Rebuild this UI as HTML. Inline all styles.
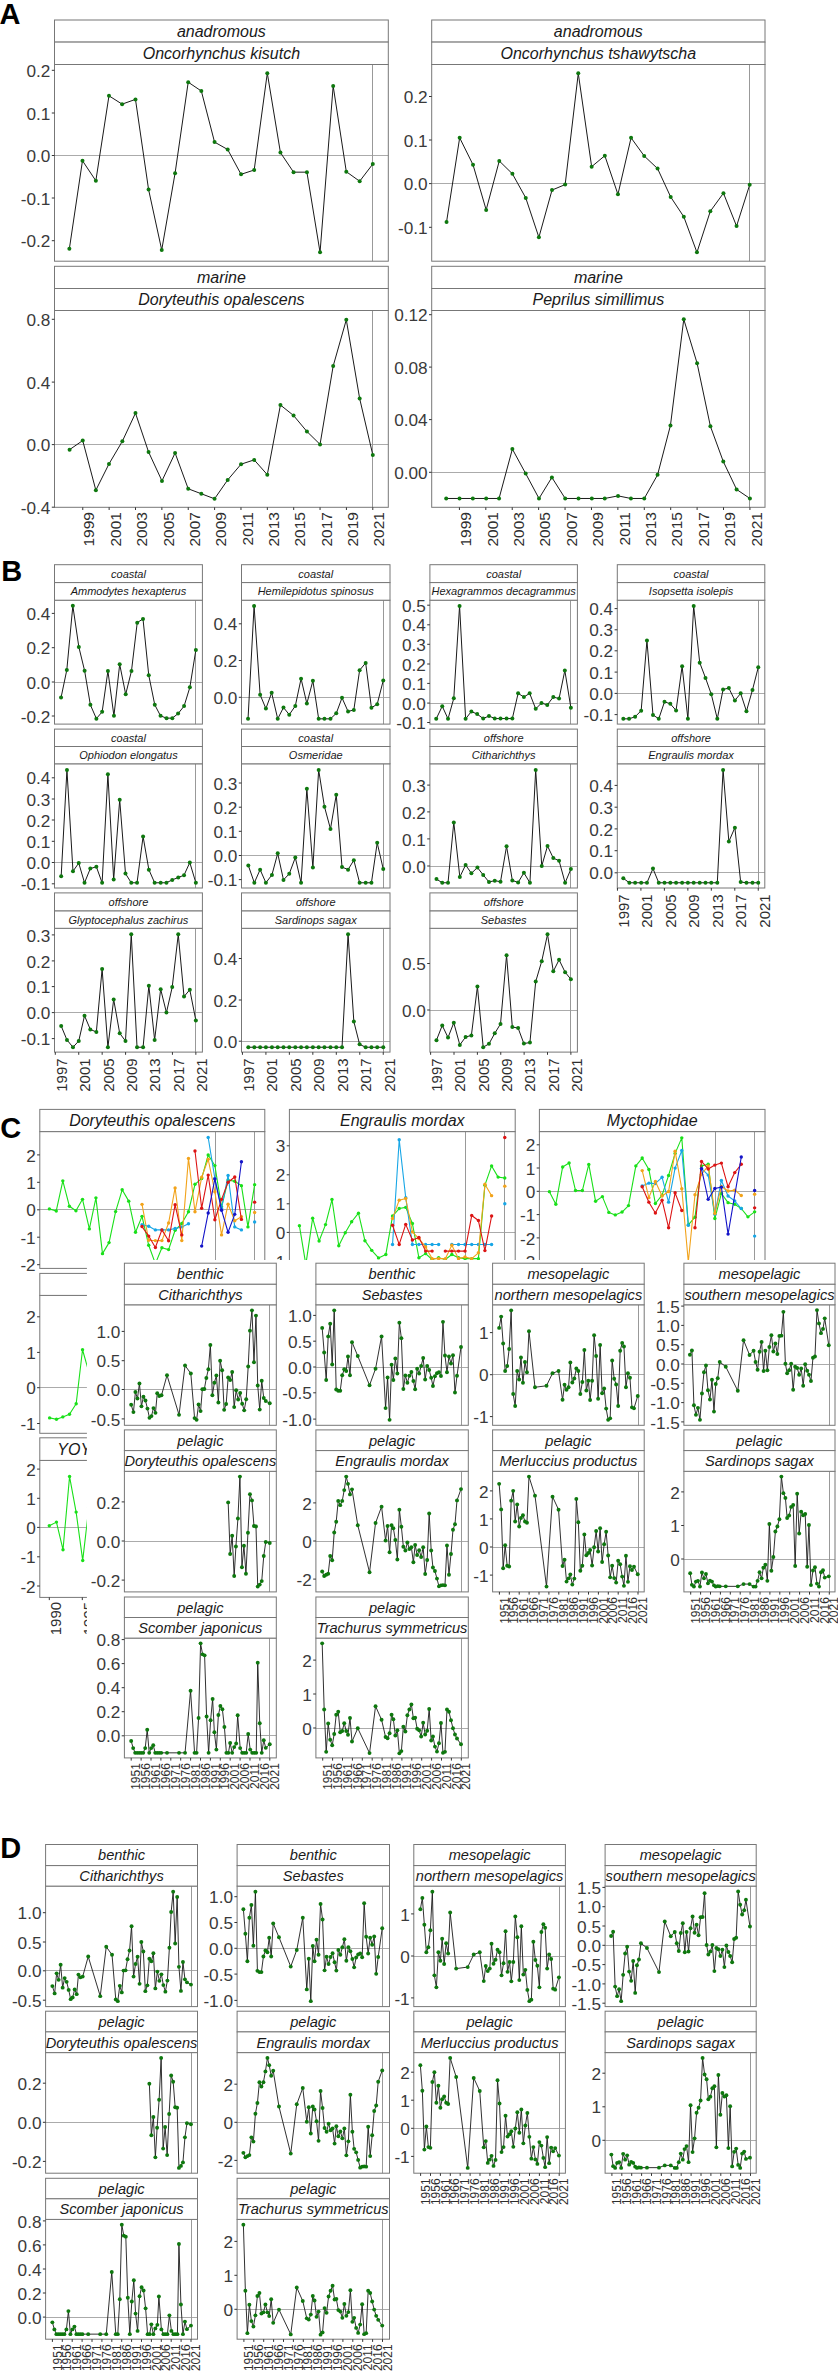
<!DOCTYPE html><html><head><meta charset="utf-8"><style>html,body{margin:0;padding:0;background:#fff;}svg{display:block;font-family:"Liberation Sans", sans-serif;}</style></head><body><svg width="838" height="2372" viewBox="0 0 838 2372"><text x="-0.5" y="24" font-size="29" text-anchor="start" fill="#000" font-weight="bold">A</text>
<rect x="54.5" y="64.5" width="333.8" height="196.7" fill="#fff"/>
<line x1="54.5" y1="155.5" x2="388.3" y2="155.5" stroke="#ababab" stroke-width="1"/>
<line x1="372.5" y1="64.5" x2="372.5" y2="261.2" stroke="#999999" stroke-width="1"/>
<polyline points="69.36,248.78 82.48,160.72 95.85,180.76 108.97,95.8 122.1,104.15 135.47,99.38 148.59,189.59 161.72,249.98 175.08,173.13 188.21,82.2 201.34,91.03 214.56,142.1 227.68,149.5 241.05,174.32 254.18,170.02 267.3,73.13 280.43,152.6 293.56,172.17 306.92,172.17 320.05,252.36 333.17,86.01 346.3,171.69 359.67,181.24 372.79,164.06" fill="none" stroke="#1a1a1a" stroke-width="1.0" stroke-linejoin="round"/>
<circle cx="69.36" cy="248.78" r="2.0" fill="#0e780e"/>
<circle cx="82.48" cy="160.72" r="2.0" fill="#0e780e"/>
<circle cx="95.85" cy="180.76" r="2.0" fill="#0e780e"/>
<circle cx="108.97" cy="95.8" r="2.0" fill="#0e780e"/>
<circle cx="122.1" cy="104.15" r="2.0" fill="#0e780e"/>
<circle cx="135.47" cy="99.38" r="2.0" fill="#0e780e"/>
<circle cx="148.59" cy="189.59" r="2.0" fill="#0e780e"/>
<circle cx="161.72" cy="249.98" r="2.0" fill="#0e780e"/>
<circle cx="175.08" cy="173.13" r="2.0" fill="#0e780e"/>
<circle cx="188.21" cy="82.2" r="2.0" fill="#0e780e"/>
<circle cx="201.34" cy="91.03" r="2.0" fill="#0e780e"/>
<circle cx="214.56" cy="142.1" r="2.0" fill="#0e780e"/>
<circle cx="227.68" cy="149.5" r="2.0" fill="#0e780e"/>
<circle cx="241.05" cy="174.32" r="2.0" fill="#0e780e"/>
<circle cx="254.18" cy="170.02" r="2.0" fill="#0e780e"/>
<circle cx="267.3" cy="73.13" r="2.0" fill="#0e780e"/>
<circle cx="280.43" cy="152.6" r="2.0" fill="#0e780e"/>
<circle cx="293.56" cy="172.17" r="2.0" fill="#0e780e"/>
<circle cx="306.92" cy="172.17" r="2.0" fill="#0e780e"/>
<circle cx="320.05" cy="252.36" r="2.0" fill="#0e780e"/>
<circle cx="333.17" cy="86.01" r="2.0" fill="#0e780e"/>
<circle cx="346.3" cy="171.69" r="2.0" fill="#0e780e"/>
<circle cx="359.67" cy="181.24" r="2.0" fill="#0e780e"/>
<circle cx="372.79" cy="164.06" r="2.0" fill="#0e780e"/>
<rect x="54.5" y="64.5" width="333.8" height="196.7" fill="none" stroke="#777777" stroke-width="1"/>
<rect x="54.5" y="20" width="333.8" height="22.1" fill="#fff" stroke="#777777" stroke-width="1"/>
<text x="221.4" y="36.81" font-size="16" text-anchor="middle" fill="#1a1a1a" font-style="italic">anadromous</text>
<rect x="54.5" y="42.1" width="333.8" height="22.4" fill="#fff" stroke="#777777" stroke-width="1"/>
<text x="221.4" y="59.06" font-size="16" text-anchor="middle" fill="#1a1a1a" font-style="italic">Oncorhynchus kisutch</text>
<line x1="51.8" y1="70.3" x2="54.5" y2="70.3" stroke="#333" stroke-width="1"/>
<text x="50.4" y="76.91" font-size="17.2" text-anchor="end" fill="#3a3a3a">0.2</text>
<line x1="51.8" y1="113" x2="54.5" y2="113" stroke="#333" stroke-width="1"/>
<text x="50.4" y="119.61" font-size="17.2" text-anchor="end" fill="#3a3a3a">0.1</text>
<line x1="51.8" y1="155.5" x2="54.5" y2="155.5" stroke="#333" stroke-width="1"/>
<text x="50.4" y="162.11" font-size="17.2" text-anchor="end" fill="#3a3a3a">0.0</text>
<line x1="51.8" y1="198" x2="54.5" y2="198" stroke="#333" stroke-width="1"/>
<text x="50.4" y="204.61" font-size="17.2" text-anchor="end" fill="#3a3a3a">-0.1</text>
<line x1="51.8" y1="240.7" x2="54.5" y2="240.7" stroke="#333" stroke-width="1"/>
<text x="50.4" y="247.31" font-size="17.2" text-anchor="end" fill="#3a3a3a">-0.2</text>
<rect x="431.7" y="64.5" width="333.3" height="196.7" fill="#fff"/>
<line x1="431.7" y1="183.5" x2="765" y2="183.5" stroke="#ababab" stroke-width="1"/>
<line x1="749.5" y1="64.5" x2="749.5" y2="261.2" stroke="#999999" stroke-width="1"/>
<polyline points="446.54,222.05 459.67,137.8 473.03,164.77 486.16,209.88 499.28,160.95 512.41,173.84 525.78,197.95 538.9,237.33 552.03,190.07 565.16,184.58 578.28,73.37 591.65,166.68 604.82,155.7 617.95,194.37 631.07,137.8 644.2,155.94 657.57,168.59 670.69,196.99 683.82,216.8 696.95,252.36 710.31,211.31 723.44,193.17 736.56,226.11 749.69,184.82" fill="none" stroke="#1a1a1a" stroke-width="1.0" stroke-linejoin="round"/>
<circle cx="446.54" cy="222.05" r="2.0" fill="#0e780e"/>
<circle cx="459.67" cy="137.8" r="2.0" fill="#0e780e"/>
<circle cx="473.03" cy="164.77" r="2.0" fill="#0e780e"/>
<circle cx="486.16" cy="209.88" r="2.0" fill="#0e780e"/>
<circle cx="499.28" cy="160.95" r="2.0" fill="#0e780e"/>
<circle cx="512.41" cy="173.84" r="2.0" fill="#0e780e"/>
<circle cx="525.78" cy="197.95" r="2.0" fill="#0e780e"/>
<circle cx="538.9" cy="237.33" r="2.0" fill="#0e780e"/>
<circle cx="552.03" cy="190.07" r="2.0" fill="#0e780e"/>
<circle cx="565.16" cy="184.58" r="2.0" fill="#0e780e"/>
<circle cx="578.28" cy="73.37" r="2.0" fill="#0e780e"/>
<circle cx="591.65" cy="166.68" r="2.0" fill="#0e780e"/>
<circle cx="604.82" cy="155.7" r="2.0" fill="#0e780e"/>
<circle cx="617.95" cy="194.37" r="2.0" fill="#0e780e"/>
<circle cx="631.07" cy="137.8" r="2.0" fill="#0e780e"/>
<circle cx="644.2" cy="155.94" r="2.0" fill="#0e780e"/>
<circle cx="657.57" cy="168.59" r="2.0" fill="#0e780e"/>
<circle cx="670.69" cy="196.99" r="2.0" fill="#0e780e"/>
<circle cx="683.82" cy="216.8" r="2.0" fill="#0e780e"/>
<circle cx="696.95" cy="252.36" r="2.0" fill="#0e780e"/>
<circle cx="710.31" cy="211.31" r="2.0" fill="#0e780e"/>
<circle cx="723.44" cy="193.17" r="2.0" fill="#0e780e"/>
<circle cx="736.56" cy="226.11" r="2.0" fill="#0e780e"/>
<circle cx="749.69" cy="184.82" r="2.0" fill="#0e780e"/>
<rect x="431.7" y="64.5" width="333.3" height="196.7" fill="none" stroke="#777777" stroke-width="1"/>
<rect x="431.7" y="20" width="333.3" height="22.1" fill="#fff" stroke="#777777" stroke-width="1"/>
<text x="598.35" y="36.81" font-size="16" text-anchor="middle" fill="#1a1a1a" font-style="italic">anadromous</text>
<rect x="431.7" y="42.1" width="333.3" height="22.4" fill="#fff" stroke="#777777" stroke-width="1"/>
<text x="598.35" y="59.06" font-size="16" text-anchor="middle" fill="#1a1a1a" font-style="italic">Oncorhynchus tshawytscha</text>
<line x1="429" y1="96.5" x2="431.7" y2="96.5" stroke="#333" stroke-width="1"/>
<text x="427.6" y="103.11" font-size="17.2" text-anchor="end" fill="#3a3a3a">0.2</text>
<line x1="429" y1="140" x2="431.7" y2="140" stroke="#333" stroke-width="1"/>
<text x="427.6" y="146.61" font-size="17.2" text-anchor="end" fill="#3a3a3a">0.1</text>
<line x1="429" y1="183.6" x2="431.7" y2="183.6" stroke="#333" stroke-width="1"/>
<text x="427.6" y="190.21" font-size="17.2" text-anchor="end" fill="#3a3a3a">0.0</text>
<line x1="429" y1="227.3" x2="431.7" y2="227.3" stroke="#333" stroke-width="1"/>
<text x="427.6" y="233.91" font-size="17.2" text-anchor="end" fill="#3a3a3a">-0.1</text>
<rect x="54.5" y="310.5" width="333.8" height="196.8" fill="#fff"/>
<line x1="54.5" y1="444.5" x2="388.3" y2="444.5" stroke="#ababab" stroke-width="1"/>
<line x1="372.5" y1="310.5" x2="372.5" y2="507.3" stroke="#999999" stroke-width="1"/>
<polyline points="69.59,449.63 82.72,440.56 95.85,490.2 108.97,463.95 122.34,441.28 135.47,413.11 148.59,452.02 161.96,480.89 175.08,452.97 188.21,488.77 201.34,493.78 214.56,498.79 227.68,479.94 241.05,464.19 254.18,459.89 267.3,474.69 280.43,405 293.56,415.5 306.92,431.49 320.05,444.38 333.17,366.1 346.3,319.8 359.67,398.56 372.79,454.88" fill="none" stroke="#1a1a1a" stroke-width="1.0" stroke-linejoin="round"/>
<circle cx="69.59" cy="449.63" r="2.0" fill="#0e780e"/>
<circle cx="82.72" cy="440.56" r="2.0" fill="#0e780e"/>
<circle cx="95.85" cy="490.2" r="2.0" fill="#0e780e"/>
<circle cx="108.97" cy="463.95" r="2.0" fill="#0e780e"/>
<circle cx="122.34" cy="441.28" r="2.0" fill="#0e780e"/>
<circle cx="135.47" cy="413.11" r="2.0" fill="#0e780e"/>
<circle cx="148.59" cy="452.02" r="2.0" fill="#0e780e"/>
<circle cx="161.96" cy="480.89" r="2.0" fill="#0e780e"/>
<circle cx="175.08" cy="452.97" r="2.0" fill="#0e780e"/>
<circle cx="188.21" cy="488.77" r="2.0" fill="#0e780e"/>
<circle cx="201.34" cy="493.78" r="2.0" fill="#0e780e"/>
<circle cx="214.56" cy="498.79" r="2.0" fill="#0e780e"/>
<circle cx="227.68" cy="479.94" r="2.0" fill="#0e780e"/>
<circle cx="241.05" cy="464.19" r="2.0" fill="#0e780e"/>
<circle cx="254.18" cy="459.89" r="2.0" fill="#0e780e"/>
<circle cx="267.3" cy="474.69" r="2.0" fill="#0e780e"/>
<circle cx="280.43" cy="405" r="2.0" fill="#0e780e"/>
<circle cx="293.56" cy="415.5" r="2.0" fill="#0e780e"/>
<circle cx="306.92" cy="431.49" r="2.0" fill="#0e780e"/>
<circle cx="320.05" cy="444.38" r="2.0" fill="#0e780e"/>
<circle cx="333.17" cy="366.1" r="2.0" fill="#0e780e"/>
<circle cx="346.3" cy="319.8" r="2.0" fill="#0e780e"/>
<circle cx="359.67" cy="398.56" r="2.0" fill="#0e780e"/>
<circle cx="372.79" cy="454.88" r="2.0" fill="#0e780e"/>
<rect x="54.5" y="310.5" width="333.8" height="196.8" fill="none" stroke="#777777" stroke-width="1"/>
<rect x="54.5" y="266.3" width="333.8" height="22.2" fill="#fff" stroke="#777777" stroke-width="1"/>
<text x="221.4" y="283.16" font-size="16" text-anchor="middle" fill="#1a1a1a" font-style="italic">marine</text>
<rect x="54.5" y="288.5" width="333.8" height="22" fill="#fff" stroke="#777777" stroke-width="1"/>
<text x="221.4" y="305.26" font-size="16" text-anchor="middle" fill="#1a1a1a" font-style="italic">Doryteuthis opalescens</text>
<line x1="51.8" y1="319.3" x2="54.5" y2="319.3" stroke="#333" stroke-width="1"/>
<text x="50.4" y="325.91" font-size="17.2" text-anchor="end" fill="#3a3a3a">0.8</text>
<line x1="51.8" y1="382.1" x2="54.5" y2="382.1" stroke="#333" stroke-width="1"/>
<text x="50.4" y="388.71" font-size="17.2" text-anchor="end" fill="#3a3a3a">0.4</text>
<line x1="51.8" y1="444.6" x2="54.5" y2="444.6" stroke="#333" stroke-width="1"/>
<text x="50.4" y="451.21" font-size="17.2" text-anchor="end" fill="#3a3a3a">0.0</text>
<line x1="51.8" y1="507.2" x2="54.5" y2="507.2" stroke="#333" stroke-width="1"/>
<text x="50.4" y="513.81" font-size="17.2" text-anchor="end" fill="#3a3a3a">-0.4</text>
<line x1="82.78" y1="507.3" x2="82.78" y2="510" stroke="#333" stroke-width="1"/>
<text transform="translate(94.47,512.1) rotate(-90)" font-size="15.5" text-anchor="end" fill="#2e2e2e">1999</text>
<line x1="109.14" y1="507.3" x2="109.14" y2="510" stroke="#333" stroke-width="1"/>
<text transform="translate(120.84,512.1) rotate(-90)" font-size="15.5" text-anchor="end" fill="#2e2e2e">2001</text>
<line x1="135.51" y1="507.3" x2="135.51" y2="510" stroke="#333" stroke-width="1"/>
<text transform="translate(147.2,512.1) rotate(-90)" font-size="15.5" text-anchor="end" fill="#2e2e2e">2003</text>
<line x1="161.87" y1="507.3" x2="161.87" y2="510" stroke="#333" stroke-width="1"/>
<text transform="translate(173.57,512.1) rotate(-90)" font-size="15.5" text-anchor="end" fill="#2e2e2e">2005</text>
<line x1="188.24" y1="507.3" x2="188.24" y2="510" stroke="#333" stroke-width="1"/>
<text transform="translate(199.94,512.1) rotate(-90)" font-size="15.5" text-anchor="end" fill="#2e2e2e">2007</text>
<line x1="214.6" y1="507.3" x2="214.6" y2="510" stroke="#333" stroke-width="1"/>
<text transform="translate(226.3,512.1) rotate(-90)" font-size="15.5" text-anchor="end" fill="#2e2e2e">2009</text>
<line x1="240.97" y1="507.3" x2="240.97" y2="510" stroke="#333" stroke-width="1"/>
<text transform="translate(252.67,512.1) rotate(-90)" font-size="15.5" text-anchor="end" fill="#2e2e2e">2011</text>
<line x1="267.33" y1="507.3" x2="267.33" y2="510" stroke="#333" stroke-width="1"/>
<text transform="translate(279.03,512.1) rotate(-90)" font-size="15.5" text-anchor="end" fill="#2e2e2e">2013</text>
<line x1="293.7" y1="507.3" x2="293.7" y2="510" stroke="#333" stroke-width="1"/>
<text transform="translate(305.4,512.1) rotate(-90)" font-size="15.5" text-anchor="end" fill="#2e2e2e">2015</text>
<line x1="320.06" y1="507.3" x2="320.06" y2="510" stroke="#333" stroke-width="1"/>
<text transform="translate(331.76,512.1) rotate(-90)" font-size="15.5" text-anchor="end" fill="#2e2e2e">2017</text>
<line x1="346.43" y1="507.3" x2="346.43" y2="510" stroke="#333" stroke-width="1"/>
<text transform="translate(358.13,512.1) rotate(-90)" font-size="15.5" text-anchor="end" fill="#2e2e2e">2019</text>
<line x1="372.79" y1="507.3" x2="372.79" y2="510" stroke="#333" stroke-width="1"/>
<text transform="translate(384.49,512.1) rotate(-90)" font-size="15.5" text-anchor="end" fill="#2e2e2e">2021</text>
<rect x="431.7" y="310.5" width="333.3" height="196.8" fill="#fff"/>
<line x1="431.7" y1="472.5" x2="765" y2="472.5" stroke="#ababab" stroke-width="1"/>
<line x1="749.5" y1="310.5" x2="749.5" y2="507.3" stroke="#999999" stroke-width="1"/>
<polyline points="446.21,498.47 459.52,498.47 472.84,498.47 486.16,498.47 499.05,498.47 512.36,449.07 525.68,473.56 539,498.47 551.89,477.42 565.2,498.47 578.52,498.47 591.84,498.47 604.73,498.47 618.04,495.89 630.93,498.47 644.25,498.47 657.57,474.84 670.45,425.44 683.77,319.33 697.09,363.15 710.41,426.3 723.29,461.53 736.61,489.45 749.93,498.47" fill="none" stroke="#1a1a1a" stroke-width="1.0" stroke-linejoin="round"/>
<circle cx="446.21" cy="498.47" r="2.0" fill="#0e780e"/>
<circle cx="459.52" cy="498.47" r="2.0" fill="#0e780e"/>
<circle cx="472.84" cy="498.47" r="2.0" fill="#0e780e"/>
<circle cx="486.16" cy="498.47" r="2.0" fill="#0e780e"/>
<circle cx="499.05" cy="498.47" r="2.0" fill="#0e780e"/>
<circle cx="512.36" cy="449.07" r="2.0" fill="#0e780e"/>
<circle cx="525.68" cy="473.56" r="2.0" fill="#0e780e"/>
<circle cx="539" cy="498.47" r="2.0" fill="#0e780e"/>
<circle cx="551.89" cy="477.42" r="2.0" fill="#0e780e"/>
<circle cx="565.2" cy="498.47" r="2.0" fill="#0e780e"/>
<circle cx="578.52" cy="498.47" r="2.0" fill="#0e780e"/>
<circle cx="591.84" cy="498.47" r="2.0" fill="#0e780e"/>
<circle cx="604.73" cy="498.47" r="2.0" fill="#0e780e"/>
<circle cx="618.04" cy="495.89" r="2.0" fill="#0e780e"/>
<circle cx="630.93" cy="498.47" r="2.0" fill="#0e780e"/>
<circle cx="644.25" cy="498.47" r="2.0" fill="#0e780e"/>
<circle cx="657.57" cy="474.84" r="2.0" fill="#0e780e"/>
<circle cx="670.45" cy="425.44" r="2.0" fill="#0e780e"/>
<circle cx="683.77" cy="319.33" r="2.0" fill="#0e780e"/>
<circle cx="697.09" cy="363.15" r="2.0" fill="#0e780e"/>
<circle cx="710.41" cy="426.3" r="2.0" fill="#0e780e"/>
<circle cx="723.29" cy="461.53" r="2.0" fill="#0e780e"/>
<circle cx="736.61" cy="489.45" r="2.0" fill="#0e780e"/>
<circle cx="749.93" cy="498.47" r="2.0" fill="#0e780e"/>
<rect x="431.7" y="310.5" width="333.3" height="196.8" fill="none" stroke="#777777" stroke-width="1"/>
<rect x="431.7" y="266.3" width="333.3" height="22.2" fill="#fff" stroke="#777777" stroke-width="1"/>
<text x="598.35" y="283.16" font-size="16" text-anchor="middle" fill="#1a1a1a" font-style="italic">marine</text>
<rect x="431.7" y="288.5" width="333.3" height="22" fill="#fff" stroke="#777777" stroke-width="1"/>
<text x="598.35" y="305.26" font-size="16" text-anchor="middle" fill="#1a1a1a" font-style="italic">Peprilus simillimus</text>
<line x1="429" y1="314.7" x2="431.7" y2="314.7" stroke="#333" stroke-width="1"/>
<text x="427.6" y="321.31" font-size="17.2" text-anchor="end" fill="#3a3a3a">0.12</text>
<line x1="429" y1="367.1" x2="431.7" y2="367.1" stroke="#333" stroke-width="1"/>
<text x="427.6" y="373.71" font-size="17.2" text-anchor="end" fill="#3a3a3a">0.08</text>
<line x1="429" y1="419.6" x2="431.7" y2="419.6" stroke="#333" stroke-width="1"/>
<text x="427.6" y="426.21" font-size="17.2" text-anchor="end" fill="#3a3a3a">0.04</text>
<line x1="429" y1="472.3" x2="431.7" y2="472.3" stroke="#333" stroke-width="1"/>
<text x="427.6" y="478.91" font-size="17.2" text-anchor="end" fill="#3a3a3a">0.00</text>
<line x1="459.41" y1="507.3" x2="459.41" y2="510" stroke="#333" stroke-width="1"/>
<text transform="translate(471.11,512.1) rotate(-90)" font-size="15.5" text-anchor="end" fill="#2e2e2e">1999</text>
<line x1="485.82" y1="507.3" x2="485.82" y2="510" stroke="#333" stroke-width="1"/>
<text transform="translate(497.52,512.1) rotate(-90)" font-size="15.5" text-anchor="end" fill="#2e2e2e">2001</text>
<line x1="512.23" y1="507.3" x2="512.23" y2="510" stroke="#333" stroke-width="1"/>
<text transform="translate(523.93,512.1) rotate(-90)" font-size="15.5" text-anchor="end" fill="#2e2e2e">2003</text>
<line x1="538.64" y1="507.3" x2="538.64" y2="510" stroke="#333" stroke-width="1"/>
<text transform="translate(550.34,512.1) rotate(-90)" font-size="15.5" text-anchor="end" fill="#2e2e2e">2005</text>
<line x1="565.05" y1="507.3" x2="565.05" y2="510" stroke="#333" stroke-width="1"/>
<text transform="translate(576.75,512.1) rotate(-90)" font-size="15.5" text-anchor="end" fill="#2e2e2e">2007</text>
<line x1="591.46" y1="507.3" x2="591.46" y2="510" stroke="#333" stroke-width="1"/>
<text transform="translate(603.16,512.1) rotate(-90)" font-size="15.5" text-anchor="end" fill="#2e2e2e">2009</text>
<line x1="617.87" y1="507.3" x2="617.87" y2="510" stroke="#333" stroke-width="1"/>
<text transform="translate(629.57,512.1) rotate(-90)" font-size="15.5" text-anchor="end" fill="#2e2e2e">2011</text>
<line x1="644.29" y1="507.3" x2="644.29" y2="510" stroke="#333" stroke-width="1"/>
<text transform="translate(655.98,512.1) rotate(-90)" font-size="15.5" text-anchor="end" fill="#2e2e2e">2013</text>
<line x1="670.7" y1="507.3" x2="670.7" y2="510" stroke="#333" stroke-width="1"/>
<text transform="translate(682.39,512.1) rotate(-90)" font-size="15.5" text-anchor="end" fill="#2e2e2e">2015</text>
<line x1="697.11" y1="507.3" x2="697.11" y2="510" stroke="#333" stroke-width="1"/>
<text transform="translate(708.8,512.1) rotate(-90)" font-size="15.5" text-anchor="end" fill="#2e2e2e">2017</text>
<line x1="723.52" y1="507.3" x2="723.52" y2="510" stroke="#333" stroke-width="1"/>
<text transform="translate(735.22,512.1) rotate(-90)" font-size="15.5" text-anchor="end" fill="#2e2e2e">2019</text>
<line x1="749.93" y1="507.3" x2="749.93" y2="510" stroke="#333" stroke-width="1"/>
<text transform="translate(761.63,512.1) rotate(-90)" font-size="15.5" text-anchor="end" fill="#2e2e2e">2021</text>
<text x="1.2" y="580.8" font-size="29" text-anchor="start" fill="#000" font-weight="bold">B</text>
<rect x="54.5" y="600.2" width="147.9" height="123.9" fill="#fff"/>
<line x1="54.5" y1="682.5" x2="202.4" y2="682.5" stroke="#ababab" stroke-width="1"/>
<line x1="195.5" y1="600.2" x2="195.5" y2="724.1" stroke="#999999" stroke-width="1"/>
<polyline points="61.05,697.58 66.81,670.01 72.83,605.86 78.84,646.96 84.61,670.76 90.37,704.84 96.38,718.63 102.15,711.86 107.91,671.01 113.93,715.87 119.69,664.25 125.7,694.32 131.47,671.01 137.23,622.65 143,618.89 148.76,675.27 154.77,704.84 160.54,715.87 166.55,718.13 172.32,718.13 178.08,713.62 184.09,706.1 189.86,687.3 195.87,649.96" fill="none" stroke="#1a1a1a" stroke-width="1.0" stroke-linejoin="round"/>
<circle cx="61.05" cy="697.58" r="2.0" fill="#0e780e"/>
<circle cx="66.81" cy="670.01" r="2.0" fill="#0e780e"/>
<circle cx="72.83" cy="605.86" r="2.0" fill="#0e780e"/>
<circle cx="78.84" cy="646.96" r="2.0" fill="#0e780e"/>
<circle cx="84.61" cy="670.76" r="2.0" fill="#0e780e"/>
<circle cx="90.37" cy="704.84" r="2.0" fill="#0e780e"/>
<circle cx="96.38" cy="718.63" r="2.0" fill="#0e780e"/>
<circle cx="102.15" cy="711.86" r="2.0" fill="#0e780e"/>
<circle cx="107.91" cy="671.01" r="2.0" fill="#0e780e"/>
<circle cx="113.93" cy="715.87" r="2.0" fill="#0e780e"/>
<circle cx="119.69" cy="664.25" r="2.0" fill="#0e780e"/>
<circle cx="125.7" cy="694.32" r="2.0" fill="#0e780e"/>
<circle cx="131.47" cy="671.01" r="2.0" fill="#0e780e"/>
<circle cx="137.23" cy="622.65" r="2.0" fill="#0e780e"/>
<circle cx="143" cy="618.89" r="2.0" fill="#0e780e"/>
<circle cx="148.76" cy="675.27" r="2.0" fill="#0e780e"/>
<circle cx="154.77" cy="704.84" r="2.0" fill="#0e780e"/>
<circle cx="160.54" cy="715.87" r="2.0" fill="#0e780e"/>
<circle cx="166.55" cy="718.13" r="2.0" fill="#0e780e"/>
<circle cx="172.32" cy="718.13" r="2.0" fill="#0e780e"/>
<circle cx="178.08" cy="713.62" r="2.0" fill="#0e780e"/>
<circle cx="184.09" cy="706.1" r="2.0" fill="#0e780e"/>
<circle cx="189.86" cy="687.3" r="2.0" fill="#0e780e"/>
<circle cx="195.87" cy="649.96" r="2.0" fill="#0e780e"/>
<rect x="54.5" y="600.2" width="147.9" height="123.9" fill="none" stroke="#777777" stroke-width="1"/>
<rect x="54.5" y="564.7" width="147.9" height="17.9" fill="#fff" stroke="#777777" stroke-width="1"/>
<text x="128.45" y="577.61" font-size="11" text-anchor="middle" fill="#1a1a1a" font-style="italic">coastal</text>
<rect x="54.5" y="582.6" width="147.9" height="17.6" fill="#fff" stroke="#777777" stroke-width="1"/>
<text x="128.45" y="595.36" font-size="11" text-anchor="middle" fill="#1a1a1a" font-style="italic">Ammodytes hexapterus</text>
<line x1="51.8" y1="613.4" x2="54.5" y2="613.4" stroke="#333" stroke-width="1"/>
<text x="50.4" y="620.01" font-size="17.2" text-anchor="end" fill="#3a3a3a">0.4</text>
<line x1="51.8" y1="647.7" x2="54.5" y2="647.7" stroke="#333" stroke-width="1"/>
<text x="50.4" y="654.31" font-size="17.2" text-anchor="end" fill="#3a3a3a">0.2</text>
<line x1="51.8" y1="682" x2="54.5" y2="682" stroke="#333" stroke-width="1"/>
<text x="50.4" y="688.61" font-size="17.2" text-anchor="end" fill="#3a3a3a">0.0</text>
<line x1="51.8" y1="716" x2="54.5" y2="716" stroke="#333" stroke-width="1"/>
<text x="50.4" y="722.61" font-size="17.2" text-anchor="end" fill="#3a3a3a">-0.2</text>
<rect x="241.5" y="600.2" width="148.5" height="123.9" fill="#fff"/>
<line x1="241.5" y1="697.5" x2="390" y2="697.5" stroke="#ababab" stroke-width="1"/>
<line x1="383.5" y1="600.2" x2="383.5" y2="724.1" stroke="#999999" stroke-width="1"/>
<polyline points="248.04,718.83 254.08,605.94 260.12,694.68 265.89,708.59 271.67,692.84 277.71,718.83 283.48,707.54 289.26,714.63 295.3,705.97 301.07,678.66 306.85,703.6 312.89,680.76 318.66,718.83 324.44,718.83 330.48,718.83 336.25,713.32 342.03,697.83 348.07,711.48 353.84,709.9 359.62,670.26 365.66,662.91 371.43,707.8 377.21,704.13 383.25,680.5" fill="none" stroke="#1a1a1a" stroke-width="1.0" stroke-linejoin="round"/>
<circle cx="248.04" cy="718.83" r="2.0" fill="#0e780e"/>
<circle cx="254.08" cy="605.94" r="2.0" fill="#0e780e"/>
<circle cx="260.12" cy="694.68" r="2.0" fill="#0e780e"/>
<circle cx="265.89" cy="708.59" r="2.0" fill="#0e780e"/>
<circle cx="271.67" cy="692.84" r="2.0" fill="#0e780e"/>
<circle cx="277.71" cy="718.83" r="2.0" fill="#0e780e"/>
<circle cx="283.48" cy="707.54" r="2.0" fill="#0e780e"/>
<circle cx="289.26" cy="714.63" r="2.0" fill="#0e780e"/>
<circle cx="295.3" cy="705.97" r="2.0" fill="#0e780e"/>
<circle cx="301.07" cy="678.66" r="2.0" fill="#0e780e"/>
<circle cx="306.85" cy="703.6" r="2.0" fill="#0e780e"/>
<circle cx="312.89" cy="680.76" r="2.0" fill="#0e780e"/>
<circle cx="318.66" cy="718.83" r="2.0" fill="#0e780e"/>
<circle cx="324.44" cy="718.83" r="2.0" fill="#0e780e"/>
<circle cx="330.48" cy="718.83" r="2.0" fill="#0e780e"/>
<circle cx="336.25" cy="713.32" r="2.0" fill="#0e780e"/>
<circle cx="342.03" cy="697.83" r="2.0" fill="#0e780e"/>
<circle cx="348.07" cy="711.48" r="2.0" fill="#0e780e"/>
<circle cx="353.84" cy="709.9" r="2.0" fill="#0e780e"/>
<circle cx="359.62" cy="670.26" r="2.0" fill="#0e780e"/>
<circle cx="365.66" cy="662.91" r="2.0" fill="#0e780e"/>
<circle cx="371.43" cy="707.8" r="2.0" fill="#0e780e"/>
<circle cx="377.21" cy="704.13" r="2.0" fill="#0e780e"/>
<circle cx="383.25" cy="680.5" r="2.0" fill="#0e780e"/>
<rect x="241.5" y="600.2" width="148.5" height="123.9" fill="none" stroke="#777777" stroke-width="1"/>
<rect x="241.5" y="564.7" width="148.5" height="17.9" fill="#fff" stroke="#777777" stroke-width="1"/>
<text x="315.75" y="577.61" font-size="11" text-anchor="middle" fill="#1a1a1a" font-style="italic">coastal</text>
<rect x="241.5" y="582.6" width="148.5" height="17.6" fill="#fff" stroke="#777777" stroke-width="1"/>
<text x="315.75" y="595.36" font-size="11" text-anchor="middle" fill="#1a1a1a" font-style="italic">Hemilepidotus spinosus</text>
<line x1="238.8" y1="623.8" x2="241.5" y2="623.8" stroke="#333" stroke-width="1"/>
<text x="237.4" y="630.41" font-size="17.2" text-anchor="end" fill="#3a3a3a">0.4</text>
<line x1="238.8" y1="660.5" x2="241.5" y2="660.5" stroke="#333" stroke-width="1"/>
<text x="237.4" y="667.11" font-size="17.2" text-anchor="end" fill="#3a3a3a">0.2</text>
<line x1="238.8" y1="697.3" x2="241.5" y2="697.3" stroke="#333" stroke-width="1"/>
<text x="237.4" y="703.91" font-size="17.2" text-anchor="end" fill="#3a3a3a">0.0</text>
<rect x="429.9" y="600.2" width="147.5" height="123.9" fill="#fff"/>
<line x1="429.9" y1="703.5" x2="577.4" y2="703.5" stroke="#ababab" stroke-width="1"/>
<line x1="570.5" y1="600.2" x2="570.5" y2="724.1" stroke="#999999" stroke-width="1"/>
<polyline points="436.21,718.83 442.24,706.23 448.02,718.83 453.79,698.35 459.57,605.94 465.61,718.83 471.38,711.48 477.16,714.11 483.2,718.57 488.97,715.94 494.75,718.57 500.53,718.57 506.56,718.57 512.34,718.57 518.11,693.37 523.89,697.04 529.67,693.37 535.7,708.85 541.48,703.08 547.26,704.92 553.29,697.04 559.07,698.62 564.84,670.53 570.88,707.8" fill="none" stroke="#1a1a1a" stroke-width="1.0" stroke-linejoin="round"/>
<circle cx="436.21" cy="718.83" r="2.0" fill="#0e780e"/>
<circle cx="442.24" cy="706.23" r="2.0" fill="#0e780e"/>
<circle cx="448.02" cy="718.83" r="2.0" fill="#0e780e"/>
<circle cx="453.79" cy="698.35" r="2.0" fill="#0e780e"/>
<circle cx="459.57" cy="605.94" r="2.0" fill="#0e780e"/>
<circle cx="465.61" cy="718.83" r="2.0" fill="#0e780e"/>
<circle cx="471.38" cy="711.48" r="2.0" fill="#0e780e"/>
<circle cx="477.16" cy="714.11" r="2.0" fill="#0e780e"/>
<circle cx="483.2" cy="718.57" r="2.0" fill="#0e780e"/>
<circle cx="488.97" cy="715.94" r="2.0" fill="#0e780e"/>
<circle cx="494.75" cy="718.57" r="2.0" fill="#0e780e"/>
<circle cx="500.53" cy="718.57" r="2.0" fill="#0e780e"/>
<circle cx="506.56" cy="718.57" r="2.0" fill="#0e780e"/>
<circle cx="512.34" cy="718.57" r="2.0" fill="#0e780e"/>
<circle cx="518.11" cy="693.37" r="2.0" fill="#0e780e"/>
<circle cx="523.89" cy="697.04" r="2.0" fill="#0e780e"/>
<circle cx="529.67" cy="693.37" r="2.0" fill="#0e780e"/>
<circle cx="535.7" cy="708.85" r="2.0" fill="#0e780e"/>
<circle cx="541.48" cy="703.08" r="2.0" fill="#0e780e"/>
<circle cx="547.26" cy="704.92" r="2.0" fill="#0e780e"/>
<circle cx="553.29" cy="697.04" r="2.0" fill="#0e780e"/>
<circle cx="559.07" cy="698.62" r="2.0" fill="#0e780e"/>
<circle cx="564.84" cy="670.53" r="2.0" fill="#0e780e"/>
<circle cx="570.88" cy="707.8" r="2.0" fill="#0e780e"/>
<rect x="429.9" y="600.2" width="147.5" height="123.9" fill="none" stroke="#777777" stroke-width="1"/>
<rect x="429.9" y="564.7" width="147.5" height="17.9" fill="#fff" stroke="#777777" stroke-width="1"/>
<text x="503.65" y="577.61" font-size="11" text-anchor="middle" fill="#1a1a1a" font-style="italic">coastal</text>
<rect x="429.9" y="582.6" width="147.5" height="17.6" fill="#fff" stroke="#777777" stroke-width="1"/>
<text x="503.65" y="595.36" font-size="11" text-anchor="middle" fill="#1a1a1a" font-style="italic">Hexagrammos decagrammus</text>
<line x1="427.2" y1="605.2" x2="429.9" y2="605.2" stroke="#333" stroke-width="1"/>
<text x="425.8" y="611.81" font-size="17.2" text-anchor="end" fill="#3a3a3a">0.5</text>
<line x1="427.2" y1="624.8" x2="429.9" y2="624.8" stroke="#333" stroke-width="1"/>
<text x="425.8" y="631.41" font-size="17.2" text-anchor="end" fill="#3a3a3a">0.4</text>
<line x1="427.2" y1="644.3" x2="429.9" y2="644.3" stroke="#333" stroke-width="1"/>
<text x="425.8" y="650.91" font-size="17.2" text-anchor="end" fill="#3a3a3a">0.3</text>
<line x1="427.2" y1="664" x2="429.9" y2="664" stroke="#333" stroke-width="1"/>
<text x="425.8" y="670.61" font-size="17.2" text-anchor="end" fill="#3a3a3a">0.2</text>
<line x1="427.2" y1="683.4" x2="429.9" y2="683.4" stroke="#333" stroke-width="1"/>
<text x="425.8" y="690.01" font-size="17.2" text-anchor="end" fill="#3a3a3a">0.1</text>
<line x1="427.2" y1="703.1" x2="429.9" y2="703.1" stroke="#333" stroke-width="1"/>
<text x="425.8" y="709.71" font-size="17.2" text-anchor="end" fill="#3a3a3a">0.0</text>
<line x1="427.2" y1="722.5" x2="429.9" y2="722.5" stroke="#333" stroke-width="1"/>
<text x="425.8" y="729.11" font-size="17.2" text-anchor="end" fill="#3a3a3a">-0.1</text>
<rect x="617.3" y="600.2" width="147.5" height="123.9" fill="#fff"/>
<line x1="617.3" y1="693.5" x2="764.8" y2="693.5" stroke="#ababab" stroke-width="1"/>
<line x1="758.5" y1="600.2" x2="758.5" y2="724.1" stroke="#999999" stroke-width="1"/>
<polyline points="623.32,718.83 629.09,718.83 635.13,716.73 641.17,710.69 646.95,640.6 652.98,714.89 658.76,718.83 664.53,701.77 670.31,703.87 676.09,710.43 682.12,666.32 687.9,718.83 693.68,605.94 699.71,662.65 705.49,677.88 711.26,694.15 717.3,718.83 723.08,689.43 728.85,688.11 734.89,700.45 740.67,693.37 746.44,711.22 752.48,689.95 758.26,667.37" fill="none" stroke="#1a1a1a" stroke-width="1.0" stroke-linejoin="round"/>
<circle cx="623.32" cy="718.83" r="2.0" fill="#0e780e"/>
<circle cx="629.09" cy="718.83" r="2.0" fill="#0e780e"/>
<circle cx="635.13" cy="716.73" r="2.0" fill="#0e780e"/>
<circle cx="641.17" cy="710.69" r="2.0" fill="#0e780e"/>
<circle cx="646.95" cy="640.6" r="2.0" fill="#0e780e"/>
<circle cx="652.98" cy="714.89" r="2.0" fill="#0e780e"/>
<circle cx="658.76" cy="718.83" r="2.0" fill="#0e780e"/>
<circle cx="664.53" cy="701.77" r="2.0" fill="#0e780e"/>
<circle cx="670.31" cy="703.87" r="2.0" fill="#0e780e"/>
<circle cx="676.09" cy="710.43" r="2.0" fill="#0e780e"/>
<circle cx="682.12" cy="666.32" r="2.0" fill="#0e780e"/>
<circle cx="687.9" cy="718.83" r="2.0" fill="#0e780e"/>
<circle cx="693.68" cy="605.94" r="2.0" fill="#0e780e"/>
<circle cx="699.71" cy="662.65" r="2.0" fill="#0e780e"/>
<circle cx="705.49" cy="677.88" r="2.0" fill="#0e780e"/>
<circle cx="711.26" cy="694.15" r="2.0" fill="#0e780e"/>
<circle cx="717.3" cy="718.83" r="2.0" fill="#0e780e"/>
<circle cx="723.08" cy="689.43" r="2.0" fill="#0e780e"/>
<circle cx="728.85" cy="688.11" r="2.0" fill="#0e780e"/>
<circle cx="734.89" cy="700.45" r="2.0" fill="#0e780e"/>
<circle cx="740.67" cy="693.37" r="2.0" fill="#0e780e"/>
<circle cx="746.44" cy="711.22" r="2.0" fill="#0e780e"/>
<circle cx="752.48" cy="689.95" r="2.0" fill="#0e780e"/>
<circle cx="758.26" cy="667.37" r="2.0" fill="#0e780e"/>
<rect x="617.3" y="600.2" width="147.5" height="123.9" fill="none" stroke="#777777" stroke-width="1"/>
<rect x="617.3" y="564.7" width="147.5" height="17.9" fill="#fff" stroke="#777777" stroke-width="1"/>
<text x="691.05" y="577.61" font-size="11" text-anchor="middle" fill="#1a1a1a" font-style="italic">coastal</text>
<rect x="617.3" y="582.6" width="147.5" height="17.6" fill="#fff" stroke="#777777" stroke-width="1"/>
<text x="691.05" y="595.36" font-size="11" text-anchor="middle" fill="#1a1a1a" font-style="italic">Isopsetta isolepis</text>
<line x1="614.6" y1="608.6" x2="617.3" y2="608.6" stroke="#333" stroke-width="1"/>
<text x="613.2" y="615.21" font-size="17.2" text-anchor="end" fill="#3a3a3a">0.4</text>
<line x1="614.6" y1="629.8" x2="617.3" y2="629.8" stroke="#333" stroke-width="1"/>
<text x="613.2" y="636.41" font-size="17.2" text-anchor="end" fill="#3a3a3a">0.3</text>
<line x1="614.6" y1="650.8" x2="617.3" y2="650.8" stroke="#333" stroke-width="1"/>
<text x="613.2" y="657.41" font-size="17.2" text-anchor="end" fill="#3a3a3a">0.2</text>
<line x1="614.6" y1="672.1" x2="617.3" y2="672.1" stroke="#333" stroke-width="1"/>
<text x="613.2" y="678.71" font-size="17.2" text-anchor="end" fill="#3a3a3a">0.1</text>
<line x1="614.6" y1="693.4" x2="617.3" y2="693.4" stroke="#333" stroke-width="1"/>
<text x="613.2" y="700.01" font-size="17.2" text-anchor="end" fill="#3a3a3a">0.0</text>
<line x1="614.6" y1="714.6" x2="617.3" y2="714.6" stroke="#333" stroke-width="1"/>
<text x="613.2" y="721.21" font-size="17.2" text-anchor="end" fill="#3a3a3a">-0.1</text>
<rect x="54.5" y="763.8" width="147.9" height="124.2" fill="#fff"/>
<line x1="54.5" y1="862.5" x2="202.4" y2="862.5" stroke="#ababab" stroke-width="1"/>
<line x1="195.5" y1="763.8" x2="195.5" y2="888" stroke="#999999" stroke-width="1"/>
<polyline points="61.17,876.21 66.95,769.88 72.98,871.22 78.76,863.08 84.53,882.77 90.31,868.59 96.35,866.75 102.12,882.77 107.9,774.34 113.68,879.62 119.71,799.81 125.49,873.58 131.26,882.77 137.04,882.77 143.08,836.56 148.85,869.64 154.63,882.77 160.67,882.77 166.44,882.77 172.22,879.88 178.26,877.52 184.03,875.16 189.81,862.55 195.85,882.77" fill="none" stroke="#1a1a1a" stroke-width="1.0" stroke-linejoin="round"/>
<circle cx="61.17" cy="876.21" r="2.0" fill="#0e780e"/>
<circle cx="66.95" cy="769.88" r="2.0" fill="#0e780e"/>
<circle cx="72.98" cy="871.22" r="2.0" fill="#0e780e"/>
<circle cx="78.76" cy="863.08" r="2.0" fill="#0e780e"/>
<circle cx="84.53" cy="882.77" r="2.0" fill="#0e780e"/>
<circle cx="90.31" cy="868.59" r="2.0" fill="#0e780e"/>
<circle cx="96.35" cy="866.75" r="2.0" fill="#0e780e"/>
<circle cx="102.12" cy="882.77" r="2.0" fill="#0e780e"/>
<circle cx="107.9" cy="774.34" r="2.0" fill="#0e780e"/>
<circle cx="113.68" cy="879.62" r="2.0" fill="#0e780e"/>
<circle cx="119.71" cy="799.81" r="2.0" fill="#0e780e"/>
<circle cx="125.49" cy="873.58" r="2.0" fill="#0e780e"/>
<circle cx="131.26" cy="882.77" r="2.0" fill="#0e780e"/>
<circle cx="137.04" cy="882.77" r="2.0" fill="#0e780e"/>
<circle cx="143.08" cy="836.56" r="2.0" fill="#0e780e"/>
<circle cx="148.85" cy="869.64" r="2.0" fill="#0e780e"/>
<circle cx="154.63" cy="882.77" r="2.0" fill="#0e780e"/>
<circle cx="160.67" cy="882.77" r="2.0" fill="#0e780e"/>
<circle cx="166.44" cy="882.77" r="2.0" fill="#0e780e"/>
<circle cx="172.22" cy="879.88" r="2.0" fill="#0e780e"/>
<circle cx="178.26" cy="877.52" r="2.0" fill="#0e780e"/>
<circle cx="184.03" cy="875.16" r="2.0" fill="#0e780e"/>
<circle cx="189.81" cy="862.55" r="2.0" fill="#0e780e"/>
<circle cx="195.85" cy="882.77" r="2.0" fill="#0e780e"/>
<rect x="54.5" y="763.8" width="147.9" height="124.2" fill="none" stroke="#777777" stroke-width="1"/>
<rect x="54.5" y="729.1" width="147.9" height="17.4" fill="#fff" stroke="#777777" stroke-width="1"/>
<text x="128.45" y="741.76" font-size="11" text-anchor="middle" fill="#1a1a1a" font-style="italic">coastal</text>
<rect x="54.5" y="746.5" width="147.9" height="17.3" fill="#fff" stroke="#777777" stroke-width="1"/>
<text x="128.45" y="759.11" font-size="11" text-anchor="middle" fill="#1a1a1a" font-style="italic">Ophiodon elongatus</text>
<line x1="51.8" y1="777.8" x2="54.5" y2="777.8" stroke="#333" stroke-width="1"/>
<text x="50.4" y="784.41" font-size="17.2" text-anchor="end" fill="#3a3a3a">0.4</text>
<line x1="51.8" y1="799" x2="54.5" y2="799" stroke="#333" stroke-width="1"/>
<text x="50.4" y="805.61" font-size="17.2" text-anchor="end" fill="#3a3a3a">0.3</text>
<line x1="51.8" y1="820" x2="54.5" y2="820" stroke="#333" stroke-width="1"/>
<text x="50.4" y="826.61" font-size="17.2" text-anchor="end" fill="#3a3a3a">0.2</text>
<line x1="51.8" y1="841.3" x2="54.5" y2="841.3" stroke="#333" stroke-width="1"/>
<text x="50.4" y="847.91" font-size="17.2" text-anchor="end" fill="#3a3a3a">0.1</text>
<line x1="51.8" y1="862.5" x2="54.5" y2="862.5" stroke="#333" stroke-width="1"/>
<text x="50.4" y="869.11" font-size="17.2" text-anchor="end" fill="#3a3a3a">0.0</text>
<line x1="51.8" y1="883.8" x2="54.5" y2="883.8" stroke="#333" stroke-width="1"/>
<text x="50.4" y="890.41" font-size="17.2" text-anchor="end" fill="#3a3a3a">-0.1</text>
<rect x="241.5" y="763.8" width="148.5" height="124.2" fill="#fff"/>
<line x1="241.5" y1="855.5" x2="390" y2="855.5" stroke="#ababab" stroke-width="1"/>
<line x1="383.5" y1="763.8" x2="383.5" y2="888" stroke="#999999" stroke-width="1"/>
<polyline points="248.31,865.44 254.34,882.77 260.12,869.64 265.89,882.77 271.93,874.89 277.71,853.37 283.48,879.88 289.26,873.84 295.3,857.57 301.07,882.77 306.85,788.78 312.89,867.54 318.66,769.88 324.44,806.63 330.48,828.95 336.25,794.82 342.03,867.02 348.07,869.64 353.84,860.19 359.62,882.77 365.66,882.77 371.43,882.77 377.21,842.86 383.25,869.12" fill="none" stroke="#1a1a1a" stroke-width="1.0" stroke-linejoin="round"/>
<circle cx="248.31" cy="865.44" r="2.0" fill="#0e780e"/>
<circle cx="254.34" cy="882.77" r="2.0" fill="#0e780e"/>
<circle cx="260.12" cy="869.64" r="2.0" fill="#0e780e"/>
<circle cx="265.89" cy="882.77" r="2.0" fill="#0e780e"/>
<circle cx="271.93" cy="874.89" r="2.0" fill="#0e780e"/>
<circle cx="277.71" cy="853.37" r="2.0" fill="#0e780e"/>
<circle cx="283.48" cy="879.88" r="2.0" fill="#0e780e"/>
<circle cx="289.26" cy="873.84" r="2.0" fill="#0e780e"/>
<circle cx="295.3" cy="857.57" r="2.0" fill="#0e780e"/>
<circle cx="301.07" cy="882.77" r="2.0" fill="#0e780e"/>
<circle cx="306.85" cy="788.78" r="2.0" fill="#0e780e"/>
<circle cx="312.89" cy="867.54" r="2.0" fill="#0e780e"/>
<circle cx="318.66" cy="769.88" r="2.0" fill="#0e780e"/>
<circle cx="324.44" cy="806.63" r="2.0" fill="#0e780e"/>
<circle cx="330.48" cy="828.95" r="2.0" fill="#0e780e"/>
<circle cx="336.25" cy="794.82" r="2.0" fill="#0e780e"/>
<circle cx="342.03" cy="867.02" r="2.0" fill="#0e780e"/>
<circle cx="348.07" cy="869.64" r="2.0" fill="#0e780e"/>
<circle cx="353.84" cy="860.19" r="2.0" fill="#0e780e"/>
<circle cx="359.62" cy="882.77" r="2.0" fill="#0e780e"/>
<circle cx="365.66" cy="882.77" r="2.0" fill="#0e780e"/>
<circle cx="371.43" cy="882.77" r="2.0" fill="#0e780e"/>
<circle cx="377.21" cy="842.86" r="2.0" fill="#0e780e"/>
<circle cx="383.25" cy="869.12" r="2.0" fill="#0e780e"/>
<rect x="241.5" y="763.8" width="148.5" height="124.2" fill="none" stroke="#777777" stroke-width="1"/>
<rect x="241.5" y="729.1" width="148.5" height="17.4" fill="#fff" stroke="#777777" stroke-width="1"/>
<text x="315.75" y="741.76" font-size="11" text-anchor="middle" fill="#1a1a1a" font-style="italic">coastal</text>
<rect x="241.5" y="746.5" width="148.5" height="17.3" fill="#fff" stroke="#777777" stroke-width="1"/>
<text x="315.75" y="759.11" font-size="11" text-anchor="middle" fill="#1a1a1a" font-style="italic">Osmeridae</text>
<line x1="238.8" y1="783" x2="241.5" y2="783" stroke="#333" stroke-width="1"/>
<text x="237.4" y="789.61" font-size="17.2" text-anchor="end" fill="#3a3a3a">0.3</text>
<line x1="238.8" y1="807.2" x2="241.5" y2="807.2" stroke="#333" stroke-width="1"/>
<text x="237.4" y="813.81" font-size="17.2" text-anchor="end" fill="#3a3a3a">0.2</text>
<line x1="238.8" y1="831.3" x2="241.5" y2="831.3" stroke="#333" stroke-width="1"/>
<text x="237.4" y="837.91" font-size="17.2" text-anchor="end" fill="#3a3a3a">0.1</text>
<line x1="238.8" y1="855.5" x2="241.5" y2="855.5" stroke="#333" stroke-width="1"/>
<text x="237.4" y="862.11" font-size="17.2" text-anchor="end" fill="#3a3a3a">0.0</text>
<line x1="238.8" y1="879.6" x2="241.5" y2="879.6" stroke="#333" stroke-width="1"/>
<text x="237.4" y="886.21" font-size="17.2" text-anchor="end" fill="#3a3a3a">-0.1</text>
<rect x="429.9" y="763.8" width="147.5" height="124.2" fill="#fff"/>
<line x1="429.9" y1="866.5" x2="577.4" y2="866.5" stroke="#ababab" stroke-width="1"/>
<line x1="570.5" y1="763.8" x2="570.5" y2="888" stroke="#999999" stroke-width="1"/>
<polyline points="436.47,879.09 442.24,882.77 448.02,882.77 453.79,822.39 459.83,876.99 465.61,864.92 471.38,873.32 477.42,867.54 483.2,874.89 488.97,881.98 494.75,880.67 500.53,881.72 506.56,846.28 512.34,880.41 518.11,882.51 523.89,872.79 529.93,882.77 535.7,769.88 541.74,865.97 547.52,846.01 553.29,858.09 559.07,860.72 565.11,882.77 570.88,869.12" fill="none" stroke="#1a1a1a" stroke-width="1.0" stroke-linejoin="round"/>
<circle cx="436.47" cy="879.09" r="2.0" fill="#0e780e"/>
<circle cx="442.24" cy="882.77" r="2.0" fill="#0e780e"/>
<circle cx="448.02" cy="882.77" r="2.0" fill="#0e780e"/>
<circle cx="453.79" cy="822.39" r="2.0" fill="#0e780e"/>
<circle cx="459.83" cy="876.99" r="2.0" fill="#0e780e"/>
<circle cx="465.61" cy="864.92" r="2.0" fill="#0e780e"/>
<circle cx="471.38" cy="873.32" r="2.0" fill="#0e780e"/>
<circle cx="477.42" cy="867.54" r="2.0" fill="#0e780e"/>
<circle cx="483.2" cy="874.89" r="2.0" fill="#0e780e"/>
<circle cx="488.97" cy="881.98" r="2.0" fill="#0e780e"/>
<circle cx="494.75" cy="880.67" r="2.0" fill="#0e780e"/>
<circle cx="500.53" cy="881.72" r="2.0" fill="#0e780e"/>
<circle cx="506.56" cy="846.28" r="2.0" fill="#0e780e"/>
<circle cx="512.34" cy="880.41" r="2.0" fill="#0e780e"/>
<circle cx="518.11" cy="882.51" r="2.0" fill="#0e780e"/>
<circle cx="523.89" cy="872.79" r="2.0" fill="#0e780e"/>
<circle cx="529.93" cy="882.77" r="2.0" fill="#0e780e"/>
<circle cx="535.7" cy="769.88" r="2.0" fill="#0e780e"/>
<circle cx="541.74" cy="865.97" r="2.0" fill="#0e780e"/>
<circle cx="547.52" cy="846.01" r="2.0" fill="#0e780e"/>
<circle cx="553.29" cy="858.09" r="2.0" fill="#0e780e"/>
<circle cx="559.07" cy="860.72" r="2.0" fill="#0e780e"/>
<circle cx="565.11" cy="882.77" r="2.0" fill="#0e780e"/>
<circle cx="570.88" cy="869.12" r="2.0" fill="#0e780e"/>
<rect x="429.9" y="763.8" width="147.5" height="124.2" fill="none" stroke="#777777" stroke-width="1"/>
<rect x="429.9" y="729.1" width="147.5" height="17.4" fill="#fff" stroke="#777777" stroke-width="1"/>
<text x="503.65" y="741.76" font-size="11" text-anchor="middle" fill="#1a1a1a" font-style="italic">offshore</text>
<rect x="429.9" y="746.5" width="147.5" height="17.3" fill="#fff" stroke="#777777" stroke-width="1"/>
<text x="503.65" y="759.11" font-size="11" text-anchor="middle" fill="#1a1a1a" font-style="italic">Citharichthys</text>
<line x1="427.2" y1="785.1" x2="429.9" y2="785.1" stroke="#333" stroke-width="1"/>
<text x="425.8" y="791.71" font-size="17.2" text-anchor="end" fill="#3a3a3a">0.3</text>
<line x1="427.2" y1="811.9" x2="429.9" y2="811.9" stroke="#333" stroke-width="1"/>
<text x="425.8" y="818.51" font-size="17.2" text-anchor="end" fill="#3a3a3a">0.2</text>
<line x1="427.2" y1="838.9" x2="429.9" y2="838.9" stroke="#333" stroke-width="1"/>
<text x="425.8" y="845.51" font-size="17.2" text-anchor="end" fill="#3a3a3a">0.1</text>
<line x1="427.2" y1="866" x2="429.9" y2="866" stroke="#333" stroke-width="1"/>
<text x="425.8" y="872.61" font-size="17.2" text-anchor="end" fill="#3a3a3a">0.0</text>
<rect x="617.3" y="763.8" width="147.5" height="124.2" fill="#fff"/>
<line x1="617.3" y1="872.5" x2="764.8" y2="872.5" stroke="#ababab" stroke-width="1"/>
<line x1="758.5" y1="763.8" x2="758.5" y2="888" stroke="#999999" stroke-width="1"/>
<polyline points="623.32,878.31 629.36,882.77 635.13,882.77 641.17,882.77 646.95,882.77 652.98,868.59 658.76,882.77 664.53,882.77 670.31,882.77 676.09,882.77 682.12,882.77 687.9,882.77 693.68,882.77 699.71,882.77 705.49,882.77 711.26,882.77 717.3,882.77 723.08,769.88 728.85,841.55 734.89,827.64 740.67,881.98 746.44,882.77 752.48,882.77 758.26,882.77" fill="none" stroke="#1a1a1a" stroke-width="1.0" stroke-linejoin="round"/>
<circle cx="623.32" cy="878.31" r="2.0" fill="#0e780e"/>
<circle cx="629.36" cy="882.77" r="2.0" fill="#0e780e"/>
<circle cx="635.13" cy="882.77" r="2.0" fill="#0e780e"/>
<circle cx="641.17" cy="882.77" r="2.0" fill="#0e780e"/>
<circle cx="646.95" cy="882.77" r="2.0" fill="#0e780e"/>
<circle cx="652.98" cy="868.59" r="2.0" fill="#0e780e"/>
<circle cx="658.76" cy="882.77" r="2.0" fill="#0e780e"/>
<circle cx="664.53" cy="882.77" r="2.0" fill="#0e780e"/>
<circle cx="670.31" cy="882.77" r="2.0" fill="#0e780e"/>
<circle cx="676.09" cy="882.77" r="2.0" fill="#0e780e"/>
<circle cx="682.12" cy="882.77" r="2.0" fill="#0e780e"/>
<circle cx="687.9" cy="882.77" r="2.0" fill="#0e780e"/>
<circle cx="693.68" cy="882.77" r="2.0" fill="#0e780e"/>
<circle cx="699.71" cy="882.77" r="2.0" fill="#0e780e"/>
<circle cx="705.49" cy="882.77" r="2.0" fill="#0e780e"/>
<circle cx="711.26" cy="882.77" r="2.0" fill="#0e780e"/>
<circle cx="717.3" cy="882.77" r="2.0" fill="#0e780e"/>
<circle cx="723.08" cy="769.88" r="2.0" fill="#0e780e"/>
<circle cx="728.85" cy="841.55" r="2.0" fill="#0e780e"/>
<circle cx="734.89" cy="827.64" r="2.0" fill="#0e780e"/>
<circle cx="740.67" cy="881.98" r="2.0" fill="#0e780e"/>
<circle cx="746.44" cy="882.77" r="2.0" fill="#0e780e"/>
<circle cx="752.48" cy="882.77" r="2.0" fill="#0e780e"/>
<circle cx="758.26" cy="882.77" r="2.0" fill="#0e780e"/>
<rect x="617.3" y="763.8" width="147.5" height="124.2" fill="none" stroke="#777777" stroke-width="1"/>
<rect x="617.3" y="729.1" width="147.5" height="17.4" fill="#fff" stroke="#777777" stroke-width="1"/>
<text x="691.05" y="741.76" font-size="11" text-anchor="middle" fill="#1a1a1a" font-style="italic">offshore</text>
<rect x="617.3" y="746.5" width="147.5" height="17.3" fill="#fff" stroke="#777777" stroke-width="1"/>
<text x="691.05" y="759.11" font-size="11" text-anchor="middle" fill="#1a1a1a" font-style="italic">Engraulis mordax</text>
<line x1="614.6" y1="785.4" x2="617.3" y2="785.4" stroke="#333" stroke-width="1"/>
<text x="613.2" y="792.01" font-size="17.2" text-anchor="end" fill="#3a3a3a">0.4</text>
<line x1="614.6" y1="807.2" x2="617.3" y2="807.2" stroke="#333" stroke-width="1"/>
<text x="613.2" y="813.81" font-size="17.2" text-anchor="end" fill="#3a3a3a">0.3</text>
<line x1="614.6" y1="828.9" x2="617.3" y2="828.9" stroke="#333" stroke-width="1"/>
<text x="613.2" y="835.51" font-size="17.2" text-anchor="end" fill="#3a3a3a">0.2</text>
<line x1="614.6" y1="850.7" x2="617.3" y2="850.7" stroke="#333" stroke-width="1"/>
<text x="613.2" y="857.31" font-size="17.2" text-anchor="end" fill="#3a3a3a">0.1</text>
<line x1="614.6" y1="872.8" x2="617.3" y2="872.8" stroke="#333" stroke-width="1"/>
<text x="613.2" y="879.41" font-size="17.2" text-anchor="end" fill="#3a3a3a">0.0</text>
<line x1="617.45" y1="888" x2="617.45" y2="890.7" stroke="#333" stroke-width="1"/>
<text transform="translate(628.79,894.3) rotate(-90)" font-size="15" text-anchor="end" fill="#2e2e2e">1997</text>
<line x1="640.92" y1="888" x2="640.92" y2="890.7" stroke="#333" stroke-width="1"/>
<text transform="translate(652.26,894.3) rotate(-90)" font-size="15" text-anchor="end" fill="#2e2e2e">2001</text>
<line x1="664.39" y1="888" x2="664.39" y2="890.7" stroke="#333" stroke-width="1"/>
<text transform="translate(675.73,894.3) rotate(-90)" font-size="15" text-anchor="end" fill="#2e2e2e">2005</text>
<line x1="687.85" y1="888" x2="687.85" y2="890.7" stroke="#333" stroke-width="1"/>
<text transform="translate(699.19,894.3) rotate(-90)" font-size="15" text-anchor="end" fill="#2e2e2e">2009</text>
<line x1="711.32" y1="888" x2="711.32" y2="890.7" stroke="#333" stroke-width="1"/>
<text transform="translate(722.66,894.3) rotate(-90)" font-size="15" text-anchor="end" fill="#2e2e2e">2013</text>
<line x1="734.79" y1="888" x2="734.79" y2="890.7" stroke="#333" stroke-width="1"/>
<text transform="translate(746.13,894.3) rotate(-90)" font-size="15" text-anchor="end" fill="#2e2e2e">2017</text>
<line x1="758.26" y1="888" x2="758.26" y2="890.7" stroke="#333" stroke-width="1"/>
<text transform="translate(769.6,894.3) rotate(-90)" font-size="15" text-anchor="end" fill="#2e2e2e">2021</text>
<rect x="54.5" y="928.3" width="147.9" height="123.8" fill="#fff"/>
<line x1="54.5" y1="1012.5" x2="202.4" y2="1012.5" stroke="#ababab" stroke-width="1"/>
<line x1="195.5" y1="928.3" x2="195.5" y2="1052.1" stroke="#999999" stroke-width="1"/>
<polyline points="61.17,1025.98 66.95,1039.89 72.98,1047.24 78.76,1040.94 84.53,1015.74 90.31,1029.39 96.35,1032.02 102.12,969.01 107.9,1047.24 113.68,999.46 119.71,1033.33 125.49,1040.94 131.26,934.36 137.04,1047.24 143.08,1047.24 148.85,985.81 154.63,1039.89 160.67,989.22 166.44,1012.59 172.22,987.12 178.26,934.36 184.03,996.58 189.81,989.75 195.85,1020.47" fill="none" stroke="#1a1a1a" stroke-width="1.0" stroke-linejoin="round"/>
<circle cx="61.17" cy="1025.98" r="2.0" fill="#0e780e"/>
<circle cx="66.95" cy="1039.89" r="2.0" fill="#0e780e"/>
<circle cx="72.98" cy="1047.24" r="2.0" fill="#0e780e"/>
<circle cx="78.76" cy="1040.94" r="2.0" fill="#0e780e"/>
<circle cx="84.53" cy="1015.74" r="2.0" fill="#0e780e"/>
<circle cx="90.31" cy="1029.39" r="2.0" fill="#0e780e"/>
<circle cx="96.35" cy="1032.02" r="2.0" fill="#0e780e"/>
<circle cx="102.12" cy="969.01" r="2.0" fill="#0e780e"/>
<circle cx="107.9" cy="1047.24" r="2.0" fill="#0e780e"/>
<circle cx="113.68" cy="999.46" r="2.0" fill="#0e780e"/>
<circle cx="119.71" cy="1033.33" r="2.0" fill="#0e780e"/>
<circle cx="125.49" cy="1040.94" r="2.0" fill="#0e780e"/>
<circle cx="131.26" cy="934.36" r="2.0" fill="#0e780e"/>
<circle cx="137.04" cy="1047.24" r="2.0" fill="#0e780e"/>
<circle cx="143.08" cy="1047.24" r="2.0" fill="#0e780e"/>
<circle cx="148.85" cy="985.81" r="2.0" fill="#0e780e"/>
<circle cx="154.63" cy="1039.89" r="2.0" fill="#0e780e"/>
<circle cx="160.67" cy="989.22" r="2.0" fill="#0e780e"/>
<circle cx="166.44" cy="1012.59" r="2.0" fill="#0e780e"/>
<circle cx="172.22" cy="987.12" r="2.0" fill="#0e780e"/>
<circle cx="178.26" cy="934.36" r="2.0" fill="#0e780e"/>
<circle cx="184.03" cy="996.58" r="2.0" fill="#0e780e"/>
<circle cx="189.81" cy="989.75" r="2.0" fill="#0e780e"/>
<circle cx="195.85" cy="1020.47" r="2.0" fill="#0e780e"/>
<rect x="54.5" y="928.3" width="147.9" height="123.8" fill="none" stroke="#777777" stroke-width="1"/>
<rect x="54.5" y="892.9" width="147.9" height="18.1" fill="#fff" stroke="#777777" stroke-width="1"/>
<text x="128.45" y="905.91" font-size="11" text-anchor="middle" fill="#1a1a1a" font-style="italic">offshore</text>
<rect x="54.5" y="911" width="147.9" height="17.3" fill="#fff" stroke="#777777" stroke-width="1"/>
<text x="128.45" y="923.61" font-size="11" text-anchor="middle" fill="#1a1a1a" font-style="italic">Glyptocephalus zachirus</text>
<line x1="51.8" y1="934.9" x2="54.5" y2="934.9" stroke="#333" stroke-width="1"/>
<text x="50.4" y="941.51" font-size="17.2" text-anchor="end" fill="#3a3a3a">0.3</text>
<line x1="51.8" y1="960.9" x2="54.5" y2="960.9" stroke="#333" stroke-width="1"/>
<text x="50.4" y="967.51" font-size="17.2" text-anchor="end" fill="#3a3a3a">0.2</text>
<line x1="51.8" y1="986.6" x2="54.5" y2="986.6" stroke="#333" stroke-width="1"/>
<text x="50.4" y="993.21" font-size="17.2" text-anchor="end" fill="#3a3a3a">0.1</text>
<line x1="51.8" y1="1012.6" x2="54.5" y2="1012.6" stroke="#333" stroke-width="1"/>
<text x="50.4" y="1019.21" font-size="17.2" text-anchor="end" fill="#3a3a3a">0.0</text>
<line x1="51.8" y1="1038.6" x2="54.5" y2="1038.6" stroke="#333" stroke-width="1"/>
<text x="50.4" y="1045.21" font-size="17.2" text-anchor="end" fill="#3a3a3a">-0.1</text>
<line x1="55.31" y1="1052.1" x2="55.31" y2="1054.8" stroke="#333" stroke-width="1"/>
<text transform="translate(66.65,1058.4) rotate(-90)" font-size="15" text-anchor="end" fill="#2e2e2e">1997</text>
<line x1="78.74" y1="1052.1" x2="78.74" y2="1054.8" stroke="#333" stroke-width="1"/>
<text transform="translate(90.08,1058.4) rotate(-90)" font-size="15" text-anchor="end" fill="#2e2e2e">2001</text>
<line x1="102.16" y1="1052.1" x2="102.16" y2="1054.8" stroke="#333" stroke-width="1"/>
<text transform="translate(113.5,1058.4) rotate(-90)" font-size="15" text-anchor="end" fill="#2e2e2e">2005</text>
<line x1="125.58" y1="1052.1" x2="125.58" y2="1054.8" stroke="#333" stroke-width="1"/>
<text transform="translate(136.92,1058.4) rotate(-90)" font-size="15" text-anchor="end" fill="#2e2e2e">2009</text>
<line x1="149" y1="1052.1" x2="149" y2="1054.8" stroke="#333" stroke-width="1"/>
<text transform="translate(160.34,1058.4) rotate(-90)" font-size="15" text-anchor="end" fill="#2e2e2e">2013</text>
<line x1="172.43" y1="1052.1" x2="172.43" y2="1054.8" stroke="#333" stroke-width="1"/>
<text transform="translate(183.77,1058.4) rotate(-90)" font-size="15" text-anchor="end" fill="#2e2e2e">2017</text>
<line x1="195.85" y1="1052.1" x2="195.85" y2="1054.8" stroke="#333" stroke-width="1"/>
<text transform="translate(207.19,1058.4) rotate(-90)" font-size="15" text-anchor="end" fill="#2e2e2e">2021</text>
<rect x="241.5" y="928.3" width="148.5" height="123.8" fill="#fff"/>
<line x1="241.5" y1="1041.5" x2="390" y2="1041.5" stroke="#ababab" stroke-width="1"/>
<line x1="383.5" y1="928.3" x2="383.5" y2="1052.1" stroke="#999999" stroke-width="1"/>
<polyline points="248.31,1047.24 254.34,1047.24 260.12,1047.24 265.89,1047.24 271.93,1047.24 277.71,1047.24 283.48,1047.24 289.26,1047.24 295.3,1047.24 301.07,1047.24 306.85,1047.24 312.89,1047.24 318.66,1047.24 324.44,1047.24 330.48,1047.24 336.25,1047.24 342.03,1047.24 348.07,934.36 353.84,1021.52 359.62,1044.36 365.66,1047.24 371.43,1047.24 377.21,1047.24 383.25,1047.24" fill="none" stroke="#1a1a1a" stroke-width="1.0" stroke-linejoin="round"/>
<circle cx="248.31" cy="1047.24" r="2.0" fill="#0e780e"/>
<circle cx="254.34" cy="1047.24" r="2.0" fill="#0e780e"/>
<circle cx="260.12" cy="1047.24" r="2.0" fill="#0e780e"/>
<circle cx="265.89" cy="1047.24" r="2.0" fill="#0e780e"/>
<circle cx="271.93" cy="1047.24" r="2.0" fill="#0e780e"/>
<circle cx="277.71" cy="1047.24" r="2.0" fill="#0e780e"/>
<circle cx="283.48" cy="1047.24" r="2.0" fill="#0e780e"/>
<circle cx="289.26" cy="1047.24" r="2.0" fill="#0e780e"/>
<circle cx="295.3" cy="1047.24" r="2.0" fill="#0e780e"/>
<circle cx="301.07" cy="1047.24" r="2.0" fill="#0e780e"/>
<circle cx="306.85" cy="1047.24" r="2.0" fill="#0e780e"/>
<circle cx="312.89" cy="1047.24" r="2.0" fill="#0e780e"/>
<circle cx="318.66" cy="1047.24" r="2.0" fill="#0e780e"/>
<circle cx="324.44" cy="1047.24" r="2.0" fill="#0e780e"/>
<circle cx="330.48" cy="1047.24" r="2.0" fill="#0e780e"/>
<circle cx="336.25" cy="1047.24" r="2.0" fill="#0e780e"/>
<circle cx="342.03" cy="1047.24" r="2.0" fill="#0e780e"/>
<circle cx="348.07" cy="934.36" r="2.0" fill="#0e780e"/>
<circle cx="353.84" cy="1021.52" r="2.0" fill="#0e780e"/>
<circle cx="359.62" cy="1044.36" r="2.0" fill="#0e780e"/>
<circle cx="365.66" cy="1047.24" r="2.0" fill="#0e780e"/>
<circle cx="371.43" cy="1047.24" r="2.0" fill="#0e780e"/>
<circle cx="377.21" cy="1047.24" r="2.0" fill="#0e780e"/>
<circle cx="383.25" cy="1047.24" r="2.0" fill="#0e780e"/>
<rect x="241.5" y="928.3" width="148.5" height="123.8" fill="none" stroke="#777777" stroke-width="1"/>
<rect x="241.5" y="892.9" width="148.5" height="18.1" fill="#fff" stroke="#777777" stroke-width="1"/>
<text x="315.75" y="905.91" font-size="11" text-anchor="middle" fill="#1a1a1a" font-style="italic">offshore</text>
<rect x="241.5" y="911" width="148.5" height="17.3" fill="#fff" stroke="#777777" stroke-width="1"/>
<text x="315.75" y="923.61" font-size="11" text-anchor="middle" fill="#1a1a1a" font-style="italic">Sardinops sagax</text>
<line x1="238.8" y1="958.5" x2="241.5" y2="958.5" stroke="#333" stroke-width="1"/>
<text x="237.4" y="965.11" font-size="17.2" text-anchor="end" fill="#3a3a3a">0.4</text>
<line x1="238.8" y1="1000" x2="241.5" y2="1000" stroke="#333" stroke-width="1"/>
<text x="237.4" y="1006.61" font-size="17.2" text-anchor="end" fill="#3a3a3a">0.2</text>
<line x1="238.8" y1="1041.2" x2="241.5" y2="1041.2" stroke="#333" stroke-width="1"/>
<text x="237.4" y="1047.81" font-size="17.2" text-anchor="end" fill="#3a3a3a">0.0</text>
<line x1="242.44" y1="1052.1" x2="242.44" y2="1054.8" stroke="#333" stroke-width="1"/>
<text transform="translate(253.78,1058.4) rotate(-90)" font-size="15" text-anchor="end" fill="#2e2e2e">1997</text>
<line x1="265.91" y1="1052.1" x2="265.91" y2="1054.8" stroke="#333" stroke-width="1"/>
<text transform="translate(277.25,1058.4) rotate(-90)" font-size="15" text-anchor="end" fill="#2e2e2e">2001</text>
<line x1="289.37" y1="1052.1" x2="289.37" y2="1054.8" stroke="#333" stroke-width="1"/>
<text transform="translate(300.71,1058.4) rotate(-90)" font-size="15" text-anchor="end" fill="#2e2e2e">2005</text>
<line x1="312.84" y1="1052.1" x2="312.84" y2="1054.8" stroke="#333" stroke-width="1"/>
<text transform="translate(324.18,1058.4) rotate(-90)" font-size="15" text-anchor="end" fill="#2e2e2e">2009</text>
<line x1="336.31" y1="1052.1" x2="336.31" y2="1054.8" stroke="#333" stroke-width="1"/>
<text transform="translate(347.65,1058.4) rotate(-90)" font-size="15" text-anchor="end" fill="#2e2e2e">2013</text>
<line x1="359.78" y1="1052.1" x2="359.78" y2="1054.8" stroke="#333" stroke-width="1"/>
<text transform="translate(371.12,1058.4) rotate(-90)" font-size="15" text-anchor="end" fill="#2e2e2e">2017</text>
<line x1="383.25" y1="1052.1" x2="383.25" y2="1054.8" stroke="#333" stroke-width="1"/>
<text transform="translate(394.59,1058.4) rotate(-90)" font-size="15" text-anchor="end" fill="#2e2e2e">2021</text>
<rect x="429.9" y="928.3" width="147.5" height="123.8" fill="#fff"/>
<line x1="429.9" y1="1010.5" x2="577.4" y2="1010.5" stroke="#ababab" stroke-width="1"/>
<line x1="570.5" y1="928.3" x2="570.5" y2="1052.1" stroke="#999999" stroke-width="1"/>
<polyline points="436.47,1040.16 442.24,1025.45 448.02,1037.53 453.79,1022.83 459.83,1044.88 465.61,1037 471.38,1035.43 477.42,986.6 483.2,1047.24 488.97,1043.83 494.75,1033.33 500.53,1023.88 506.56,955.36 512.34,1027.03 518.11,1028.08 523.89,1043.57 529.93,1042.52 535.7,981.61 541.74,961.13 547.52,934.36 553.29,971.37 559.07,959.82 565.11,972.16 570.88,979.25" fill="none" stroke="#1a1a1a" stroke-width="1.0" stroke-linejoin="round"/>
<circle cx="436.47" cy="1040.16" r="2.0" fill="#0e780e"/>
<circle cx="442.24" cy="1025.45" r="2.0" fill="#0e780e"/>
<circle cx="448.02" cy="1037.53" r="2.0" fill="#0e780e"/>
<circle cx="453.79" cy="1022.83" r="2.0" fill="#0e780e"/>
<circle cx="459.83" cy="1044.88" r="2.0" fill="#0e780e"/>
<circle cx="465.61" cy="1037" r="2.0" fill="#0e780e"/>
<circle cx="471.38" cy="1035.43" r="2.0" fill="#0e780e"/>
<circle cx="477.42" cy="986.6" r="2.0" fill="#0e780e"/>
<circle cx="483.2" cy="1047.24" r="2.0" fill="#0e780e"/>
<circle cx="488.97" cy="1043.83" r="2.0" fill="#0e780e"/>
<circle cx="494.75" cy="1033.33" r="2.0" fill="#0e780e"/>
<circle cx="500.53" cy="1023.88" r="2.0" fill="#0e780e"/>
<circle cx="506.56" cy="955.36" r="2.0" fill="#0e780e"/>
<circle cx="512.34" cy="1027.03" r="2.0" fill="#0e780e"/>
<circle cx="518.11" cy="1028.08" r="2.0" fill="#0e780e"/>
<circle cx="523.89" cy="1043.57" r="2.0" fill="#0e780e"/>
<circle cx="529.93" cy="1042.52" r="2.0" fill="#0e780e"/>
<circle cx="535.7" cy="981.61" r="2.0" fill="#0e780e"/>
<circle cx="541.74" cy="961.13" r="2.0" fill="#0e780e"/>
<circle cx="547.52" cy="934.36" r="2.0" fill="#0e780e"/>
<circle cx="553.29" cy="971.37" r="2.0" fill="#0e780e"/>
<circle cx="559.07" cy="959.82" r="2.0" fill="#0e780e"/>
<circle cx="565.11" cy="972.16" r="2.0" fill="#0e780e"/>
<circle cx="570.88" cy="979.25" r="2.0" fill="#0e780e"/>
<rect x="429.9" y="928.3" width="147.5" height="123.8" fill="none" stroke="#777777" stroke-width="1"/>
<rect x="429.9" y="892.9" width="147.5" height="18.1" fill="#fff" stroke="#777777" stroke-width="1"/>
<text x="503.65" y="905.91" font-size="11" text-anchor="middle" fill="#1a1a1a" font-style="italic">offshore</text>
<rect x="429.9" y="911" width="147.5" height="17.3" fill="#fff" stroke="#777777" stroke-width="1"/>
<text x="503.65" y="923.61" font-size="11" text-anchor="middle" fill="#1a1a1a" font-style="italic">Sebastes</text>
<line x1="427.2" y1="963.5" x2="429.9" y2="963.5" stroke="#333" stroke-width="1"/>
<text x="425.8" y="970.11" font-size="17.2" text-anchor="end" fill="#3a3a3a">0.5</text>
<line x1="427.2" y1="1010" x2="429.9" y2="1010" stroke="#333" stroke-width="1"/>
<text x="425.8" y="1016.61" font-size="17.2" text-anchor="end" fill="#3a3a3a">0.0</text>
<line x1="430.62" y1="1052.1" x2="430.62" y2="1054.8" stroke="#333" stroke-width="1"/>
<text transform="translate(441.96,1058.4) rotate(-90)" font-size="15" text-anchor="end" fill="#2e2e2e">1997</text>
<line x1="454" y1="1052.1" x2="454" y2="1054.8" stroke="#333" stroke-width="1"/>
<text transform="translate(465.34,1058.4) rotate(-90)" font-size="15" text-anchor="end" fill="#2e2e2e">2001</text>
<line x1="477.38" y1="1052.1" x2="477.38" y2="1054.8" stroke="#333" stroke-width="1"/>
<text transform="translate(488.72,1058.4) rotate(-90)" font-size="15" text-anchor="end" fill="#2e2e2e">2005</text>
<line x1="500.75" y1="1052.1" x2="500.75" y2="1054.8" stroke="#333" stroke-width="1"/>
<text transform="translate(512.09,1058.4) rotate(-90)" font-size="15" text-anchor="end" fill="#2e2e2e">2009</text>
<line x1="524.13" y1="1052.1" x2="524.13" y2="1054.8" stroke="#333" stroke-width="1"/>
<text transform="translate(535.47,1058.4) rotate(-90)" font-size="15" text-anchor="end" fill="#2e2e2e">2013</text>
<line x1="547.51" y1="1052.1" x2="547.51" y2="1054.8" stroke="#333" stroke-width="1"/>
<text transform="translate(558.85,1058.4) rotate(-90)" font-size="15" text-anchor="end" fill="#2e2e2e">2017</text>
<line x1="570.88" y1="1052.1" x2="570.88" y2="1054.8" stroke="#333" stroke-width="1"/>
<text transform="translate(582.22,1058.4) rotate(-90)" font-size="15" text-anchor="end" fill="#2e2e2e">2021</text>
<text x="0.3" y="1138.2" font-size="29" text-anchor="start" fill="#000" font-weight="bold">C</text>
<defs><clipPath id="cp1"><rect x="39.8" y="1131.6" width="225" height="136.8"/></clipPath><clipPath id="cp2"><rect x="289.4" y="1131.6" width="226" height="140"/></clipPath><clipPath id="cp3"><rect x="539.4" y="1131.6" width="226" height="140"/></clipPath><clipPath id="cp4"><rect x="39.8" y="1295.4" width="225" height="138"/></clipPath><clipPath id="cp5"><rect x="39.8" y="1460.4" width="225" height="137"/></clipPath><clipPath id="ov"><rect x="86.7" y="1260" width="760" height="530.7"/></clipPath></defs>
<rect x="39.8" y="1131.6" width="225" height="136.8" fill="#fff"/>
<g clip-path="url(#cp1)">
<line x1="39.8" y1="1209.5" x2="264.8" y2="1209.5" stroke="#ababab" stroke-width="1"/>
<line x1="215.5" y1="1131.6" x2="215.5" y2="1268.4" stroke="#999999" stroke-width="1"/>
<line x1="254.5" y1="1131.6" x2="254.5" y2="1268.4" stroke="#999999" stroke-width="1"/>
<polyline points="49.39,1208.89 56.25,1210.98 62.82,1180.85 69.38,1206.21 75.94,1210.68 82.51,1199.34 89.37,1228.88 95.93,1197.85 102.49,1253.64 109.06,1242.6 115.62,1211.58 122.18,1189.8 128.75,1201.13 135.51,1232.24 142.03,1216.37 148.71,1245.27 155.39,1263.65 161.91,1247.78 168.59,1249.62 175.11,1230.24 181.79,1223.56 188.47,1211.69 194.99,1184.3 201.67,1178.45 208.19,1155.06 214.87,1165.58 221.55,1206.85 228.07,1180.12 234.75,1181.29 241.43,1185.63 247.95,1226.9 254.63,1184.63" fill="none" stroke="#19e019" stroke-width="1.1" stroke-linejoin="round"/>
<circle cx="49.39" cy="1208.89" r="1.7" fill="#19e019"/>
<circle cx="56.25" cy="1210.98" r="1.7" fill="#19e019"/>
<circle cx="62.82" cy="1180.85" r="1.7" fill="#19e019"/>
<circle cx="69.38" cy="1206.21" r="1.7" fill="#19e019"/>
<circle cx="75.94" cy="1210.68" r="1.7" fill="#19e019"/>
<circle cx="82.51" cy="1199.34" r="1.7" fill="#19e019"/>
<circle cx="89.37" cy="1228.88" r="1.7" fill="#19e019"/>
<circle cx="95.93" cy="1197.85" r="1.7" fill="#19e019"/>
<circle cx="102.49" cy="1253.64" r="1.7" fill="#19e019"/>
<circle cx="109.06" cy="1242.6" r="1.7" fill="#19e019"/>
<circle cx="115.62" cy="1211.58" r="1.7" fill="#19e019"/>
<circle cx="122.18" cy="1189.8" r="1.7" fill="#19e019"/>
<circle cx="128.75" cy="1201.13" r="1.7" fill="#19e019"/>
<circle cx="135.51" cy="1232.24" r="1.7" fill="#19e019"/>
<circle cx="142.03" cy="1216.37" r="1.7" fill="#19e019"/>
<circle cx="148.71" cy="1245.27" r="1.7" fill="#19e019"/>
<circle cx="155.39" cy="1263.65" r="1.7" fill="#19e019"/>
<circle cx="161.91" cy="1247.78" r="1.7" fill="#19e019"/>
<circle cx="168.59" cy="1249.62" r="1.7" fill="#19e019"/>
<circle cx="175.11" cy="1230.24" r="1.7" fill="#19e019"/>
<circle cx="181.79" cy="1223.56" r="1.7" fill="#19e019"/>
<circle cx="188.47" cy="1211.69" r="1.7" fill="#19e019"/>
<circle cx="194.99" cy="1184.3" r="1.7" fill="#19e019"/>
<circle cx="201.67" cy="1178.45" r="1.7" fill="#19e019"/>
<circle cx="208.19" cy="1155.06" r="1.7" fill="#19e019"/>
<circle cx="214.87" cy="1165.58" r="1.7" fill="#19e019"/>
<circle cx="221.55" cy="1206.85" r="1.7" fill="#19e019"/>
<circle cx="228.07" cy="1180.12" r="1.7" fill="#19e019"/>
<circle cx="234.75" cy="1181.29" r="1.7" fill="#19e019"/>
<circle cx="241.43" cy="1185.63" r="1.7" fill="#19e019"/>
<circle cx="247.95" cy="1226.9" r="1.7" fill="#19e019"/>
<circle cx="254.63" cy="1184.63" r="1.7" fill="#19e019"/>
<polyline points="142.03,1224.73 148.71,1226.23 155.39,1229.9 161.91,1229.9 168.59,1229.9 175.11,1228.57 181.79,1226.9 188.47,1223.72" fill="none" stroke="#17a6e6" stroke-width="1.1" stroke-linejoin="round"/>
<circle cx="142.03" cy="1224.73" r="1.7" fill="#17a6e6"/>
<circle cx="148.71" cy="1226.23" r="1.7" fill="#17a6e6"/>
<circle cx="155.39" cy="1229.9" r="1.7" fill="#17a6e6"/>
<circle cx="161.91" cy="1229.9" r="1.7" fill="#17a6e6"/>
<circle cx="168.59" cy="1229.9" r="1.7" fill="#17a6e6"/>
<circle cx="175.11" cy="1228.57" r="1.7" fill="#17a6e6"/>
<circle cx="181.79" cy="1226.9" r="1.7" fill="#17a6e6"/>
<circle cx="188.47" cy="1223.72" r="1.7" fill="#17a6e6"/>
<polyline points="208.19,1137.52 214.87,1178.45 221.55,1208.52 228.07,1175.44 234.75,1226.9 241.43,1229.9" fill="none" stroke="#17a6e6" stroke-width="1.1" stroke-linejoin="round"/>
<circle cx="208.19" cy="1137.52" r="1.7" fill="#17a6e6"/>
<circle cx="214.87" cy="1178.45" r="1.7" fill="#17a6e6"/>
<circle cx="221.55" cy="1208.52" r="1.7" fill="#17a6e6"/>
<circle cx="228.07" cy="1175.44" r="1.7" fill="#17a6e6"/>
<circle cx="234.75" cy="1226.9" r="1.7" fill="#17a6e6"/>
<circle cx="241.43" cy="1229.9" r="1.7" fill="#17a6e6"/>
<circle cx="254.63" cy="1222.05" r="1.7" fill="#17a6e6"/>
<polyline points="142.03,1204.34 148.71,1240.26 155.39,1240.6 161.91,1240.6 168.59,1223.05 175.11,1187.97 181.79,1240.6 188.47,1158.4 194.99,1211.69 201.67,1177.28 208.19,1159.24 214.87,1191.81 221.55,1234.92 228.07,1204.18 234.75,1220.72 241.43,1216.71" fill="none" stroke="#f2a31b" stroke-width="1.1" stroke-linejoin="round"/>
<circle cx="142.03" cy="1204.34" r="1.7" fill="#f2a31b"/>
<circle cx="148.71" cy="1240.26" r="1.7" fill="#f2a31b"/>
<circle cx="155.39" cy="1240.6" r="1.7" fill="#f2a31b"/>
<circle cx="161.91" cy="1240.6" r="1.7" fill="#f2a31b"/>
<circle cx="168.59" cy="1223.05" r="1.7" fill="#f2a31b"/>
<circle cx="175.11" cy="1187.97" r="1.7" fill="#f2a31b"/>
<circle cx="181.79" cy="1240.6" r="1.7" fill="#f2a31b"/>
<circle cx="188.47" cy="1158.4" r="1.7" fill="#f2a31b"/>
<circle cx="194.99" cy="1211.69" r="1.7" fill="#f2a31b"/>
<circle cx="201.67" cy="1177.28" r="1.7" fill="#f2a31b"/>
<circle cx="208.19" cy="1159.24" r="1.7" fill="#f2a31b"/>
<circle cx="214.87" cy="1191.81" r="1.7" fill="#f2a31b"/>
<circle cx="221.55" cy="1234.92" r="1.7" fill="#f2a31b"/>
<circle cx="228.07" cy="1204.18" r="1.7" fill="#f2a31b"/>
<circle cx="234.75" cy="1220.72" r="1.7" fill="#f2a31b"/>
<circle cx="241.43" cy="1216.71" r="1.7" fill="#f2a31b"/>
<circle cx="254.63" cy="1212.53" r="1.7" fill="#f2a31b"/>
<polyline points="142.03,1226.56 148.71,1236.09 155.39,1247.45 161.91,1229.9 168.59,1240.76 175.11,1204.68 181.79,1234.92" fill="none" stroke="#dc1414" stroke-width="1.1" stroke-linejoin="round"/>
<circle cx="142.03" cy="1226.56" r="1.7" fill="#dc1414"/>
<circle cx="148.71" cy="1236.09" r="1.7" fill="#dc1414"/>
<circle cx="155.39" cy="1247.45" r="1.7" fill="#dc1414"/>
<circle cx="161.91" cy="1229.9" r="1.7" fill="#dc1414"/>
<circle cx="168.59" cy="1240.76" r="1.7" fill="#dc1414"/>
<circle cx="175.11" cy="1204.68" r="1.7" fill="#dc1414"/>
<circle cx="181.79" cy="1234.92" r="1.7" fill="#dc1414"/>
<polyline points="194.99,1151.05 201.67,1208.19 208.19,1175.11 214.87,1219.71 221.55,1199.33 228.07,1182.29 234.75,1176.95 241.43,1219.38" fill="none" stroke="#dc1414" stroke-width="1.1" stroke-linejoin="round"/>
<circle cx="194.99" cy="1151.05" r="1.7" fill="#dc1414"/>
<circle cx="201.67" cy="1208.19" r="1.7" fill="#dc1414"/>
<circle cx="208.19" cy="1175.11" r="1.7" fill="#dc1414"/>
<circle cx="214.87" cy="1219.71" r="1.7" fill="#dc1414"/>
<circle cx="221.55" cy="1199.33" r="1.7" fill="#dc1414"/>
<circle cx="228.07" cy="1182.29" r="1.7" fill="#dc1414"/>
<circle cx="234.75" cy="1176.95" r="1.7" fill="#dc1414"/>
<circle cx="241.43" cy="1219.38" r="1.7" fill="#dc1414"/>
<circle cx="254.63" cy="1202.17" r="1.7" fill="#dc1414"/>
<polyline points="201.67,1246.11 208.19,1213.03 214.87,1178.95 221.55,1210.19 228.07,1232.24 234.75,1214.37 241.43,1161.74" fill="none" stroke="#1414c8" stroke-width="1.1" stroke-linejoin="round"/>
<circle cx="201.67" cy="1246.11" r="1.7" fill="#1414c8"/>
<circle cx="208.19" cy="1213.03" r="1.7" fill="#1414c8"/>
<circle cx="214.87" cy="1178.95" r="1.7" fill="#1414c8"/>
<circle cx="221.55" cy="1210.19" r="1.7" fill="#1414c8"/>
<circle cx="228.07" cy="1232.24" r="1.7" fill="#1414c8"/>
<circle cx="234.75" cy="1214.37" r="1.7" fill="#1414c8"/>
<circle cx="241.43" cy="1161.74" r="1.7" fill="#1414c8"/>
</g>
<rect x="39.8" y="1131.6" width="225" height="136.8" fill="none" stroke="#777777" stroke-width="1"/>
<rect x="39.8" y="1109.4" width="225" height="22.2" fill="#fff" stroke="#777777" stroke-width="1"/>
<text x="152.3" y="1126.26" font-size="16" text-anchor="middle" fill="#1a1a1a" font-style="italic">Doryteuthis opalescens</text>
<line x1="37.1" y1="1154.9" x2="39.8" y2="1154.9" stroke="#333" stroke-width="1"/>
<text x="35.7" y="1161.51" font-size="17.2" text-anchor="end" fill="#3a3a3a">2</text>
<line x1="37.1" y1="1182.3" x2="39.8" y2="1182.3" stroke="#333" stroke-width="1"/>
<text x="35.7" y="1188.91" font-size="17.2" text-anchor="end" fill="#3a3a3a">1</text>
<line x1="37.1" y1="1209.8" x2="39.8" y2="1209.8" stroke="#333" stroke-width="1"/>
<text x="35.7" y="1216.41" font-size="17.2" text-anchor="end" fill="#3a3a3a">0</text>
<line x1="37.1" y1="1237.2" x2="39.8" y2="1237.2" stroke="#333" stroke-width="1"/>
<text x="35.7" y="1243.81" font-size="17.2" text-anchor="end" fill="#3a3a3a">-1</text>
<line x1="37.1" y1="1264.7" x2="39.8" y2="1264.7" stroke="#333" stroke-width="1"/>
<text x="35.7" y="1271.31" font-size="17.2" text-anchor="end" fill="#3a3a3a">-2</text>
<rect x="289.4" y="1131.6" width="225.8" height="139.4" fill="#fff"/>
<g clip-path="url(#cp2)">
<line x1="289.4" y1="1232.5" x2="515.2" y2="1232.5" stroke="#ababab" stroke-width="1"/>
<line x1="465.5" y1="1131.6" x2="465.5" y2="1271" stroke="#999999" stroke-width="1"/>
<line x1="504.5" y1="1131.6" x2="504.5" y2="1271" stroke="#999999" stroke-width="1"/>
<polyline points="299.4,1225.66 305.85,1264.68 312.65,1218.14 319.09,1241.05 325.54,1224.58 331.98,1199.52 338.78,1245.7 345.23,1232.82 351.67,1221.72 358.47,1213.13 364.92,1240.69 371.72,1250.36 378.52,1257.88 385.85,1254.46 392.53,1216.04 399.21,1208.52 405.73,1207.35 412.41,1223.56 418.93,1257.8 425.61,1253.63 432.12,1259.47 438.64,1257.8 445.32,1259.47 451.84,1254.46 458.52,1257.8 465.04,1258.64 471.72,1258.64 478.4,1258.64 484.92,1185.13 491.6,1165.92 498.11,1177.11 504.8,1177.95" fill="none" stroke="#19e019" stroke-width="1.1" stroke-linejoin="round"/>
<circle cx="299.4" cy="1225.66" r="1.7" fill="#19e019"/>
<circle cx="305.85" cy="1264.68" r="1.7" fill="#19e019"/>
<circle cx="312.65" cy="1218.14" r="1.7" fill="#19e019"/>
<circle cx="319.09" cy="1241.05" r="1.7" fill="#19e019"/>
<circle cx="325.54" cy="1224.58" r="1.7" fill="#19e019"/>
<circle cx="331.98" cy="1199.52" r="1.7" fill="#19e019"/>
<circle cx="338.78" cy="1245.7" r="1.7" fill="#19e019"/>
<circle cx="345.23" cy="1232.82" r="1.7" fill="#19e019"/>
<circle cx="351.67" cy="1221.72" r="1.7" fill="#19e019"/>
<circle cx="358.47" cy="1213.13" r="1.7" fill="#19e019"/>
<circle cx="364.92" cy="1240.69" r="1.7" fill="#19e019"/>
<circle cx="371.72" cy="1250.36" r="1.7" fill="#19e019"/>
<circle cx="378.52" cy="1257.88" r="1.7" fill="#19e019"/>
<circle cx="385.85" cy="1254.46" r="1.7" fill="#19e019"/>
<circle cx="392.53" cy="1216.04" r="1.7" fill="#19e019"/>
<circle cx="399.21" cy="1208.52" r="1.7" fill="#19e019"/>
<circle cx="405.73" cy="1207.35" r="1.7" fill="#19e019"/>
<circle cx="412.41" cy="1223.56" r="1.7" fill="#19e019"/>
<circle cx="418.93" cy="1257.8" r="1.7" fill="#19e019"/>
<circle cx="425.61" cy="1253.63" r="1.7" fill="#19e019"/>
<circle cx="432.12" cy="1259.47" r="1.7" fill="#19e019"/>
<circle cx="438.64" cy="1257.8" r="1.7" fill="#19e019"/>
<circle cx="445.32" cy="1259.47" r="1.7" fill="#19e019"/>
<circle cx="451.84" cy="1254.46" r="1.7" fill="#19e019"/>
<circle cx="458.52" cy="1257.8" r="1.7" fill="#19e019"/>
<circle cx="465.04" cy="1258.64" r="1.7" fill="#19e019"/>
<circle cx="471.72" cy="1258.64" r="1.7" fill="#19e019"/>
<circle cx="478.4" cy="1258.64" r="1.7" fill="#19e019"/>
<circle cx="484.92" cy="1185.13" r="1.7" fill="#19e019"/>
<circle cx="491.6" cy="1165.92" r="1.7" fill="#19e019"/>
<circle cx="498.11" cy="1177.11" r="1.7" fill="#19e019"/>
<circle cx="504.8" cy="1177.95" r="1.7" fill="#19e019"/>
<polyline points="392.53,1244.44 399.21,1139.69 405.73,1197.66 412.41,1244.44 418.93,1244.44 425.61,1244.44 432.12,1244.44 438.64,1244.44" fill="none" stroke="#17a6e6" stroke-width="1.1" stroke-linejoin="round"/>
<circle cx="392.53" cy="1244.44" r="1.7" fill="#17a6e6"/>
<circle cx="399.21" cy="1139.69" r="1.7" fill="#17a6e6"/>
<circle cx="405.73" cy="1197.66" r="1.7" fill="#17a6e6"/>
<circle cx="412.41" cy="1244.44" r="1.7" fill="#17a6e6"/>
<circle cx="418.93" cy="1244.44" r="1.7" fill="#17a6e6"/>
<circle cx="425.61" cy="1244.44" r="1.7" fill="#17a6e6"/>
<circle cx="432.12" cy="1244.44" r="1.7" fill="#17a6e6"/>
<circle cx="438.64" cy="1244.44" r="1.7" fill="#17a6e6"/>
<polyline points="451.84,1244.44 458.52,1244.44 465.04,1244.44 471.72,1244.44 478.4,1244.44 484.92,1244.44 491.6,1244.44" fill="none" stroke="#17a6e6" stroke-width="1.1" stroke-linejoin="round"/>
<circle cx="451.84" cy="1244.44" r="1.7" fill="#17a6e6"/>
<circle cx="458.52" cy="1244.44" r="1.7" fill="#17a6e6"/>
<circle cx="465.04" cy="1244.44" r="1.7" fill="#17a6e6"/>
<circle cx="471.72" cy="1244.44" r="1.7" fill="#17a6e6"/>
<circle cx="478.4" cy="1244.44" r="1.7" fill="#17a6e6"/>
<circle cx="484.92" cy="1244.44" r="1.7" fill="#17a6e6"/>
<circle cx="491.6" cy="1244.44" r="1.7" fill="#17a6e6"/>
<circle cx="504.8" cy="1203.68" r="1.7" fill="#17a6e6"/>
<polyline points="392.53,1218.54 399.21,1200.17 405.73,1198.5 412.41,1231.91 418.93,1238.59 425.61,1246.95 432.12,1258.64 438.64,1258.64 445.32,1258.64 451.84,1245.27 458.52,1258.64 465.04,1256.97 471.72,1258.64 478.4,1252.79 484.92,1184.3 491.6,1195.66" fill="none" stroke="#f2a31b" stroke-width="1.1" stroke-linejoin="round"/>
<circle cx="392.53" cy="1218.54" r="1.7" fill="#f2a31b"/>
<circle cx="399.21" cy="1200.17" r="1.7" fill="#f2a31b"/>
<circle cx="405.73" cy="1198.5" r="1.7" fill="#f2a31b"/>
<circle cx="412.41" cy="1231.91" r="1.7" fill="#f2a31b"/>
<circle cx="418.93" cy="1238.59" r="1.7" fill="#f2a31b"/>
<circle cx="425.61" cy="1246.95" r="1.7" fill="#f2a31b"/>
<circle cx="432.12" cy="1258.64" r="1.7" fill="#f2a31b"/>
<circle cx="438.64" cy="1258.64" r="1.7" fill="#f2a31b"/>
<circle cx="445.32" cy="1258.64" r="1.7" fill="#f2a31b"/>
<circle cx="451.84" cy="1245.27" r="1.7" fill="#f2a31b"/>
<circle cx="458.52" cy="1258.64" r="1.7" fill="#f2a31b"/>
<circle cx="465.04" cy="1256.97" r="1.7" fill="#f2a31b"/>
<circle cx="471.72" cy="1258.64" r="1.7" fill="#f2a31b"/>
<circle cx="478.4" cy="1252.79" r="1.7" fill="#f2a31b"/>
<circle cx="484.92" cy="1184.3" r="1.7" fill="#f2a31b"/>
<circle cx="491.6" cy="1195.66" r="1.7" fill="#f2a31b"/>
<circle cx="504.8" cy="1186.13" r="1.7" fill="#f2a31b"/>
<polyline points="392.53,1225.23 399.21,1244.44 405.73,1224.39 412.41,1239.93 418.93,1237.42 425.61,1251.12 432.12,1251.12" fill="none" stroke="#dc1414" stroke-width="1.1" stroke-linejoin="round"/>
<circle cx="392.53" cy="1225.23" r="1.7" fill="#dc1414"/>
<circle cx="399.21" cy="1244.44" r="1.7" fill="#dc1414"/>
<circle cx="405.73" cy="1224.39" r="1.7" fill="#dc1414"/>
<circle cx="412.41" cy="1239.93" r="1.7" fill="#dc1414"/>
<circle cx="418.93" cy="1237.42" r="1.7" fill="#dc1414"/>
<circle cx="425.61" cy="1251.12" r="1.7" fill="#dc1414"/>
<circle cx="432.12" cy="1251.12" r="1.7" fill="#dc1414"/>
<polyline points="445.32,1251.12 451.84,1251.12 458.52,1251.12 465.04,1251.12 471.72,1215.54 478.4,1220.55 484.92,1250.62 491.6,1216.04" fill="none" stroke="#dc1414" stroke-width="1.1" stroke-linejoin="round"/>
<circle cx="445.32" cy="1251.12" r="1.7" fill="#dc1414"/>
<circle cx="451.84" cy="1251.12" r="1.7" fill="#dc1414"/>
<circle cx="458.52" cy="1251.12" r="1.7" fill="#dc1414"/>
<circle cx="465.04" cy="1251.12" r="1.7" fill="#dc1414"/>
<circle cx="471.72" cy="1215.54" r="1.7" fill="#dc1414"/>
<circle cx="478.4" cy="1220.55" r="1.7" fill="#dc1414"/>
<circle cx="484.92" cy="1250.62" r="1.7" fill="#dc1414"/>
<circle cx="491.6" cy="1216.04" r="1.7" fill="#dc1414"/>
<circle cx="504.8" cy="1137.52" r="1.7" fill="#dc1414"/>
</g>
<rect x="289.4" y="1131.6" width="225.8" height="139.4" fill="none" stroke="#777777" stroke-width="1"/>
<rect x="289.4" y="1109.4" width="225.8" height="22.2" fill="#fff" stroke="#777777" stroke-width="1"/>
<text x="402.3" y="1126.26" font-size="16" text-anchor="middle" fill="#1a1a1a" font-style="italic">Engraulis mordax</text>
<line x1="286.7" y1="1145.8" x2="289.4" y2="1145.8" stroke="#333" stroke-width="1"/>
<text x="285.3" y="1152.41" font-size="17.2" text-anchor="end" fill="#3a3a3a">3</text>
<line x1="286.7" y1="1174.8" x2="289.4" y2="1174.8" stroke="#333" stroke-width="1"/>
<text x="285.3" y="1181.41" font-size="17.2" text-anchor="end" fill="#3a3a3a">2</text>
<line x1="286.7" y1="1203.8" x2="289.4" y2="1203.8" stroke="#333" stroke-width="1"/>
<text x="285.3" y="1210.41" font-size="17.2" text-anchor="end" fill="#3a3a3a">1</text>
<line x1="286.7" y1="1232.4" x2="289.4" y2="1232.4" stroke="#333" stroke-width="1"/>
<text x="285.3" y="1239.01" font-size="17.2" text-anchor="end" fill="#3a3a3a">0</text>
<line x1="286.7" y1="1261.7" x2="289.4" y2="1261.7" stroke="#333" stroke-width="1"/>
<text x="285.3" y="1268.31" font-size="17.2" text-anchor="end" fill="#3a3a3a">-1</text>
<rect x="539.4" y="1131.6" width="225.6" height="139.4" fill="#fff"/>
<g clip-path="url(#cp3)">
<line x1="539.4" y1="1191.5" x2="765" y2="1191.5" stroke="#ababab" stroke-width="1"/>
<line x1="715.5" y1="1131.6" x2="715.5" y2="1271" stroke="#999999" stroke-width="1"/>
<line x1="754.5" y1="1131.6" x2="754.5" y2="1271" stroke="#999999" stroke-width="1"/>
<polyline points="549.4,1191.65 555.85,1204.18 562.65,1166.95 569.09,1163.01 575.54,1190.57 582.34,1190.57 588.78,1164.44 595.58,1201.31 602.39,1196.66 608.83,1212.41 615.27,1214.92 622.08,1212.05 628.52,1205.61 635.85,1165.92 642.2,1158.07 648.88,1169.43 655.39,1203.51 662.08,1195.16 668.59,1175.44 675.11,1153.39 681.79,1137.85 688.31,1224.89 694.99,1217.21 701.5,1165.92 708.19,1164.25 714.87,1218.54 721.38,1193.48 728.07,1202.67 734.75,1204.34 741.26,1208.52 747.95,1216.87 754.63,1211.86" fill="none" stroke="#19e019" stroke-width="1.1" stroke-linejoin="round"/>
<circle cx="549.4" cy="1191.65" r="1.7" fill="#19e019"/>
<circle cx="555.85" cy="1204.18" r="1.7" fill="#19e019"/>
<circle cx="562.65" cy="1166.95" r="1.7" fill="#19e019"/>
<circle cx="569.09" cy="1163.01" r="1.7" fill="#19e019"/>
<circle cx="575.54" cy="1190.57" r="1.7" fill="#19e019"/>
<circle cx="582.34" cy="1190.57" r="1.7" fill="#19e019"/>
<circle cx="588.78" cy="1164.44" r="1.7" fill="#19e019"/>
<circle cx="595.58" cy="1201.31" r="1.7" fill="#19e019"/>
<circle cx="602.39" cy="1196.66" r="1.7" fill="#19e019"/>
<circle cx="608.83" cy="1212.41" r="1.7" fill="#19e019"/>
<circle cx="615.27" cy="1214.92" r="1.7" fill="#19e019"/>
<circle cx="622.08" cy="1212.05" r="1.7" fill="#19e019"/>
<circle cx="628.52" cy="1205.61" r="1.7" fill="#19e019"/>
<circle cx="635.85" cy="1165.92" r="1.7" fill="#19e019"/>
<circle cx="642.2" cy="1158.07" r="1.7" fill="#19e019"/>
<circle cx="648.88" cy="1169.43" r="1.7" fill="#19e019"/>
<circle cx="655.39" cy="1203.51" r="1.7" fill="#19e019"/>
<circle cx="662.08" cy="1195.16" r="1.7" fill="#19e019"/>
<circle cx="668.59" cy="1175.44" r="1.7" fill="#19e019"/>
<circle cx="675.11" cy="1153.39" r="1.7" fill="#19e019"/>
<circle cx="681.79" cy="1137.85" r="1.7" fill="#19e019"/>
<circle cx="688.31" cy="1224.89" r="1.7" fill="#19e019"/>
<circle cx="694.99" cy="1217.21" r="1.7" fill="#19e019"/>
<circle cx="701.5" cy="1165.92" r="1.7" fill="#19e019"/>
<circle cx="708.19" cy="1164.25" r="1.7" fill="#19e019"/>
<circle cx="714.87" cy="1218.54" r="1.7" fill="#19e019"/>
<circle cx="721.38" cy="1193.48" r="1.7" fill="#19e019"/>
<circle cx="728.07" cy="1202.67" r="1.7" fill="#19e019"/>
<circle cx="734.75" cy="1204.34" r="1.7" fill="#19e019"/>
<circle cx="741.26" cy="1208.52" r="1.7" fill="#19e019"/>
<circle cx="747.95" cy="1216.87" r="1.7" fill="#19e019"/>
<circle cx="754.63" cy="1211.86" r="1.7" fill="#19e019"/>
<polyline points="642.2,1185.97 648.88,1183.13 655.39,1183.46 662.08,1177.28 668.59,1202.17 675.11,1168.09 681.79,1150.55 688.31,1225.23" fill="none" stroke="#17a6e6" stroke-width="1.1" stroke-linejoin="round"/>
<circle cx="642.2" cy="1185.97" r="1.7" fill="#17a6e6"/>
<circle cx="648.88" cy="1183.13" r="1.7" fill="#17a6e6"/>
<circle cx="655.39" cy="1183.46" r="1.7" fill="#17a6e6"/>
<circle cx="662.08" cy="1177.28" r="1.7" fill="#17a6e6"/>
<circle cx="668.59" cy="1202.17" r="1.7" fill="#17a6e6"/>
<circle cx="675.11" cy="1168.09" r="1.7" fill="#17a6e6"/>
<circle cx="681.79" cy="1150.55" r="1.7" fill="#17a6e6"/>
<circle cx="688.31" cy="1225.23" r="1.7" fill="#17a6e6"/>
<polyline points="701.5,1168.42 708.19,1175.11 714.87,1214.37 721.38,1180.45 728.07,1195.99 734.75,1201 741.26,1208.52" fill="none" stroke="#17a6e6" stroke-width="1.1" stroke-linejoin="round"/>
<circle cx="701.5" cy="1168.42" r="1.7" fill="#17a6e6"/>
<circle cx="708.19" cy="1175.11" r="1.7" fill="#17a6e6"/>
<circle cx="714.87" cy="1214.37" r="1.7" fill="#17a6e6"/>
<circle cx="721.38" cy="1180.45" r="1.7" fill="#17a6e6"/>
<circle cx="728.07" cy="1195.99" r="1.7" fill="#17a6e6"/>
<circle cx="734.75" cy="1201" r="1.7" fill="#17a6e6"/>
<circle cx="741.26" cy="1208.52" r="1.7" fill="#17a6e6"/>
<circle cx="754.63" cy="1236.09" r="1.7" fill="#17a6e6"/>
<polyline points="642.2,1170.6 648.88,1197.66 655.39,1181.46 662.08,1195.99 668.59,1191.48 675.11,1151.22 681.79,1188.81 688.31,1261.98 694.99,1194.82 701.5,1174.27 708.19,1165.92 714.87,1213.53 721.38,1186.47 728.07,1190.98 734.75,1190.14 741.26,1195.49" fill="none" stroke="#f2a31b" stroke-width="1.1" stroke-linejoin="round"/>
<circle cx="642.2" cy="1170.6" r="1.7" fill="#f2a31b"/>
<circle cx="648.88" cy="1197.66" r="1.7" fill="#f2a31b"/>
<circle cx="655.39" cy="1181.46" r="1.7" fill="#f2a31b"/>
<circle cx="662.08" cy="1195.99" r="1.7" fill="#f2a31b"/>
<circle cx="668.59" cy="1191.48" r="1.7" fill="#f2a31b"/>
<circle cx="675.11" cy="1151.22" r="1.7" fill="#f2a31b"/>
<circle cx="681.79" cy="1188.81" r="1.7" fill="#f2a31b"/>
<circle cx="688.31" cy="1261.98" r="1.7" fill="#f2a31b"/>
<circle cx="694.99" cy="1194.82" r="1.7" fill="#f2a31b"/>
<circle cx="701.5" cy="1174.27" r="1.7" fill="#f2a31b"/>
<circle cx="708.19" cy="1165.92" r="1.7" fill="#f2a31b"/>
<circle cx="714.87" cy="1213.53" r="1.7" fill="#f2a31b"/>
<circle cx="721.38" cy="1186.47" r="1.7" fill="#f2a31b"/>
<circle cx="728.07" cy="1190.98" r="1.7" fill="#f2a31b"/>
<circle cx="734.75" cy="1190.14" r="1.7" fill="#f2a31b"/>
<circle cx="741.26" cy="1195.49" r="1.7" fill="#f2a31b"/>
<circle cx="754.63" cy="1194.32" r="1.7" fill="#f2a31b"/>
<polyline points="642.2,1186.8 648.88,1202.17 655.39,1213.03 662.08,1200.17 668.59,1227.73 675.11,1192.82 681.79,1210.53" fill="none" stroke="#dc1414" stroke-width="1.1" stroke-linejoin="round"/>
<circle cx="642.2" cy="1186.8" r="1.7" fill="#dc1414"/>
<circle cx="648.88" cy="1202.17" r="1.7" fill="#dc1414"/>
<circle cx="655.39" cy="1213.03" r="1.7" fill="#dc1414"/>
<circle cx="662.08" cy="1200.17" r="1.7" fill="#dc1414"/>
<circle cx="668.59" cy="1227.73" r="1.7" fill="#dc1414"/>
<circle cx="675.11" cy="1192.82" r="1.7" fill="#dc1414"/>
<circle cx="681.79" cy="1210.53" r="1.7" fill="#dc1414"/>
<polyline points="694.99,1227.73 701.5,1161.41 708.19,1168.93 714.87,1165.08 721.38,1163.08 728.07,1186.8 734.75,1172.6 741.26,1164.25" fill="none" stroke="#dc1414" stroke-width="1.1" stroke-linejoin="round"/>
<circle cx="694.99" cy="1227.73" r="1.7" fill="#dc1414"/>
<circle cx="701.5" cy="1161.41" r="1.7" fill="#dc1414"/>
<circle cx="708.19" cy="1168.93" r="1.7" fill="#dc1414"/>
<circle cx="714.87" cy="1165.08" r="1.7" fill="#dc1414"/>
<circle cx="721.38" cy="1163.08" r="1.7" fill="#dc1414"/>
<circle cx="728.07" cy="1186.8" r="1.7" fill="#dc1414"/>
<circle cx="734.75" cy="1172.6" r="1.7" fill="#dc1414"/>
<circle cx="741.26" cy="1164.25" r="1.7" fill="#dc1414"/>
<circle cx="754.63" cy="1207.85" r="1.7" fill="#dc1414"/>
<polyline points="701.5,1168.76 708.19,1199.33 714.87,1188.47 721.38,1187.14 728.07,1234.08 741.26,1157.06" fill="none" stroke="#1414c8" stroke-width="1.1" stroke-linejoin="round"/>
<circle cx="701.5" cy="1168.76" r="1.7" fill="#1414c8"/>
<circle cx="708.19" cy="1199.33" r="1.7" fill="#1414c8"/>
<circle cx="714.87" cy="1188.47" r="1.7" fill="#1414c8"/>
<circle cx="721.38" cy="1187.14" r="1.7" fill="#1414c8"/>
<circle cx="728.07" cy="1234.08" r="1.7" fill="#1414c8"/>
<circle cx="741.26" cy="1157.06" r="1.7" fill="#1414c8"/>
<circle cx="754.63" cy="1190.48" r="1.7" fill="#1414c8"/>
</g>
<rect x="539.4" y="1131.6" width="225.6" height="139.4" fill="none" stroke="#777777" stroke-width="1"/>
<rect x="539.4" y="1109.4" width="225.6" height="22.2" fill="#fff" stroke="#777777" stroke-width="1"/>
<text x="652.2" y="1126.26" font-size="16" text-anchor="middle" fill="#1a1a1a" font-style="italic">Myctophidae</text>
<line x1="536.7" y1="1144.8" x2="539.4" y2="1144.8" stroke="#333" stroke-width="1"/>
<text x="535.3" y="1151.41" font-size="17.2" text-anchor="end" fill="#3a3a3a">2</text>
<line x1="536.7" y1="1168" x2="539.4" y2="1168" stroke="#333" stroke-width="1"/>
<text x="535.3" y="1174.61" font-size="17.2" text-anchor="end" fill="#3a3a3a">1</text>
<line x1="536.7" y1="1191.3" x2="539.4" y2="1191.3" stroke="#333" stroke-width="1"/>
<text x="535.3" y="1197.91" font-size="17.2" text-anchor="end" fill="#3a3a3a">0</text>
<line x1="536.7" y1="1214.6" x2="539.4" y2="1214.6" stroke="#333" stroke-width="1"/>
<text x="535.3" y="1221.21" font-size="17.2" text-anchor="end" fill="#3a3a3a">-1</text>
<line x1="536.7" y1="1237.9" x2="539.4" y2="1237.9" stroke="#333" stroke-width="1"/>
<text x="535.3" y="1244.51" font-size="17.2" text-anchor="end" fill="#3a3a3a">-2</text>
<line x1="536.7" y1="1261.2" x2="539.4" y2="1261.2" stroke="#333" stroke-width="1"/>
<text x="535.3" y="1267.81" font-size="17.2" text-anchor="end" fill="#3a3a3a">-3</text>
<rect x="39.8" y="1295.4" width="225" height="137.9" fill="#fff"/>
<g clip-path="url(#cp4)">
<line x1="39.8" y1="1387.5" x2="264.8" y2="1387.5" stroke="#ababab" stroke-width="1"/>
<polyline points="49.62,1417.9 56.47,1419.24 62.82,1416.9 69.5,1414.22 76.18,1403.7 82.53,1349.74 90.21,1376.97" fill="none" stroke="#19e019" stroke-width="1.1" stroke-linejoin="round"/>
<circle cx="49.62" cy="1417.9" r="1.7" fill="#19e019"/>
<circle cx="56.47" cy="1419.24" r="1.7" fill="#19e019"/>
<circle cx="62.82" cy="1416.9" r="1.7" fill="#19e019"/>
<circle cx="69.5" cy="1414.22" r="1.7" fill="#19e019"/>
<circle cx="76.18" cy="1403.7" r="1.7" fill="#19e019"/>
<circle cx="82.53" cy="1349.74" r="1.7" fill="#19e019"/>
<circle cx="90.21" cy="1376.97" r="1.7" fill="#19e019"/>
</g>
<rect x="39.8" y="1295.4" width="225" height="137.9" fill="none" stroke="#777777" stroke-width="1"/>
<rect x="39.8" y="1273.4" width="225" height="22" fill="#fff" stroke="#777777" stroke-width="1"/>
<line x1="37.1" y1="1316.8" x2="39.8" y2="1316.8" stroke="#333" stroke-width="1"/>
<text x="35.7" y="1323.41" font-size="17.2" text-anchor="end" fill="#3a3a3a">2</text>
<line x1="37.1" y1="1352.4" x2="39.8" y2="1352.4" stroke="#333" stroke-width="1"/>
<text x="35.7" y="1359.01" font-size="17.2" text-anchor="end" fill="#3a3a3a">1</text>
<line x1="37.1" y1="1387.7" x2="39.8" y2="1387.7" stroke="#333" stroke-width="1"/>
<text x="35.7" y="1394.31" font-size="17.2" text-anchor="end" fill="#3a3a3a">0</text>
<line x1="37.1" y1="1423.5" x2="39.8" y2="1423.5" stroke="#333" stroke-width="1"/>
<text x="35.7" y="1430.11" font-size="17.2" text-anchor="end" fill="#3a3a3a">-1</text>
<rect x="39.8" y="1460.4" width="225" height="137" fill="#fff"/>
<g clip-path="url(#cp5)">
<line x1="39.8" y1="1527.5" x2="264.8" y2="1527.5" stroke="#ababab" stroke-width="1"/>
<polyline points="49.28,1525.82 56.44,1522.12 63.01,1549.69 69.57,1476.54 76.13,1512.1 82.7,1560.43 88.9,1507.33" fill="none" stroke="#19e019" stroke-width="1.1" stroke-linejoin="round"/>
<circle cx="49.28" cy="1525.82" r="1.7" fill="#19e019"/>
<circle cx="56.44" cy="1522.12" r="1.7" fill="#19e019"/>
<circle cx="63.01" cy="1549.69" r="1.7" fill="#19e019"/>
<circle cx="69.57" cy="1476.54" r="1.7" fill="#19e019"/>
<circle cx="76.13" cy="1512.1" r="1.7" fill="#19e019"/>
<circle cx="82.7" cy="1560.43" r="1.7" fill="#19e019"/>
<circle cx="88.9" cy="1507.33" r="1.7" fill="#19e019"/>
</g>
<rect x="39.8" y="1460.4" width="225" height="137" fill="none" stroke="#777777" stroke-width="1"/>
<rect x="39.8" y="1437.8" width="225" height="22.6" fill="#fff" stroke="#777777" stroke-width="1"/>
<line x1="37.1" y1="1469.1" x2="39.8" y2="1469.1" stroke="#333" stroke-width="1"/>
<text x="35.7" y="1475.71" font-size="17.2" text-anchor="end" fill="#3a3a3a">2</text>
<line x1="37.1" y1="1498.3" x2="39.8" y2="1498.3" stroke="#333" stroke-width="1"/>
<text x="35.7" y="1504.91" font-size="17.2" text-anchor="end" fill="#3a3a3a">1</text>
<line x1="37.1" y1="1527.4" x2="39.8" y2="1527.4" stroke="#333" stroke-width="1"/>
<text x="35.7" y="1534.01" font-size="17.2" text-anchor="end" fill="#3a3a3a">0</text>
<line x1="37.1" y1="1556.8" x2="39.8" y2="1556.8" stroke="#333" stroke-width="1"/>
<text x="35.7" y="1563.41" font-size="17.2" text-anchor="end" fill="#3a3a3a">-1</text>
<line x1="37.1" y1="1586" x2="39.8" y2="1586" stroke="#333" stroke-width="1"/>
<text x="35.7" y="1592.61" font-size="17.2" text-anchor="end" fill="#3a3a3a">-2</text>
<line x1="49.3" y1="1597.4" x2="49.3" y2="1600.1" stroke="#333" stroke-width="1"/>
<text transform="translate(60.64,1601.9) rotate(-90)" font-size="15" text-anchor="end" fill="#2e2e2e">1990</text>
<line x1="82.3" y1="1597.4" x2="82.3" y2="1600.1" stroke="#333" stroke-width="1"/>
<text transform="translate(93.64,1601.9) rotate(-90)" font-size="15" text-anchor="end" fill="#2e2e2e">1995</text>
<line x1="115.3" y1="1597.4" x2="115.3" y2="1600.1" stroke="#333" stroke-width="1"/>
<text transform="translate(126.64,1601.9) rotate(-90)" font-size="15" text-anchor="end" fill="#2e2e2e">2000</text>
<text x="57.3" y="1454.5" font-size="16" text-anchor="start" fill="#1a1a1a" font-style="italic">YOY rockfish</text>
<g clip-path="url(#ov)"><rect x="86.7" y="1260" width="760" height="531" fill="#fff"/>
<rect x="124.4" y="1304.8" width="151.9" height="120.5" fill="#fff"/>
<line x1="124.4" y1="1389.5" x2="276.3" y2="1389.5" stroke="#ababab" stroke-width="1"/>
<line x1="269.5" y1="1304.8" x2="269.5" y2="1425.3" stroke="#999999" stroke-width="1"/>
<polyline points="131.17,1404.82 133.43,1412.09 135.43,1392.04 137.44,1398.56 139.44,1383.52 141.45,1406.33 143.45,1396.8 145.46,1400.56 147.46,1408.58 149.47,1417.85 151.47,1416.1 153.48,1408.08 155.48,1412.84 157.24,1393.29 159.24,1396.05 161.5,1395.3 167.01,1375.25 179.04,1414.85 185.05,1365.48 190.82,1373.5 194.58,1418.1 196.58,1419.86 198.59,1404.57 200.59,1411.09 202.34,1389.28 204.35,1389.03 206.35,1378.01 208.36,1369.24 210.36,1344.93 212.37,1395.3 214.37,1382.77 216.38,1375.5 218.38,1402.57 220.14,1360.72 222.14,1370.24 224.15,1409.83 226.15,1404.07 228.16,1377.51 230.16,1380.01 232.17,1371.99 234.17,1407.08 236.17,1390.29 238.18,1399.56 240.18,1393.04 242.19,1403.82 244.19,1410.33 246.2,1399.31 248.2,1366.48 249.96,1330.65 251.96,1310.35 253.97,1362.22 255.97,1315.61 257.73,1385.53 259.73,1409.58 261.74,1380.76 263.74,1398.06 265.75,1401.06 269.75,1403.32" fill="none" stroke="#1a1a1a" stroke-width="0.9" stroke-linejoin="round"/>
<circle cx="131.17" cy="1404.82" r="1.95" fill="#0e780e"/>
<circle cx="133.43" cy="1412.09" r="1.95" fill="#0e780e"/>
<circle cx="135.43" cy="1392.04" r="1.95" fill="#0e780e"/>
<circle cx="137.44" cy="1398.56" r="1.95" fill="#0e780e"/>
<circle cx="139.44" cy="1383.52" r="1.95" fill="#0e780e"/>
<circle cx="141.45" cy="1406.33" r="1.95" fill="#0e780e"/>
<circle cx="143.45" cy="1396.8" r="1.95" fill="#0e780e"/>
<circle cx="145.46" cy="1400.56" r="1.95" fill="#0e780e"/>
<circle cx="147.46" cy="1408.58" r="1.95" fill="#0e780e"/>
<circle cx="149.47" cy="1417.85" r="1.95" fill="#0e780e"/>
<circle cx="151.47" cy="1416.1" r="1.95" fill="#0e780e"/>
<circle cx="153.48" cy="1408.08" r="1.95" fill="#0e780e"/>
<circle cx="155.48" cy="1412.84" r="1.95" fill="#0e780e"/>
<circle cx="157.24" cy="1393.29" r="1.95" fill="#0e780e"/>
<circle cx="159.24" cy="1396.05" r="1.95" fill="#0e780e"/>
<circle cx="161.5" cy="1395.3" r="1.95" fill="#0e780e"/>
<circle cx="167.01" cy="1375.25" r="1.95" fill="#0e780e"/>
<circle cx="179.04" cy="1414.85" r="1.95" fill="#0e780e"/>
<circle cx="185.05" cy="1365.48" r="1.95" fill="#0e780e"/>
<circle cx="190.82" cy="1373.5" r="1.95" fill="#0e780e"/>
<circle cx="194.58" cy="1418.1" r="1.95" fill="#0e780e"/>
<circle cx="196.58" cy="1419.86" r="1.95" fill="#0e780e"/>
<circle cx="198.59" cy="1404.57" r="1.95" fill="#0e780e"/>
<circle cx="200.59" cy="1411.09" r="1.95" fill="#0e780e"/>
<circle cx="202.34" cy="1389.28" r="1.95" fill="#0e780e"/>
<circle cx="204.35" cy="1389.03" r="1.95" fill="#0e780e"/>
<circle cx="206.35" cy="1378.01" r="1.95" fill="#0e780e"/>
<circle cx="208.36" cy="1369.24" r="1.95" fill="#0e780e"/>
<circle cx="210.36" cy="1344.93" r="1.95" fill="#0e780e"/>
<circle cx="212.37" cy="1395.3" r="1.95" fill="#0e780e"/>
<circle cx="214.37" cy="1382.77" r="1.95" fill="#0e780e"/>
<circle cx="216.38" cy="1375.5" r="1.95" fill="#0e780e"/>
<circle cx="218.38" cy="1402.57" r="1.95" fill="#0e780e"/>
<circle cx="220.14" cy="1360.72" r="1.95" fill="#0e780e"/>
<circle cx="222.14" cy="1370.24" r="1.95" fill="#0e780e"/>
<circle cx="224.15" cy="1409.83" r="1.95" fill="#0e780e"/>
<circle cx="226.15" cy="1404.07" r="1.95" fill="#0e780e"/>
<circle cx="228.16" cy="1377.51" r="1.95" fill="#0e780e"/>
<circle cx="230.16" cy="1380.01" r="1.95" fill="#0e780e"/>
<circle cx="232.17" cy="1371.99" r="1.95" fill="#0e780e"/>
<circle cx="234.17" cy="1407.08" r="1.95" fill="#0e780e"/>
<circle cx="236.17" cy="1390.29" r="1.95" fill="#0e780e"/>
<circle cx="238.18" cy="1399.56" r="1.95" fill="#0e780e"/>
<circle cx="240.18" cy="1393.04" r="1.95" fill="#0e780e"/>
<circle cx="242.19" cy="1403.82" r="1.95" fill="#0e780e"/>
<circle cx="244.19" cy="1410.33" r="1.95" fill="#0e780e"/>
<circle cx="246.2" cy="1399.31" r="1.95" fill="#0e780e"/>
<circle cx="248.2" cy="1366.48" r="1.95" fill="#0e780e"/>
<circle cx="249.96" cy="1330.65" r="1.95" fill="#0e780e"/>
<circle cx="251.96" cy="1310.35" r="1.95" fill="#0e780e"/>
<circle cx="253.97" cy="1362.22" r="1.95" fill="#0e780e"/>
<circle cx="255.97" cy="1315.61" r="1.95" fill="#0e780e"/>
<circle cx="257.73" cy="1385.53" r="1.95" fill="#0e780e"/>
<circle cx="259.73" cy="1409.58" r="1.95" fill="#0e780e"/>
<circle cx="261.74" cy="1380.76" r="1.95" fill="#0e780e"/>
<circle cx="263.74" cy="1398.06" r="1.95" fill="#0e780e"/>
<circle cx="265.75" cy="1401.06" r="1.95" fill="#0e780e"/>
<circle cx="269.75" cy="1403.32" r="1.95" fill="#0e780e"/>
<rect x="124.4" y="1304.8" width="151.9" height="120.5" fill="none" stroke="#777777" stroke-width="1"/>
<rect x="124.4" y="1263.2" width="151.9" height="21.1" fill="#fff" stroke="#777777" stroke-width="1"/>
<text x="200.35" y="1279.01" font-size="14.6" text-anchor="middle" fill="#1a1a1a" font-style="italic">benthic</text>
<rect x="124.4" y="1284.3" width="151.9" height="20.5" fill="#fff" stroke="#777777" stroke-width="1"/>
<text x="200.35" y="1299.81" font-size="14.6" text-anchor="middle" fill="#1a1a1a" font-style="italic">Citharichthys</text>
<line x1="121.7" y1="1331.4" x2="124.4" y2="1331.4" stroke="#333" stroke-width="1"/>
<text x="120.3" y="1338.01" font-size="17.2" text-anchor="end" fill="#3a3a3a">1.0</text>
<line x1="121.7" y1="1360.7" x2="124.4" y2="1360.7" stroke="#333" stroke-width="1"/>
<text x="120.3" y="1367.31" font-size="17.2" text-anchor="end" fill="#3a3a3a">0.5</text>
<line x1="121.7" y1="1389.5" x2="124.4" y2="1389.5" stroke="#333" stroke-width="1"/>
<text x="120.3" y="1396.11" font-size="17.2" text-anchor="end" fill="#3a3a3a">0.0</text>
<line x1="121.7" y1="1418.9" x2="124.4" y2="1418.9" stroke="#333" stroke-width="1"/>
<text x="120.3" y="1425.51" font-size="17.2" text-anchor="end" fill="#3a3a3a">-0.5</text>
<rect x="315.9" y="1304.8" width="152.4" height="120.5" fill="#fff"/>
<line x1="315.9" y1="1367.5" x2="468.3" y2="1367.5" stroke="#ababab" stroke-width="1"/>
<line x1="461.5" y1="1304.8" x2="461.5" y2="1425.3" stroke="#999999" stroke-width="1"/>
<polyline points="322.18,1327.89 324.18,1352.45 326.19,1380.01 328.19,1336.41 330.2,1323.63 332.2,1364.48 334.21,1310.35 336.21,1389.54 338.22,1390.79 340.22,1390.79 342.22,1375.25 344.23,1369.24 346.23,1370.99 347.99,1356.46 349.99,1375.25 352,1342.17 357.76,1355.96 369.54,1385.28 375.55,1368.74 381.57,1336.41 385.58,1408.08 387.58,1377.51 389.59,1419.86 391.59,1364.73 393.35,1380.01 395.35,1358.46 397.36,1373.5 399.36,1322.63 401.37,1338.16 403.37,1389.03 405.38,1375.5 407.38,1382.77 409.38,1375.75 411.39,1371.99 413.39,1381.02 415.15,1389.28 417.15,1368.74 419.16,1373.5 421.16,1365.98 423.17,1357.96 425.17,1379.51 427.18,1365.98 429.18,1369.99 431.19,1377.76 432.94,1386.03 434.95,1376.25 436.95,1373.25 438.96,1372.24 440.96,1376 442.96,1321.87 444.97,1355.45 446.97,1372.24 448.98,1356.46 450.98,1363.47 452.99,1355.2 454.99,1392.54 457,1375.75 461.01,1346.93" fill="none" stroke="#1a1a1a" stroke-width="0.9" stroke-linejoin="round"/>
<circle cx="322.18" cy="1327.89" r="1.95" fill="#0e780e"/>
<circle cx="324.18" cy="1352.45" r="1.95" fill="#0e780e"/>
<circle cx="326.19" cy="1380.01" r="1.95" fill="#0e780e"/>
<circle cx="328.19" cy="1336.41" r="1.95" fill="#0e780e"/>
<circle cx="330.2" cy="1323.63" r="1.95" fill="#0e780e"/>
<circle cx="332.2" cy="1364.48" r="1.95" fill="#0e780e"/>
<circle cx="334.21" cy="1310.35" r="1.95" fill="#0e780e"/>
<circle cx="336.21" cy="1389.54" r="1.95" fill="#0e780e"/>
<circle cx="338.22" cy="1390.79" r="1.95" fill="#0e780e"/>
<circle cx="340.22" cy="1390.79" r="1.95" fill="#0e780e"/>
<circle cx="342.22" cy="1375.25" r="1.95" fill="#0e780e"/>
<circle cx="344.23" cy="1369.24" r="1.95" fill="#0e780e"/>
<circle cx="346.23" cy="1370.99" r="1.95" fill="#0e780e"/>
<circle cx="347.99" cy="1356.46" r="1.95" fill="#0e780e"/>
<circle cx="349.99" cy="1375.25" r="1.95" fill="#0e780e"/>
<circle cx="352" cy="1342.17" r="1.95" fill="#0e780e"/>
<circle cx="357.76" cy="1355.96" r="1.95" fill="#0e780e"/>
<circle cx="369.54" cy="1385.28" r="1.95" fill="#0e780e"/>
<circle cx="375.55" cy="1368.74" r="1.95" fill="#0e780e"/>
<circle cx="381.57" cy="1336.41" r="1.95" fill="#0e780e"/>
<circle cx="385.58" cy="1408.08" r="1.95" fill="#0e780e"/>
<circle cx="387.58" cy="1377.51" r="1.95" fill="#0e780e"/>
<circle cx="389.59" cy="1419.86" r="1.95" fill="#0e780e"/>
<circle cx="391.59" cy="1364.73" r="1.95" fill="#0e780e"/>
<circle cx="393.35" cy="1380.01" r="1.95" fill="#0e780e"/>
<circle cx="395.35" cy="1358.46" r="1.95" fill="#0e780e"/>
<circle cx="397.36" cy="1373.5" r="1.95" fill="#0e780e"/>
<circle cx="399.36" cy="1322.63" r="1.95" fill="#0e780e"/>
<circle cx="401.37" cy="1338.16" r="1.95" fill="#0e780e"/>
<circle cx="403.37" cy="1389.03" r="1.95" fill="#0e780e"/>
<circle cx="405.38" cy="1375.5" r="1.95" fill="#0e780e"/>
<circle cx="407.38" cy="1382.77" r="1.95" fill="#0e780e"/>
<circle cx="409.38" cy="1375.75" r="1.95" fill="#0e780e"/>
<circle cx="411.39" cy="1371.99" r="1.95" fill="#0e780e"/>
<circle cx="413.39" cy="1381.02" r="1.95" fill="#0e780e"/>
<circle cx="415.15" cy="1389.28" r="1.95" fill="#0e780e"/>
<circle cx="417.15" cy="1368.74" r="1.95" fill="#0e780e"/>
<circle cx="419.16" cy="1373.5" r="1.95" fill="#0e780e"/>
<circle cx="421.16" cy="1365.98" r="1.95" fill="#0e780e"/>
<circle cx="423.17" cy="1357.96" r="1.95" fill="#0e780e"/>
<circle cx="425.17" cy="1379.51" r="1.95" fill="#0e780e"/>
<circle cx="427.18" cy="1365.98" r="1.95" fill="#0e780e"/>
<circle cx="429.18" cy="1369.99" r="1.95" fill="#0e780e"/>
<circle cx="431.19" cy="1377.76" r="1.95" fill="#0e780e"/>
<circle cx="432.94" cy="1386.03" r="1.95" fill="#0e780e"/>
<circle cx="434.95" cy="1376.25" r="1.95" fill="#0e780e"/>
<circle cx="436.95" cy="1373.25" r="1.95" fill="#0e780e"/>
<circle cx="438.96" cy="1372.24" r="1.95" fill="#0e780e"/>
<circle cx="440.96" cy="1376" r="1.95" fill="#0e780e"/>
<circle cx="442.96" cy="1321.87" r="1.95" fill="#0e780e"/>
<circle cx="444.97" cy="1355.45" r="1.95" fill="#0e780e"/>
<circle cx="446.97" cy="1372.24" r="1.95" fill="#0e780e"/>
<circle cx="448.98" cy="1356.46" r="1.95" fill="#0e780e"/>
<circle cx="450.98" cy="1363.47" r="1.95" fill="#0e780e"/>
<circle cx="452.99" cy="1355.2" r="1.95" fill="#0e780e"/>
<circle cx="454.99" cy="1392.54" r="1.95" fill="#0e780e"/>
<circle cx="457" cy="1375.75" r="1.95" fill="#0e780e"/>
<circle cx="461.01" cy="1346.93" r="1.95" fill="#0e780e"/>
<rect x="315.9" y="1304.8" width="152.4" height="120.5" fill="none" stroke="#777777" stroke-width="1"/>
<rect x="315.9" y="1263.2" width="152.4" height="21.1" fill="#fff" stroke="#777777" stroke-width="1"/>
<text x="392.1" y="1279.01" font-size="14.6" text-anchor="middle" fill="#1a1a1a" font-style="italic">benthic</text>
<rect x="315.9" y="1284.3" width="152.4" height="20.5" fill="#fff" stroke="#777777" stroke-width="1"/>
<text x="392.1" y="1299.81" font-size="14.6" text-anchor="middle" fill="#1a1a1a" font-style="italic">Sebastes</text>
<line x1="313.2" y1="1315.4" x2="315.9" y2="1315.4" stroke="#333" stroke-width="1"/>
<text x="311.8" y="1322.01" font-size="17.2" text-anchor="end" fill="#3a3a3a">1.0</text>
<line x1="313.2" y1="1341.2" x2="315.9" y2="1341.2" stroke="#333" stroke-width="1"/>
<text x="311.8" y="1347.81" font-size="17.2" text-anchor="end" fill="#3a3a3a">0.5</text>
<line x1="313.2" y1="1367" x2="315.9" y2="1367" stroke="#333" stroke-width="1"/>
<text x="311.8" y="1373.61" font-size="17.2" text-anchor="end" fill="#3a3a3a">0.0</text>
<line x1="313.2" y1="1392.8" x2="315.9" y2="1392.8" stroke="#333" stroke-width="1"/>
<text x="311.8" y="1399.41" font-size="17.2" text-anchor="end" fill="#3a3a3a">-0.5</text>
<line x1="313.2" y1="1419.1" x2="315.9" y2="1419.1" stroke="#333" stroke-width="1"/>
<text x="311.8" y="1425.71" font-size="17.2" text-anchor="end" fill="#3a3a3a">-1.0</text>
<rect x="492.6" y="1304.8" width="151.6" height="120.5" fill="#fff"/>
<line x1="492.6" y1="1374.5" x2="644.2" y2="1374.5" stroke="#ababab" stroke-width="1"/>
<line x1="638.5" y1="1304.8" x2="638.5" y2="1425.3" stroke="#999999" stroke-width="1"/>
<polyline points="499.15,1327.89 501.15,1316.61 503.16,1343.43 505.16,1370.99 507.17,1365.98 509.17,1348.94 511.17,1310.35 513.18,1394.05 515.18,1406.07 517.19,1370.99 519.19,1379.51 520.95,1357.46 522.95,1382.77 524.96,1361.97 526.96,1372.24 528.97,1331.15 534.98,1387.28 546.51,1385.78 552.52,1373.25 558.54,1370.99 562.55,1399.81 564.55,1384.77 566.56,1389.79 568.56,1387.28 570.32,1362.47 572.32,1382.52 574.33,1378.51 576.33,1368.49 578.33,1370.99 580.34,1394.05 582.34,1382.02 584.35,1349.94 586.35,1390.54 588.36,1380.76 590.11,1400.06 592.12,1380.76 594.12,1335.16 596.13,1355.96 598.13,1398.81 600.14,1344.93 602.14,1393.29 604.15,1388.53 606.15,1408.58 608.16,1419.86 610.16,1418.35 612.17,1360.47 614.17,1378.76 616.17,1384.52 618.18,1406.07 620.18,1350.69 622.19,1342.92 623.94,1346.43 625.95,1387.28 627.95,1373.25 629.96,1377.76 631.96,1407.33 633.97,1408.33 637.73,1396.05" fill="none" stroke="#1a1a1a" stroke-width="0.9" stroke-linejoin="round"/>
<circle cx="499.15" cy="1327.89" r="1.95" fill="#0e780e"/>
<circle cx="501.15" cy="1316.61" r="1.95" fill="#0e780e"/>
<circle cx="503.16" cy="1343.43" r="1.95" fill="#0e780e"/>
<circle cx="505.16" cy="1370.99" r="1.95" fill="#0e780e"/>
<circle cx="507.17" cy="1365.98" r="1.95" fill="#0e780e"/>
<circle cx="509.17" cy="1348.94" r="1.95" fill="#0e780e"/>
<circle cx="511.17" cy="1310.35" r="1.95" fill="#0e780e"/>
<circle cx="513.18" cy="1394.05" r="1.95" fill="#0e780e"/>
<circle cx="515.18" cy="1406.07" r="1.95" fill="#0e780e"/>
<circle cx="517.19" cy="1370.99" r="1.95" fill="#0e780e"/>
<circle cx="519.19" cy="1379.51" r="1.95" fill="#0e780e"/>
<circle cx="520.95" cy="1357.46" r="1.95" fill="#0e780e"/>
<circle cx="522.95" cy="1382.77" r="1.95" fill="#0e780e"/>
<circle cx="524.96" cy="1361.97" r="1.95" fill="#0e780e"/>
<circle cx="526.96" cy="1372.24" r="1.95" fill="#0e780e"/>
<circle cx="528.97" cy="1331.15" r="1.95" fill="#0e780e"/>
<circle cx="534.98" cy="1387.28" r="1.95" fill="#0e780e"/>
<circle cx="546.51" cy="1385.78" r="1.95" fill="#0e780e"/>
<circle cx="552.52" cy="1373.25" r="1.95" fill="#0e780e"/>
<circle cx="558.54" cy="1370.99" r="1.95" fill="#0e780e"/>
<circle cx="562.55" cy="1399.81" r="1.95" fill="#0e780e"/>
<circle cx="564.55" cy="1384.77" r="1.95" fill="#0e780e"/>
<circle cx="566.56" cy="1389.79" r="1.95" fill="#0e780e"/>
<circle cx="568.56" cy="1387.28" r="1.95" fill="#0e780e"/>
<circle cx="570.32" cy="1362.47" r="1.95" fill="#0e780e"/>
<circle cx="572.32" cy="1382.52" r="1.95" fill="#0e780e"/>
<circle cx="574.33" cy="1378.51" r="1.95" fill="#0e780e"/>
<circle cx="576.33" cy="1368.49" r="1.95" fill="#0e780e"/>
<circle cx="578.33" cy="1370.99" r="1.95" fill="#0e780e"/>
<circle cx="580.34" cy="1394.05" r="1.95" fill="#0e780e"/>
<circle cx="582.34" cy="1382.02" r="1.95" fill="#0e780e"/>
<circle cx="584.35" cy="1349.94" r="1.95" fill="#0e780e"/>
<circle cx="586.35" cy="1390.54" r="1.95" fill="#0e780e"/>
<circle cx="588.36" cy="1380.76" r="1.95" fill="#0e780e"/>
<circle cx="590.11" cy="1400.06" r="1.95" fill="#0e780e"/>
<circle cx="592.12" cy="1380.76" r="1.95" fill="#0e780e"/>
<circle cx="594.12" cy="1335.16" r="1.95" fill="#0e780e"/>
<circle cx="596.13" cy="1355.96" r="1.95" fill="#0e780e"/>
<circle cx="598.13" cy="1398.81" r="1.95" fill="#0e780e"/>
<circle cx="600.14" cy="1344.93" r="1.95" fill="#0e780e"/>
<circle cx="602.14" cy="1393.29" r="1.95" fill="#0e780e"/>
<circle cx="604.15" cy="1388.53" r="1.95" fill="#0e780e"/>
<circle cx="606.15" cy="1408.58" r="1.95" fill="#0e780e"/>
<circle cx="608.16" cy="1419.86" r="1.95" fill="#0e780e"/>
<circle cx="610.16" cy="1418.35" r="1.95" fill="#0e780e"/>
<circle cx="612.17" cy="1360.47" r="1.95" fill="#0e780e"/>
<circle cx="614.17" cy="1378.76" r="1.95" fill="#0e780e"/>
<circle cx="616.17" cy="1384.52" r="1.95" fill="#0e780e"/>
<circle cx="618.18" cy="1406.07" r="1.95" fill="#0e780e"/>
<circle cx="620.18" cy="1350.69" r="1.95" fill="#0e780e"/>
<circle cx="622.19" cy="1342.92" r="1.95" fill="#0e780e"/>
<circle cx="623.94" cy="1346.43" r="1.95" fill="#0e780e"/>
<circle cx="625.95" cy="1387.28" r="1.95" fill="#0e780e"/>
<circle cx="627.95" cy="1373.25" r="1.95" fill="#0e780e"/>
<circle cx="629.96" cy="1377.76" r="1.95" fill="#0e780e"/>
<circle cx="631.96" cy="1407.33" r="1.95" fill="#0e780e"/>
<circle cx="633.97" cy="1408.33" r="1.95" fill="#0e780e"/>
<circle cx="637.73" cy="1396.05" r="1.95" fill="#0e780e"/>
<rect x="492.6" y="1304.8" width="151.6" height="120.5" fill="none" stroke="#777777" stroke-width="1"/>
<rect x="492.6" y="1263.2" width="151.6" height="21.1" fill="#fff" stroke="#777777" stroke-width="1"/>
<text x="568.4" y="1279.01" font-size="14.6" text-anchor="middle" fill="#1a1a1a" font-style="italic">mesopelagic</text>
<rect x="492.6" y="1284.3" width="151.6" height="20.5" fill="#fff" stroke="#777777" stroke-width="1"/>
<text x="568.4" y="1299.81" font-size="14.6" text-anchor="middle" fill="#1a1a1a" font-style="italic">northern mesopelagics</text>
<line x1="489.9" y1="1332.6" x2="492.6" y2="1332.6" stroke="#333" stroke-width="1"/>
<text x="488.5" y="1339.21" font-size="17.2" text-anchor="end" fill="#3a3a3a">1</text>
<line x1="489.9" y1="1374.7" x2="492.6" y2="1374.7" stroke="#333" stroke-width="1"/>
<text x="488.5" y="1381.31" font-size="17.2" text-anchor="end" fill="#3a3a3a">0</text>
<line x1="489.9" y1="1416.6" x2="492.6" y2="1416.6" stroke="#333" stroke-width="1"/>
<text x="488.5" y="1423.21" font-size="17.2" text-anchor="end" fill="#3a3a3a">-1</text>
<rect x="683.9" y="1304.8" width="151.1" height="120.5" fill="#fff"/>
<line x1="683.9" y1="1364.5" x2="835" y2="1364.5" stroke="#ababab" stroke-width="1"/>
<line x1="829.5" y1="1304.8" x2="829.5" y2="1425.3" stroke="#999999" stroke-width="1"/>
<polyline points="689.92,1354.7 691.93,1350.44 693.93,1405.32 695.94,1414.85 697.94,1407.83 699.95,1419.86 701.95,1393.54 703.96,1372.24 705.96,1365.48 707.96,1390.29 709.97,1399.56 711.97,1379.76 713.98,1411.59 715.73,1384.02 717.74,1378.26 719.74,1361.97 725.76,1366.73 737.79,1390.79 743.55,1340.17 749.56,1354.95 753.57,1350.69 755.58,1361.97 757.58,1369.74 759.59,1351.7 761.59,1341.92 763.6,1370.99 765.35,1350.69 767.36,1370.24 769.36,1346.93 771.37,1335.16 773.37,1351.44 775.38,1343.43 777.38,1353.95 779.38,1335.91 781.39,1335.66 783.39,1311.85 785.4,1363.72 787.15,1373.25 789.16,1370.24 791.16,1363.72 793.17,1389.79 795.17,1366.73 797.18,1367.98 799.18,1374.75 801.19,1368.49 803.19,1385.78 805.2,1364.23 807.2,1370.74 808.96,1374.75 810.96,1381.02 812.96,1357.71 814.97,1356.46 816.97,1310.1 818.98,1323.38 820.98,1333.15 822.99,1328.89 824.74,1318.37 828.75,1345.18" fill="none" stroke="#1a1a1a" stroke-width="0.9" stroke-linejoin="round"/>
<circle cx="689.92" cy="1354.7" r="1.95" fill="#0e780e"/>
<circle cx="691.93" cy="1350.44" r="1.95" fill="#0e780e"/>
<circle cx="693.93" cy="1405.32" r="1.95" fill="#0e780e"/>
<circle cx="695.94" cy="1414.85" r="1.95" fill="#0e780e"/>
<circle cx="697.94" cy="1407.83" r="1.95" fill="#0e780e"/>
<circle cx="699.95" cy="1419.86" r="1.95" fill="#0e780e"/>
<circle cx="701.95" cy="1393.54" r="1.95" fill="#0e780e"/>
<circle cx="703.96" cy="1372.24" r="1.95" fill="#0e780e"/>
<circle cx="705.96" cy="1365.48" r="1.95" fill="#0e780e"/>
<circle cx="707.96" cy="1390.29" r="1.95" fill="#0e780e"/>
<circle cx="709.97" cy="1399.56" r="1.95" fill="#0e780e"/>
<circle cx="711.97" cy="1379.76" r="1.95" fill="#0e780e"/>
<circle cx="713.98" cy="1411.59" r="1.95" fill="#0e780e"/>
<circle cx="715.73" cy="1384.02" r="1.95" fill="#0e780e"/>
<circle cx="717.74" cy="1378.26" r="1.95" fill="#0e780e"/>
<circle cx="719.74" cy="1361.97" r="1.95" fill="#0e780e"/>
<circle cx="725.76" cy="1366.73" r="1.95" fill="#0e780e"/>
<circle cx="737.79" cy="1390.79" r="1.95" fill="#0e780e"/>
<circle cx="743.55" cy="1340.17" r="1.95" fill="#0e780e"/>
<circle cx="749.56" cy="1354.95" r="1.95" fill="#0e780e"/>
<circle cx="753.57" cy="1350.69" r="1.95" fill="#0e780e"/>
<circle cx="755.58" cy="1361.97" r="1.95" fill="#0e780e"/>
<circle cx="757.58" cy="1369.74" r="1.95" fill="#0e780e"/>
<circle cx="759.59" cy="1351.7" r="1.95" fill="#0e780e"/>
<circle cx="761.59" cy="1341.92" r="1.95" fill="#0e780e"/>
<circle cx="763.6" cy="1370.99" r="1.95" fill="#0e780e"/>
<circle cx="765.35" cy="1350.69" r="1.95" fill="#0e780e"/>
<circle cx="767.36" cy="1370.24" r="1.95" fill="#0e780e"/>
<circle cx="769.36" cy="1346.93" r="1.95" fill="#0e780e"/>
<circle cx="771.37" cy="1335.16" r="1.95" fill="#0e780e"/>
<circle cx="773.37" cy="1351.44" r="1.95" fill="#0e780e"/>
<circle cx="775.38" cy="1343.43" r="1.95" fill="#0e780e"/>
<circle cx="777.38" cy="1353.95" r="1.95" fill="#0e780e"/>
<circle cx="779.38" cy="1335.91" r="1.95" fill="#0e780e"/>
<circle cx="781.39" cy="1335.66" r="1.95" fill="#0e780e"/>
<circle cx="783.39" cy="1311.85" r="1.95" fill="#0e780e"/>
<circle cx="785.4" cy="1363.72" r="1.95" fill="#0e780e"/>
<circle cx="787.15" cy="1373.25" r="1.95" fill="#0e780e"/>
<circle cx="789.16" cy="1370.24" r="1.95" fill="#0e780e"/>
<circle cx="791.16" cy="1363.72" r="1.95" fill="#0e780e"/>
<circle cx="793.17" cy="1389.79" r="1.95" fill="#0e780e"/>
<circle cx="795.17" cy="1366.73" r="1.95" fill="#0e780e"/>
<circle cx="797.18" cy="1367.98" r="1.95" fill="#0e780e"/>
<circle cx="799.18" cy="1374.75" r="1.95" fill="#0e780e"/>
<circle cx="801.19" cy="1368.49" r="1.95" fill="#0e780e"/>
<circle cx="803.19" cy="1385.78" r="1.95" fill="#0e780e"/>
<circle cx="805.2" cy="1364.23" r="1.95" fill="#0e780e"/>
<circle cx="807.2" cy="1370.74" r="1.95" fill="#0e780e"/>
<circle cx="808.96" cy="1374.75" r="1.95" fill="#0e780e"/>
<circle cx="810.96" cy="1381.02" r="1.95" fill="#0e780e"/>
<circle cx="812.96" cy="1357.71" r="1.95" fill="#0e780e"/>
<circle cx="814.97" cy="1356.46" r="1.95" fill="#0e780e"/>
<circle cx="816.97" cy="1310.1" r="1.95" fill="#0e780e"/>
<circle cx="818.98" cy="1323.38" r="1.95" fill="#0e780e"/>
<circle cx="820.98" cy="1333.15" r="1.95" fill="#0e780e"/>
<circle cx="822.99" cy="1328.89" r="1.95" fill="#0e780e"/>
<circle cx="824.74" cy="1318.37" r="1.95" fill="#0e780e"/>
<circle cx="828.75" cy="1345.18" r="1.95" fill="#0e780e"/>
<rect x="683.9" y="1304.8" width="151.1" height="120.5" fill="none" stroke="#777777" stroke-width="1"/>
<rect x="683.9" y="1263.2" width="151.1" height="21.1" fill="#fff" stroke="#777777" stroke-width="1"/>
<text x="759.45" y="1279.01" font-size="14.6" text-anchor="middle" fill="#1a1a1a" font-style="italic">mesopelagic</text>
<rect x="683.9" y="1284.3" width="151.1" height="20.5" fill="#fff" stroke="#777777" stroke-width="1"/>
<text x="759.45" y="1299.81" font-size="14.6" text-anchor="middle" fill="#1a1a1a" font-style="italic">southern mesopelagics</text>
<line x1="681.2" y1="1306.1" x2="683.9" y2="1306.1" stroke="#333" stroke-width="1"/>
<text x="679.8" y="1312.71" font-size="17.2" text-anchor="end" fill="#3a3a3a">1.5</text>
<line x1="681.2" y1="1325.4" x2="683.9" y2="1325.4" stroke="#333" stroke-width="1"/>
<text x="679.8" y="1332.01" font-size="17.2" text-anchor="end" fill="#3a3a3a">1.0</text>
<line x1="681.2" y1="1344.7" x2="683.9" y2="1344.7" stroke="#333" stroke-width="1"/>
<text x="679.8" y="1351.31" font-size="17.2" text-anchor="end" fill="#3a3a3a">0.5</text>
<line x1="681.2" y1="1364" x2="683.9" y2="1364" stroke="#333" stroke-width="1"/>
<text x="679.8" y="1370.61" font-size="17.2" text-anchor="end" fill="#3a3a3a">0.0</text>
<line x1="681.2" y1="1383.3" x2="683.9" y2="1383.3" stroke="#333" stroke-width="1"/>
<text x="679.8" y="1389.91" font-size="17.2" text-anchor="end" fill="#3a3a3a">-0.5</text>
<line x1="681.2" y1="1402.6" x2="683.9" y2="1402.6" stroke="#333" stroke-width="1"/>
<text x="679.8" y="1409.21" font-size="17.2" text-anchor="end" fill="#3a3a3a">-1.0</text>
<line x1="681.2" y1="1421.9" x2="683.9" y2="1421.9" stroke="#333" stroke-width="1"/>
<text x="679.8" y="1428.51" font-size="17.2" text-anchor="end" fill="#3a3a3a">-1.5</text>
<rect x="124.4" y="1471.3" width="151.9" height="120.6" fill="#fff"/>
<line x1="124.4" y1="1541.5" x2="276.3" y2="1541.5" stroke="#ababab" stroke-width="1"/>
<line x1="269.5" y1="1471.3" x2="269.5" y2="1591.9" stroke="#999999" stroke-width="1"/>
<polyline points="228.16,1502.4 230.16,1554.02 232.17,1535.73 234.17,1576.07 235.92,1546.5 237.93,1518.44 239.93,1476.59 241.94,1567.3 243.94,1545.75 245.95,1573.82 247.95,1532.72 249.96,1494.13 251.96,1500.39 253.97,1525.96 255.97,1526.46 257.73,1586.6 259.73,1584.59 261.74,1581.09 263.74,1556.03 265.75,1541.99 269.75,1543" fill="none" stroke="#1a1a1a" stroke-width="0.9" stroke-linejoin="round"/>
<circle cx="228.16" cy="1502.4" r="1.95" fill="#0e780e"/>
<circle cx="230.16" cy="1554.02" r="1.95" fill="#0e780e"/>
<circle cx="232.17" cy="1535.73" r="1.95" fill="#0e780e"/>
<circle cx="234.17" cy="1576.07" r="1.95" fill="#0e780e"/>
<circle cx="235.92" cy="1546.5" r="1.95" fill="#0e780e"/>
<circle cx="237.93" cy="1518.44" r="1.95" fill="#0e780e"/>
<circle cx="239.93" cy="1476.59" r="1.95" fill="#0e780e"/>
<circle cx="241.94" cy="1567.3" r="1.95" fill="#0e780e"/>
<circle cx="243.94" cy="1545.75" r="1.95" fill="#0e780e"/>
<circle cx="245.95" cy="1573.82" r="1.95" fill="#0e780e"/>
<circle cx="247.95" cy="1532.72" r="1.95" fill="#0e780e"/>
<circle cx="249.96" cy="1494.13" r="1.95" fill="#0e780e"/>
<circle cx="251.96" cy="1500.39" r="1.95" fill="#0e780e"/>
<circle cx="253.97" cy="1525.96" r="1.95" fill="#0e780e"/>
<circle cx="255.97" cy="1526.46" r="1.95" fill="#0e780e"/>
<circle cx="257.73" cy="1586.6" r="1.95" fill="#0e780e"/>
<circle cx="259.73" cy="1584.59" r="1.95" fill="#0e780e"/>
<circle cx="261.74" cy="1581.09" r="1.95" fill="#0e780e"/>
<circle cx="263.74" cy="1556.03" r="1.95" fill="#0e780e"/>
<circle cx="265.75" cy="1541.99" r="1.95" fill="#0e780e"/>
<circle cx="269.75" cy="1543" r="1.95" fill="#0e780e"/>
<rect x="124.4" y="1471.3" width="151.9" height="120.6" fill="none" stroke="#777777" stroke-width="1"/>
<rect x="124.4" y="1429.9" width="151.9" height="20.7" fill="#fff" stroke="#777777" stroke-width="1"/>
<text x="200.35" y="1445.51" font-size="14.6" text-anchor="middle" fill="#1a1a1a" font-style="italic">pelagic</text>
<rect x="124.4" y="1450.6" width="151.9" height="20.7" fill="#fff" stroke="#777777" stroke-width="1"/>
<text x="200.35" y="1466.21" font-size="14.6" text-anchor="middle" fill="#1a1a1a" font-style="italic">Doryteuthis opalescens</text>
<line x1="121.7" y1="1501.9" x2="124.4" y2="1501.9" stroke="#333" stroke-width="1"/>
<text x="120.3" y="1508.51" font-size="17.2" text-anchor="end" fill="#3a3a3a">0.2</text>
<line x1="121.7" y1="1541" x2="124.4" y2="1541" stroke="#333" stroke-width="1"/>
<text x="120.3" y="1547.61" font-size="17.2" text-anchor="end" fill="#3a3a3a">0.0</text>
<line x1="121.7" y1="1580.1" x2="124.4" y2="1580.1" stroke="#333" stroke-width="1"/>
<text x="120.3" y="1586.71" font-size="17.2" text-anchor="end" fill="#3a3a3a">-0.2</text>
<rect x="315.9" y="1471.3" width="152.4" height="120.6" fill="#fff"/>
<line x1="315.9" y1="1541.5" x2="468.3" y2="1541.5" stroke="#ababab" stroke-width="1"/>
<line x1="461.5" y1="1471.3" x2="461.5" y2="1591.9" stroke="#999999" stroke-width="1"/>
<polyline points="322.18,1571.56 324.18,1576.07 326.19,1574.82 328.19,1573.82 330.2,1556.03 332.2,1560.29 334.21,1532.47 336.21,1521.7 338.22,1500.9 340.22,1505.16 342.22,1500.9 344.23,1490.12 346.23,1476.59 347.99,1483.86 349.99,1494.38 352,1489.37 357.76,1525.2 369.54,1572.32 375.55,1522.95 381.57,1506.66 385.58,1540.49 387.58,1525.96 389.59,1552.27 391.59,1525.2 393.35,1528.21 395.35,1539.99 397.36,1559.54 399.36,1509.67 401.37,1526.71 403.37,1546.75 405.38,1550.51 407.38,1542.49 409.38,1549.01 411.39,1547.26 413.39,1562.29 415.15,1545 417.15,1555.02 419.16,1550.26 421.16,1557.03 423.17,1547.26 425.17,1574.07 427.18,1560.04 429.18,1513.43 431.19,1550.51 432.94,1567.55 434.95,1571.06 436.95,1578.58 438.96,1586.35 440.96,1585.35 442.96,1585.1 444.97,1585.35 446.97,1545.5 448.98,1574.82 450.98,1554.02 452.99,1529.71 454.99,1524.2 457,1500.39 461.01,1489.12" fill="none" stroke="#1a1a1a" stroke-width="0.9" stroke-linejoin="round"/>
<circle cx="322.18" cy="1571.56" r="1.95" fill="#0e780e"/>
<circle cx="324.18" cy="1576.07" r="1.95" fill="#0e780e"/>
<circle cx="326.19" cy="1574.82" r="1.95" fill="#0e780e"/>
<circle cx="328.19" cy="1573.82" r="1.95" fill="#0e780e"/>
<circle cx="330.2" cy="1556.03" r="1.95" fill="#0e780e"/>
<circle cx="332.2" cy="1560.29" r="1.95" fill="#0e780e"/>
<circle cx="334.21" cy="1532.47" r="1.95" fill="#0e780e"/>
<circle cx="336.21" cy="1521.7" r="1.95" fill="#0e780e"/>
<circle cx="338.22" cy="1500.9" r="1.95" fill="#0e780e"/>
<circle cx="340.22" cy="1505.16" r="1.95" fill="#0e780e"/>
<circle cx="342.22" cy="1500.9" r="1.95" fill="#0e780e"/>
<circle cx="344.23" cy="1490.12" r="1.95" fill="#0e780e"/>
<circle cx="346.23" cy="1476.59" r="1.95" fill="#0e780e"/>
<circle cx="347.99" cy="1483.86" r="1.95" fill="#0e780e"/>
<circle cx="349.99" cy="1494.38" r="1.95" fill="#0e780e"/>
<circle cx="352" cy="1489.37" r="1.95" fill="#0e780e"/>
<circle cx="357.76" cy="1525.2" r="1.95" fill="#0e780e"/>
<circle cx="369.54" cy="1572.32" r="1.95" fill="#0e780e"/>
<circle cx="375.55" cy="1522.95" r="1.95" fill="#0e780e"/>
<circle cx="381.57" cy="1506.66" r="1.95" fill="#0e780e"/>
<circle cx="385.58" cy="1540.49" r="1.95" fill="#0e780e"/>
<circle cx="387.58" cy="1525.96" r="1.95" fill="#0e780e"/>
<circle cx="389.59" cy="1552.27" r="1.95" fill="#0e780e"/>
<circle cx="391.59" cy="1525.2" r="1.95" fill="#0e780e"/>
<circle cx="393.35" cy="1528.21" r="1.95" fill="#0e780e"/>
<circle cx="395.35" cy="1539.99" r="1.95" fill="#0e780e"/>
<circle cx="397.36" cy="1559.54" r="1.95" fill="#0e780e"/>
<circle cx="399.36" cy="1509.67" r="1.95" fill="#0e780e"/>
<circle cx="401.37" cy="1526.71" r="1.95" fill="#0e780e"/>
<circle cx="403.37" cy="1546.75" r="1.95" fill="#0e780e"/>
<circle cx="405.38" cy="1550.51" r="1.95" fill="#0e780e"/>
<circle cx="407.38" cy="1542.49" r="1.95" fill="#0e780e"/>
<circle cx="409.38" cy="1549.01" r="1.95" fill="#0e780e"/>
<circle cx="411.39" cy="1547.26" r="1.95" fill="#0e780e"/>
<circle cx="413.39" cy="1562.29" r="1.95" fill="#0e780e"/>
<circle cx="415.15" cy="1545" r="1.95" fill="#0e780e"/>
<circle cx="417.15" cy="1555.02" r="1.95" fill="#0e780e"/>
<circle cx="419.16" cy="1550.26" r="1.95" fill="#0e780e"/>
<circle cx="421.16" cy="1557.03" r="1.95" fill="#0e780e"/>
<circle cx="423.17" cy="1547.26" r="1.95" fill="#0e780e"/>
<circle cx="425.17" cy="1574.07" r="1.95" fill="#0e780e"/>
<circle cx="427.18" cy="1560.04" r="1.95" fill="#0e780e"/>
<circle cx="429.18" cy="1513.43" r="1.95" fill="#0e780e"/>
<circle cx="431.19" cy="1550.51" r="1.95" fill="#0e780e"/>
<circle cx="432.94" cy="1567.55" r="1.95" fill="#0e780e"/>
<circle cx="434.95" cy="1571.06" r="1.95" fill="#0e780e"/>
<circle cx="436.95" cy="1578.58" r="1.95" fill="#0e780e"/>
<circle cx="438.96" cy="1586.35" r="1.95" fill="#0e780e"/>
<circle cx="440.96" cy="1585.35" r="1.95" fill="#0e780e"/>
<circle cx="442.96" cy="1585.1" r="1.95" fill="#0e780e"/>
<circle cx="444.97" cy="1585.35" r="1.95" fill="#0e780e"/>
<circle cx="446.97" cy="1545.5" r="1.95" fill="#0e780e"/>
<circle cx="448.98" cy="1574.82" r="1.95" fill="#0e780e"/>
<circle cx="450.98" cy="1554.02" r="1.95" fill="#0e780e"/>
<circle cx="452.99" cy="1529.71" r="1.95" fill="#0e780e"/>
<circle cx="454.99" cy="1524.2" r="1.95" fill="#0e780e"/>
<circle cx="457" cy="1500.39" r="1.95" fill="#0e780e"/>
<circle cx="461.01" cy="1489.12" r="1.95" fill="#0e780e"/>
<rect x="315.9" y="1471.3" width="152.4" height="120.6" fill="none" stroke="#777777" stroke-width="1"/>
<rect x="315.9" y="1429.9" width="152.4" height="20.7" fill="#fff" stroke="#777777" stroke-width="1"/>
<text x="392.1" y="1445.51" font-size="14.6" text-anchor="middle" fill="#1a1a1a" font-style="italic">pelagic</text>
<rect x="315.9" y="1450.6" width="152.4" height="20.7" fill="#fff" stroke="#777777" stroke-width="1"/>
<text x="392.1" y="1466.21" font-size="14.6" text-anchor="middle" fill="#1a1a1a" font-style="italic">Engraulis mordax</text>
<line x1="313.2" y1="1502.9" x2="315.9" y2="1502.9" stroke="#333" stroke-width="1"/>
<text x="311.8" y="1509.51" font-size="17.2" text-anchor="end" fill="#3a3a3a">2</text>
<line x1="313.2" y1="1541" x2="315.9" y2="1541" stroke="#333" stroke-width="1"/>
<text x="311.8" y="1547.61" font-size="17.2" text-anchor="end" fill="#3a3a3a">0</text>
<line x1="313.2" y1="1579.1" x2="315.9" y2="1579.1" stroke="#333" stroke-width="1"/>
<text x="311.8" y="1585.71" font-size="17.2" text-anchor="end" fill="#3a3a3a">-2</text>
<rect x="492.6" y="1471.3" width="151.6" height="120.6" fill="#fff"/>
<line x1="492.6" y1="1547.5" x2="644.2" y2="1547.5" stroke="#ababab" stroke-width="1"/>
<line x1="638.5" y1="1471.3" x2="638.5" y2="1591.9" stroke="#999999" stroke-width="1"/>
<polyline points="499.15,1483.86 501.15,1509.42 503.16,1568.31 505.16,1545.25 507.17,1565.8 509.17,1566.55 511.17,1500.65 513.18,1490.87 515.18,1521.44 517.19,1504.4 519.19,1526.46 520.95,1517.94 522.95,1515.18 524.96,1521.44 526.96,1522.7 528.97,1476.59 534.98,1495.63 546.51,1586.6 552.52,1496.64 558.54,1509.67 562.55,1566.05 564.55,1559.79 566.56,1581.59 568.56,1578.33 570.32,1574.57 572.32,1584.59 574.33,1578.58 576.33,1498.89 578.33,1522.2 580.34,1570.81 582.34,1565.8 584.35,1534.48 586.35,1555.28 588.36,1553.02 590.11,1550.01 592.12,1565.55 594.12,1547.26 596.13,1530.97 598.13,1551.52 600.14,1528.21 602.14,1562.04 604.15,1544.25 606.15,1531.72 608.16,1555.53 610.16,1577.33 612.17,1565.8 614.17,1578.08 616.17,1582.59 618.18,1560.79 620.18,1564.3 622.19,1576.58 623.94,1585.85 625.95,1555.78 627.95,1581.84 629.96,1566.3 631.96,1570.06 633.97,1566.8 637.73,1574.32" fill="none" stroke="#1a1a1a" stroke-width="0.9" stroke-linejoin="round"/>
<circle cx="499.15" cy="1483.86" r="1.95" fill="#0e780e"/>
<circle cx="501.15" cy="1509.42" r="1.95" fill="#0e780e"/>
<circle cx="503.16" cy="1568.31" r="1.95" fill="#0e780e"/>
<circle cx="505.16" cy="1545.25" r="1.95" fill="#0e780e"/>
<circle cx="507.17" cy="1565.8" r="1.95" fill="#0e780e"/>
<circle cx="509.17" cy="1566.55" r="1.95" fill="#0e780e"/>
<circle cx="511.17" cy="1500.65" r="1.95" fill="#0e780e"/>
<circle cx="513.18" cy="1490.87" r="1.95" fill="#0e780e"/>
<circle cx="515.18" cy="1521.44" r="1.95" fill="#0e780e"/>
<circle cx="517.19" cy="1504.4" r="1.95" fill="#0e780e"/>
<circle cx="519.19" cy="1526.46" r="1.95" fill="#0e780e"/>
<circle cx="520.95" cy="1517.94" r="1.95" fill="#0e780e"/>
<circle cx="522.95" cy="1515.18" r="1.95" fill="#0e780e"/>
<circle cx="524.96" cy="1521.44" r="1.95" fill="#0e780e"/>
<circle cx="526.96" cy="1522.7" r="1.95" fill="#0e780e"/>
<circle cx="528.97" cy="1476.59" r="1.95" fill="#0e780e"/>
<circle cx="534.98" cy="1495.63" r="1.95" fill="#0e780e"/>
<circle cx="546.51" cy="1586.6" r="1.95" fill="#0e780e"/>
<circle cx="552.52" cy="1496.64" r="1.95" fill="#0e780e"/>
<circle cx="558.54" cy="1509.67" r="1.95" fill="#0e780e"/>
<circle cx="562.55" cy="1566.05" r="1.95" fill="#0e780e"/>
<circle cx="564.55" cy="1559.79" r="1.95" fill="#0e780e"/>
<circle cx="566.56" cy="1581.59" r="1.95" fill="#0e780e"/>
<circle cx="568.56" cy="1578.33" r="1.95" fill="#0e780e"/>
<circle cx="570.32" cy="1574.57" r="1.95" fill="#0e780e"/>
<circle cx="572.32" cy="1584.59" r="1.95" fill="#0e780e"/>
<circle cx="574.33" cy="1578.58" r="1.95" fill="#0e780e"/>
<circle cx="576.33" cy="1498.89" r="1.95" fill="#0e780e"/>
<circle cx="578.33" cy="1522.2" r="1.95" fill="#0e780e"/>
<circle cx="580.34" cy="1570.81" r="1.95" fill="#0e780e"/>
<circle cx="582.34" cy="1565.8" r="1.95" fill="#0e780e"/>
<circle cx="584.35" cy="1534.48" r="1.95" fill="#0e780e"/>
<circle cx="586.35" cy="1555.28" r="1.95" fill="#0e780e"/>
<circle cx="588.36" cy="1553.02" r="1.95" fill="#0e780e"/>
<circle cx="590.11" cy="1550.01" r="1.95" fill="#0e780e"/>
<circle cx="592.12" cy="1565.55" r="1.95" fill="#0e780e"/>
<circle cx="594.12" cy="1547.26" r="1.95" fill="#0e780e"/>
<circle cx="596.13" cy="1530.97" r="1.95" fill="#0e780e"/>
<circle cx="598.13" cy="1551.52" r="1.95" fill="#0e780e"/>
<circle cx="600.14" cy="1528.21" r="1.95" fill="#0e780e"/>
<circle cx="602.14" cy="1562.04" r="1.95" fill="#0e780e"/>
<circle cx="604.15" cy="1544.25" r="1.95" fill="#0e780e"/>
<circle cx="606.15" cy="1531.72" r="1.95" fill="#0e780e"/>
<circle cx="608.16" cy="1555.53" r="1.95" fill="#0e780e"/>
<circle cx="610.16" cy="1577.33" r="1.95" fill="#0e780e"/>
<circle cx="612.17" cy="1565.8" r="1.95" fill="#0e780e"/>
<circle cx="614.17" cy="1578.08" r="1.95" fill="#0e780e"/>
<circle cx="616.17" cy="1582.59" r="1.95" fill="#0e780e"/>
<circle cx="618.18" cy="1560.79" r="1.95" fill="#0e780e"/>
<circle cx="620.18" cy="1564.3" r="1.95" fill="#0e780e"/>
<circle cx="622.19" cy="1576.58" r="1.95" fill="#0e780e"/>
<circle cx="623.94" cy="1585.85" r="1.95" fill="#0e780e"/>
<circle cx="625.95" cy="1555.78" r="1.95" fill="#0e780e"/>
<circle cx="627.95" cy="1581.84" r="1.95" fill="#0e780e"/>
<circle cx="629.96" cy="1566.3" r="1.95" fill="#0e780e"/>
<circle cx="631.96" cy="1570.06" r="1.95" fill="#0e780e"/>
<circle cx="633.97" cy="1566.8" r="1.95" fill="#0e780e"/>
<circle cx="637.73" cy="1574.32" r="1.95" fill="#0e780e"/>
<rect x="492.6" y="1471.3" width="151.6" height="120.6" fill="none" stroke="#777777" stroke-width="1"/>
<rect x="492.6" y="1429.9" width="151.6" height="20.7" fill="#fff" stroke="#777777" stroke-width="1"/>
<text x="568.4" y="1445.51" font-size="14.6" text-anchor="middle" fill="#1a1a1a" font-style="italic">pelagic</text>
<rect x="492.6" y="1450.6" width="151.6" height="20.7" fill="#fff" stroke="#777777" stroke-width="1"/>
<text x="568.4" y="1466.21" font-size="14.6" text-anchor="middle" fill="#1a1a1a" font-style="italic">Merluccius productus</text>
<line x1="489.9" y1="1490.9" x2="492.6" y2="1490.9" stroke="#333" stroke-width="1"/>
<text x="488.5" y="1497.51" font-size="17.2" text-anchor="end" fill="#3a3a3a">2</text>
<line x1="489.9" y1="1518.9" x2="492.6" y2="1518.9" stroke="#333" stroke-width="1"/>
<text x="488.5" y="1525.51" font-size="17.2" text-anchor="end" fill="#3a3a3a">1</text>
<line x1="489.9" y1="1547" x2="492.6" y2="1547" stroke="#333" stroke-width="1"/>
<text x="488.5" y="1553.61" font-size="17.2" text-anchor="end" fill="#3a3a3a">0</text>
<line x1="489.9" y1="1575.1" x2="492.6" y2="1575.1" stroke="#333" stroke-width="1"/>
<text x="488.5" y="1581.71" font-size="17.2" text-anchor="end" fill="#3a3a3a">-1</text>
<line x1="499.4" y1="1591.9" x2="499.4" y2="1594.6" stroke="#333" stroke-width="1"/>
<text transform="translate(508.59,1597.1) rotate(-90)" font-size="12" text-anchor="end" fill="#2e2e2e">1951</text>
<line x1="509.3" y1="1591.9" x2="509.3" y2="1594.6" stroke="#333" stroke-width="1"/>
<text transform="translate(518.49,1597.1) rotate(-90)" font-size="12" text-anchor="end" fill="#2e2e2e">1956</text>
<line x1="519.2" y1="1591.9" x2="519.2" y2="1594.6" stroke="#333" stroke-width="1"/>
<text transform="translate(528.39,1597.1) rotate(-90)" font-size="12" text-anchor="end" fill="#2e2e2e">1961</text>
<line x1="529.1" y1="1591.9" x2="529.1" y2="1594.6" stroke="#333" stroke-width="1"/>
<text transform="translate(538.29,1597.1) rotate(-90)" font-size="12" text-anchor="end" fill="#2e2e2e">1966</text>
<line x1="539" y1="1591.9" x2="539" y2="1594.6" stroke="#333" stroke-width="1"/>
<text transform="translate(548.19,1597.1) rotate(-90)" font-size="12" text-anchor="end" fill="#2e2e2e">1971</text>
<line x1="548.9" y1="1591.9" x2="548.9" y2="1594.6" stroke="#333" stroke-width="1"/>
<text transform="translate(558.09,1597.1) rotate(-90)" font-size="12" text-anchor="end" fill="#2e2e2e">1976</text>
<line x1="558.8" y1="1591.9" x2="558.8" y2="1594.6" stroke="#333" stroke-width="1"/>
<text transform="translate(567.99,1597.1) rotate(-90)" font-size="12" text-anchor="end" fill="#2e2e2e">1981</text>
<line x1="568.7" y1="1591.9" x2="568.7" y2="1594.6" stroke="#333" stroke-width="1"/>
<text transform="translate(577.89,1597.1) rotate(-90)" font-size="12" text-anchor="end" fill="#2e2e2e">1986</text>
<line x1="578.6" y1="1591.9" x2="578.6" y2="1594.6" stroke="#333" stroke-width="1"/>
<text transform="translate(587.79,1597.1) rotate(-90)" font-size="12" text-anchor="end" fill="#2e2e2e">1991</text>
<line x1="588.5" y1="1591.9" x2="588.5" y2="1594.6" stroke="#333" stroke-width="1"/>
<text transform="translate(597.69,1597.1) rotate(-90)" font-size="12" text-anchor="end" fill="#2e2e2e">1996</text>
<line x1="598.4" y1="1591.9" x2="598.4" y2="1594.6" stroke="#333" stroke-width="1"/>
<text transform="translate(607.59,1597.1) rotate(-90)" font-size="12" text-anchor="end" fill="#2e2e2e">2001</text>
<line x1="608.3" y1="1591.9" x2="608.3" y2="1594.6" stroke="#333" stroke-width="1"/>
<text transform="translate(617.49,1597.1) rotate(-90)" font-size="12" text-anchor="end" fill="#2e2e2e">2006</text>
<line x1="618.2" y1="1591.9" x2="618.2" y2="1594.6" stroke="#333" stroke-width="1"/>
<text transform="translate(627.39,1597.1) rotate(-90)" font-size="12" text-anchor="end" fill="#2e2e2e">2011</text>
<line x1="628.1" y1="1591.9" x2="628.1" y2="1594.6" stroke="#333" stroke-width="1"/>
<text transform="translate(637.29,1597.1) rotate(-90)" font-size="12" text-anchor="end" fill="#2e2e2e">2016</text>
<line x1="638" y1="1591.9" x2="638" y2="1594.6" stroke="#333" stroke-width="1"/>
<text transform="translate(647.19,1597.1) rotate(-90)" font-size="12" text-anchor="end" fill="#2e2e2e">2021</text>
<rect x="683.9" y="1471.3" width="151.1" height="120.6" fill="#fff"/>
<line x1="683.9" y1="1559.5" x2="835" y2="1559.5" stroke="#ababab" stroke-width="1"/>
<line x1="829.5" y1="1471.3" x2="829.5" y2="1591.9" stroke="#999999" stroke-width="1"/>
<polyline points="690.17,1573.32 691.93,1584.85 693.93,1586.6 695.94,1581.59 697.94,1580.84 699.95,1586.6 701.95,1572.57 703.96,1578.33 705.96,1574.07 707.96,1583.34 709.97,1580.59 711.97,1581.59 713.98,1585.35 715.73,1586.6 717.74,1586.1 719.74,1586.35 725.76,1586.35 737.79,1586.35 743.55,1584.09 749.56,1584.09 753.57,1586.6 755.58,1586.6 757.58,1580.84 759.59,1572.32 761.59,1578.33 763.35,1567.81 765.35,1564.8 767.36,1580.84 769.36,1523.95 771.37,1570.81 773.37,1557.03 775.38,1531.47 777.38,1526.46 779.38,1519.19 781.39,1476.59 783.39,1493.13 785.4,1497.89 787.15,1517.94 789.16,1515.43 791.16,1506.91 793.17,1504.91 795.17,1566.05 797.18,1493.63 799.18,1533.47 801.19,1511.67 803.19,1515.18 805.2,1513.93 807.2,1566.8 808.96,1524.95 810.96,1585.1 812.96,1570.56 814.97,1567.3 816.97,1583.59 818.98,1586.6 820.98,1572.32 822.99,1570.31 824.74,1577.58 828.75,1576.33" fill="none" stroke="#1a1a1a" stroke-width="0.9" stroke-linejoin="round"/>
<circle cx="690.17" cy="1573.32" r="1.95" fill="#0e780e"/>
<circle cx="691.93" cy="1584.85" r="1.95" fill="#0e780e"/>
<circle cx="693.93" cy="1586.6" r="1.95" fill="#0e780e"/>
<circle cx="695.94" cy="1581.59" r="1.95" fill="#0e780e"/>
<circle cx="697.94" cy="1580.84" r="1.95" fill="#0e780e"/>
<circle cx="699.95" cy="1586.6" r="1.95" fill="#0e780e"/>
<circle cx="701.95" cy="1572.57" r="1.95" fill="#0e780e"/>
<circle cx="703.96" cy="1578.33" r="1.95" fill="#0e780e"/>
<circle cx="705.96" cy="1574.07" r="1.95" fill="#0e780e"/>
<circle cx="707.96" cy="1583.34" r="1.95" fill="#0e780e"/>
<circle cx="709.97" cy="1580.59" r="1.95" fill="#0e780e"/>
<circle cx="711.97" cy="1581.59" r="1.95" fill="#0e780e"/>
<circle cx="713.98" cy="1585.35" r="1.95" fill="#0e780e"/>
<circle cx="715.73" cy="1586.6" r="1.95" fill="#0e780e"/>
<circle cx="717.74" cy="1586.1" r="1.95" fill="#0e780e"/>
<circle cx="719.74" cy="1586.35" r="1.95" fill="#0e780e"/>
<circle cx="725.76" cy="1586.35" r="1.95" fill="#0e780e"/>
<circle cx="737.79" cy="1586.35" r="1.95" fill="#0e780e"/>
<circle cx="743.55" cy="1584.09" r="1.95" fill="#0e780e"/>
<circle cx="749.56" cy="1584.09" r="1.95" fill="#0e780e"/>
<circle cx="753.57" cy="1586.6" r="1.95" fill="#0e780e"/>
<circle cx="755.58" cy="1586.6" r="1.95" fill="#0e780e"/>
<circle cx="757.58" cy="1580.84" r="1.95" fill="#0e780e"/>
<circle cx="759.59" cy="1572.32" r="1.95" fill="#0e780e"/>
<circle cx="761.59" cy="1578.33" r="1.95" fill="#0e780e"/>
<circle cx="763.35" cy="1567.81" r="1.95" fill="#0e780e"/>
<circle cx="765.35" cy="1564.8" r="1.95" fill="#0e780e"/>
<circle cx="767.36" cy="1580.84" r="1.95" fill="#0e780e"/>
<circle cx="769.36" cy="1523.95" r="1.95" fill="#0e780e"/>
<circle cx="771.37" cy="1570.81" r="1.95" fill="#0e780e"/>
<circle cx="773.37" cy="1557.03" r="1.95" fill="#0e780e"/>
<circle cx="775.38" cy="1531.47" r="1.95" fill="#0e780e"/>
<circle cx="777.38" cy="1526.46" r="1.95" fill="#0e780e"/>
<circle cx="779.38" cy="1519.19" r="1.95" fill="#0e780e"/>
<circle cx="781.39" cy="1476.59" r="1.95" fill="#0e780e"/>
<circle cx="783.39" cy="1493.13" r="1.95" fill="#0e780e"/>
<circle cx="785.4" cy="1497.89" r="1.95" fill="#0e780e"/>
<circle cx="787.15" cy="1517.94" r="1.95" fill="#0e780e"/>
<circle cx="789.16" cy="1515.43" r="1.95" fill="#0e780e"/>
<circle cx="791.16" cy="1506.91" r="1.95" fill="#0e780e"/>
<circle cx="793.17" cy="1504.91" r="1.95" fill="#0e780e"/>
<circle cx="795.17" cy="1566.05" r="1.95" fill="#0e780e"/>
<circle cx="797.18" cy="1493.63" r="1.95" fill="#0e780e"/>
<circle cx="799.18" cy="1533.47" r="1.95" fill="#0e780e"/>
<circle cx="801.19" cy="1511.67" r="1.95" fill="#0e780e"/>
<circle cx="803.19" cy="1515.18" r="1.95" fill="#0e780e"/>
<circle cx="805.2" cy="1513.93" r="1.95" fill="#0e780e"/>
<circle cx="807.2" cy="1566.8" r="1.95" fill="#0e780e"/>
<circle cx="808.96" cy="1524.95" r="1.95" fill="#0e780e"/>
<circle cx="810.96" cy="1585.1" r="1.95" fill="#0e780e"/>
<circle cx="812.96" cy="1570.56" r="1.95" fill="#0e780e"/>
<circle cx="814.97" cy="1567.3" r="1.95" fill="#0e780e"/>
<circle cx="816.97" cy="1583.59" r="1.95" fill="#0e780e"/>
<circle cx="818.98" cy="1586.6" r="1.95" fill="#0e780e"/>
<circle cx="820.98" cy="1572.32" r="1.95" fill="#0e780e"/>
<circle cx="822.99" cy="1570.31" r="1.95" fill="#0e780e"/>
<circle cx="824.74" cy="1577.58" r="1.95" fill="#0e780e"/>
<circle cx="828.75" cy="1576.33" r="1.95" fill="#0e780e"/>
<rect x="683.9" y="1471.3" width="151.1" height="120.6" fill="none" stroke="#777777" stroke-width="1"/>
<rect x="683.9" y="1429.9" width="151.1" height="20.7" fill="#fff" stroke="#777777" stroke-width="1"/>
<text x="759.45" y="1445.51" font-size="14.6" text-anchor="middle" fill="#1a1a1a" font-style="italic">pelagic</text>
<rect x="683.9" y="1450.6" width="151.1" height="20.7" fill="#fff" stroke="#777777" stroke-width="1"/>
<text x="759.45" y="1466.21" font-size="14.6" text-anchor="middle" fill="#1a1a1a" font-style="italic">Sardinops sagax</text>
<line x1="681.2" y1="1491.9" x2="683.9" y2="1491.9" stroke="#333" stroke-width="1"/>
<text x="679.8" y="1498.51" font-size="17.2" text-anchor="end" fill="#3a3a3a">2</text>
<line x1="681.2" y1="1525.5" x2="683.9" y2="1525.5" stroke="#333" stroke-width="1"/>
<text x="679.8" y="1532.11" font-size="17.2" text-anchor="end" fill="#3a3a3a">1</text>
<line x1="681.2" y1="1559" x2="683.9" y2="1559" stroke="#333" stroke-width="1"/>
<text x="679.8" y="1565.61" font-size="17.2" text-anchor="end" fill="#3a3a3a">0</text>
<line x1="690.7" y1="1591.9" x2="690.7" y2="1594.6" stroke="#333" stroke-width="1"/>
<text transform="translate(699.89,1597.1) rotate(-90)" font-size="12" text-anchor="end" fill="#2e2e2e">1951</text>
<line x1="700.6" y1="1591.9" x2="700.6" y2="1594.6" stroke="#333" stroke-width="1"/>
<text transform="translate(709.79,1597.1) rotate(-90)" font-size="12" text-anchor="end" fill="#2e2e2e">1956</text>
<line x1="710.5" y1="1591.9" x2="710.5" y2="1594.6" stroke="#333" stroke-width="1"/>
<text transform="translate(719.69,1597.1) rotate(-90)" font-size="12" text-anchor="end" fill="#2e2e2e">1961</text>
<line x1="720.4" y1="1591.9" x2="720.4" y2="1594.6" stroke="#333" stroke-width="1"/>
<text transform="translate(729.59,1597.1) rotate(-90)" font-size="12" text-anchor="end" fill="#2e2e2e">1966</text>
<line x1="730.3" y1="1591.9" x2="730.3" y2="1594.6" stroke="#333" stroke-width="1"/>
<text transform="translate(739.49,1597.1) rotate(-90)" font-size="12" text-anchor="end" fill="#2e2e2e">1971</text>
<line x1="740.2" y1="1591.9" x2="740.2" y2="1594.6" stroke="#333" stroke-width="1"/>
<text transform="translate(749.39,1597.1) rotate(-90)" font-size="12" text-anchor="end" fill="#2e2e2e">1976</text>
<line x1="750.1" y1="1591.9" x2="750.1" y2="1594.6" stroke="#333" stroke-width="1"/>
<text transform="translate(759.29,1597.1) rotate(-90)" font-size="12" text-anchor="end" fill="#2e2e2e">1981</text>
<line x1="760" y1="1591.9" x2="760" y2="1594.6" stroke="#333" stroke-width="1"/>
<text transform="translate(769.19,1597.1) rotate(-90)" font-size="12" text-anchor="end" fill="#2e2e2e">1986</text>
<line x1="769.9" y1="1591.9" x2="769.9" y2="1594.6" stroke="#333" stroke-width="1"/>
<text transform="translate(779.09,1597.1) rotate(-90)" font-size="12" text-anchor="end" fill="#2e2e2e">1991</text>
<line x1="779.8" y1="1591.9" x2="779.8" y2="1594.6" stroke="#333" stroke-width="1"/>
<text transform="translate(788.99,1597.1) rotate(-90)" font-size="12" text-anchor="end" fill="#2e2e2e">1996</text>
<line x1="789.7" y1="1591.9" x2="789.7" y2="1594.6" stroke="#333" stroke-width="1"/>
<text transform="translate(798.89,1597.1) rotate(-90)" font-size="12" text-anchor="end" fill="#2e2e2e">2001</text>
<line x1="799.6" y1="1591.9" x2="799.6" y2="1594.6" stroke="#333" stroke-width="1"/>
<text transform="translate(808.79,1597.1) rotate(-90)" font-size="12" text-anchor="end" fill="#2e2e2e">2006</text>
<line x1="809.5" y1="1591.9" x2="809.5" y2="1594.6" stroke="#333" stroke-width="1"/>
<text transform="translate(818.69,1597.1) rotate(-90)" font-size="12" text-anchor="end" fill="#2e2e2e">2011</text>
<line x1="819.4" y1="1591.9" x2="819.4" y2="1594.6" stroke="#333" stroke-width="1"/>
<text transform="translate(828.59,1597.1) rotate(-90)" font-size="12" text-anchor="end" fill="#2e2e2e">2016</text>
<line x1="829.3" y1="1591.9" x2="829.3" y2="1594.6" stroke="#333" stroke-width="1"/>
<text transform="translate(838.49,1597.1) rotate(-90)" font-size="12" text-anchor="end" fill="#2e2e2e">2021</text>
<rect x="124.4" y="1638.1" width="151.9" height="119.8" fill="#fff"/>
<line x1="124.4" y1="1735.5" x2="276.3" y2="1735.5" stroke="#ababab" stroke-width="1"/>
<line x1="269.5" y1="1638.1" x2="269.5" y2="1757.9" stroke="#999999" stroke-width="1"/>
<polyline points="131.17,1741.06 133.18,1748.08 135.18,1752.84 137.19,1752.84 139.19,1752.84 141.2,1752.84 143.2,1752.84 145.21,1748.08 147.21,1729.79 149.22,1752.84 151.22,1748.08 153.23,1745.32 155.23,1752.84 157.24,1752.84 159.24,1752.84 161.25,1752.84 167.01,1752.84 179.04,1752.84 185.05,1752.84 190.57,1690.69 194.58,1752.84 196.58,1752.84 198.59,1718.01 200.59,1643.33 202.59,1654.36 204.6,1655.36 206.6,1716.5 208.61,1752.84 210.61,1720.26 212.62,1698.96 214.37,1732.29 216.38,1749.58 218.38,1715 220.39,1705.98 222.39,1709.24 224.4,1727.03 226.4,1752.84 228.41,1752.84 230.16,1743.07 232.17,1752.84 234.17,1747.08 236.17,1743.57 237.68,1715.25 240.18,1748.08 242.19,1752.84 244.19,1752.84 246.2,1752.84 248.2,1734.05 250.21,1749.58 252.21,1752.84 254.22,1752.84 256.22,1752.84 257.73,1662.63 259.73,1723.27 261.74,1752.84 263.74,1740.31 265.75,1747.83 269.75,1744.32" fill="none" stroke="#1a1a1a" stroke-width="0.9" stroke-linejoin="round"/>
<circle cx="131.17" cy="1741.06" r="1.95" fill="#0e780e"/>
<circle cx="133.18" cy="1748.08" r="1.95" fill="#0e780e"/>
<circle cx="135.18" cy="1752.84" r="1.95" fill="#0e780e"/>
<circle cx="137.19" cy="1752.84" r="1.95" fill="#0e780e"/>
<circle cx="139.19" cy="1752.84" r="1.95" fill="#0e780e"/>
<circle cx="141.2" cy="1752.84" r="1.95" fill="#0e780e"/>
<circle cx="143.2" cy="1752.84" r="1.95" fill="#0e780e"/>
<circle cx="145.21" cy="1748.08" r="1.95" fill="#0e780e"/>
<circle cx="147.21" cy="1729.79" r="1.95" fill="#0e780e"/>
<circle cx="149.22" cy="1752.84" r="1.95" fill="#0e780e"/>
<circle cx="151.22" cy="1748.08" r="1.95" fill="#0e780e"/>
<circle cx="153.23" cy="1745.32" r="1.95" fill="#0e780e"/>
<circle cx="155.23" cy="1752.84" r="1.95" fill="#0e780e"/>
<circle cx="157.24" cy="1752.84" r="1.95" fill="#0e780e"/>
<circle cx="159.24" cy="1752.84" r="1.95" fill="#0e780e"/>
<circle cx="161.25" cy="1752.84" r="1.95" fill="#0e780e"/>
<circle cx="167.01" cy="1752.84" r="1.95" fill="#0e780e"/>
<circle cx="179.04" cy="1752.84" r="1.95" fill="#0e780e"/>
<circle cx="185.05" cy="1752.84" r="1.95" fill="#0e780e"/>
<circle cx="190.57" cy="1690.69" r="1.95" fill="#0e780e"/>
<circle cx="194.58" cy="1752.84" r="1.95" fill="#0e780e"/>
<circle cx="196.58" cy="1752.84" r="1.95" fill="#0e780e"/>
<circle cx="198.59" cy="1718.01" r="1.95" fill="#0e780e"/>
<circle cx="200.59" cy="1643.33" r="1.95" fill="#0e780e"/>
<circle cx="202.59" cy="1654.36" r="1.95" fill="#0e780e"/>
<circle cx="204.6" cy="1655.36" r="1.95" fill="#0e780e"/>
<circle cx="206.6" cy="1716.5" r="1.95" fill="#0e780e"/>
<circle cx="208.61" cy="1752.84" r="1.95" fill="#0e780e"/>
<circle cx="210.61" cy="1720.26" r="1.95" fill="#0e780e"/>
<circle cx="212.62" cy="1698.96" r="1.95" fill="#0e780e"/>
<circle cx="214.37" cy="1732.29" r="1.95" fill="#0e780e"/>
<circle cx="216.38" cy="1749.58" r="1.95" fill="#0e780e"/>
<circle cx="218.38" cy="1715" r="1.95" fill="#0e780e"/>
<circle cx="220.39" cy="1705.98" r="1.95" fill="#0e780e"/>
<circle cx="222.39" cy="1709.24" r="1.95" fill="#0e780e"/>
<circle cx="224.4" cy="1727.03" r="1.95" fill="#0e780e"/>
<circle cx="226.4" cy="1752.84" r="1.95" fill="#0e780e"/>
<circle cx="228.41" cy="1752.84" r="1.95" fill="#0e780e"/>
<circle cx="230.16" cy="1743.07" r="1.95" fill="#0e780e"/>
<circle cx="232.17" cy="1752.84" r="1.95" fill="#0e780e"/>
<circle cx="234.17" cy="1747.08" r="1.95" fill="#0e780e"/>
<circle cx="236.17" cy="1743.57" r="1.95" fill="#0e780e"/>
<circle cx="237.68" cy="1715.25" r="1.95" fill="#0e780e"/>
<circle cx="240.18" cy="1748.08" r="1.95" fill="#0e780e"/>
<circle cx="242.19" cy="1752.84" r="1.95" fill="#0e780e"/>
<circle cx="244.19" cy="1752.84" r="1.95" fill="#0e780e"/>
<circle cx="246.2" cy="1752.84" r="1.95" fill="#0e780e"/>
<circle cx="248.2" cy="1734.05" r="1.95" fill="#0e780e"/>
<circle cx="250.21" cy="1749.58" r="1.95" fill="#0e780e"/>
<circle cx="252.21" cy="1752.84" r="1.95" fill="#0e780e"/>
<circle cx="254.22" cy="1752.84" r="1.95" fill="#0e780e"/>
<circle cx="256.22" cy="1752.84" r="1.95" fill="#0e780e"/>
<circle cx="257.73" cy="1662.63" r="1.95" fill="#0e780e"/>
<circle cx="259.73" cy="1723.27" r="1.95" fill="#0e780e"/>
<circle cx="261.74" cy="1752.84" r="1.95" fill="#0e780e"/>
<circle cx="263.74" cy="1740.31" r="1.95" fill="#0e780e"/>
<circle cx="265.75" cy="1747.83" r="1.95" fill="#0e780e"/>
<circle cx="269.75" cy="1744.32" r="1.95" fill="#0e780e"/>
<rect x="124.4" y="1638.1" width="151.9" height="119.8" fill="none" stroke="#777777" stroke-width="1"/>
<rect x="124.4" y="1597" width="151.9" height="20.5" fill="#fff" stroke="#777777" stroke-width="1"/>
<text x="200.35" y="1612.51" font-size="14.6" text-anchor="middle" fill="#1a1a1a" font-style="italic">pelagic</text>
<rect x="124.4" y="1617.5" width="151.9" height="20.6" fill="#fff" stroke="#777777" stroke-width="1"/>
<text x="200.35" y="1633.06" font-size="14.6" text-anchor="middle" fill="#1a1a1a" font-style="italic">Scomber japonicus</text>
<line x1="121.7" y1="1639.6" x2="124.4" y2="1639.6" stroke="#333" stroke-width="1"/>
<text x="120.3" y="1646.21" font-size="17.2" text-anchor="end" fill="#3a3a3a">0.8</text>
<line x1="121.7" y1="1663.6" x2="124.4" y2="1663.6" stroke="#333" stroke-width="1"/>
<text x="120.3" y="1670.21" font-size="17.2" text-anchor="end" fill="#3a3a3a">0.6</text>
<line x1="121.7" y1="1687.7" x2="124.4" y2="1687.7" stroke="#333" stroke-width="1"/>
<text x="120.3" y="1694.31" font-size="17.2" text-anchor="end" fill="#3a3a3a">0.4</text>
<line x1="121.7" y1="1711.7" x2="124.4" y2="1711.7" stroke="#333" stroke-width="1"/>
<text x="120.3" y="1718.31" font-size="17.2" text-anchor="end" fill="#3a3a3a">0.2</text>
<line x1="121.7" y1="1735.8" x2="124.4" y2="1735.8" stroke="#333" stroke-width="1"/>
<text x="120.3" y="1742.41" font-size="17.2" text-anchor="end" fill="#3a3a3a">0.0</text>
<line x1="131.2" y1="1757.9" x2="131.2" y2="1760.6" stroke="#333" stroke-width="1"/>
<text transform="translate(140.39,1763.1) rotate(-90)" font-size="12" text-anchor="end" fill="#2e2e2e">1951</text>
<line x1="141.1" y1="1757.9" x2="141.1" y2="1760.6" stroke="#333" stroke-width="1"/>
<text transform="translate(150.29,1763.1) rotate(-90)" font-size="12" text-anchor="end" fill="#2e2e2e">1956</text>
<line x1="151" y1="1757.9" x2="151" y2="1760.6" stroke="#333" stroke-width="1"/>
<text transform="translate(160.19,1763.1) rotate(-90)" font-size="12" text-anchor="end" fill="#2e2e2e">1961</text>
<line x1="160.9" y1="1757.9" x2="160.9" y2="1760.6" stroke="#333" stroke-width="1"/>
<text transform="translate(170.09,1763.1) rotate(-90)" font-size="12" text-anchor="end" fill="#2e2e2e">1966</text>
<line x1="170.8" y1="1757.9" x2="170.8" y2="1760.6" stroke="#333" stroke-width="1"/>
<text transform="translate(179.99,1763.1) rotate(-90)" font-size="12" text-anchor="end" fill="#2e2e2e">1971</text>
<line x1="180.7" y1="1757.9" x2="180.7" y2="1760.6" stroke="#333" stroke-width="1"/>
<text transform="translate(189.89,1763.1) rotate(-90)" font-size="12" text-anchor="end" fill="#2e2e2e">1976</text>
<line x1="190.6" y1="1757.9" x2="190.6" y2="1760.6" stroke="#333" stroke-width="1"/>
<text transform="translate(199.79,1763.1) rotate(-90)" font-size="12" text-anchor="end" fill="#2e2e2e">1981</text>
<line x1="200.5" y1="1757.9" x2="200.5" y2="1760.6" stroke="#333" stroke-width="1"/>
<text transform="translate(209.69,1763.1) rotate(-90)" font-size="12" text-anchor="end" fill="#2e2e2e">1986</text>
<line x1="210.4" y1="1757.9" x2="210.4" y2="1760.6" stroke="#333" stroke-width="1"/>
<text transform="translate(219.59,1763.1) rotate(-90)" font-size="12" text-anchor="end" fill="#2e2e2e">1991</text>
<line x1="220.3" y1="1757.9" x2="220.3" y2="1760.6" stroke="#333" stroke-width="1"/>
<text transform="translate(229.49,1763.1) rotate(-90)" font-size="12" text-anchor="end" fill="#2e2e2e">1996</text>
<line x1="230.2" y1="1757.9" x2="230.2" y2="1760.6" stroke="#333" stroke-width="1"/>
<text transform="translate(239.39,1763.1) rotate(-90)" font-size="12" text-anchor="end" fill="#2e2e2e">2001</text>
<line x1="240.1" y1="1757.9" x2="240.1" y2="1760.6" stroke="#333" stroke-width="1"/>
<text transform="translate(249.29,1763.1) rotate(-90)" font-size="12" text-anchor="end" fill="#2e2e2e">2006</text>
<line x1="250" y1="1757.9" x2="250" y2="1760.6" stroke="#333" stroke-width="1"/>
<text transform="translate(259.19,1763.1) rotate(-90)" font-size="12" text-anchor="end" fill="#2e2e2e">2011</text>
<line x1="259.9" y1="1757.9" x2="259.9" y2="1760.6" stroke="#333" stroke-width="1"/>
<text transform="translate(269.09,1763.1) rotate(-90)" font-size="12" text-anchor="end" fill="#2e2e2e">2016</text>
<line x1="269.8" y1="1757.9" x2="269.8" y2="1760.6" stroke="#333" stroke-width="1"/>
<text transform="translate(278.99,1763.1) rotate(-90)" font-size="12" text-anchor="end" fill="#2e2e2e">2021</text>
<rect x="315.9" y="1638.1" width="152.4" height="119.8" fill="#fff"/>
<line x1="315.9" y1="1728.5" x2="468.3" y2="1728.5" stroke="#ababab" stroke-width="1"/>
<line x1="461.5" y1="1638.1" x2="461.5" y2="1757.9" stroke="#999999" stroke-width="1"/>
<polyline points="322.18,1643.33 324.18,1709.49 326.19,1751.84 328.19,1723.52 330.2,1739.81 332.2,1745.32 334.21,1734.05 336.21,1714.75 338.22,1711.74 340.22,1732.29 342.22,1731.04 344.23,1723.27 346.23,1731.04 347.99,1734.8 349.99,1718.01 352,1741.56 357.76,1728.28 369.54,1753.09 375.55,1706.23 381.57,1719.76 385.58,1737.05 387.58,1738.31 389.59,1733.29 391.59,1714.75 393.35,1719.26 395.35,1735.55 397.36,1730.29 399.36,1753.34 401.37,1751.09 403.37,1726.78 405.38,1731.54 407.38,1715.25 409.38,1709.49 411.39,1704.48 413.39,1718.26 415.15,1717.76 417.15,1728.78 419.16,1730.29 421.16,1736.55 423.17,1722.77 425.17,1734.55 427.18,1730.79 429.18,1708.99 431.19,1740.56 432.94,1736.55 434.95,1746.58 436.95,1751.59 438.96,1743.32 440.96,1723.02 442.96,1752.84 444.97,1751.84 446.97,1709.49 448.98,1711.74 450.98,1720.26 452.99,1728.28 454.99,1734.55 457,1738.56 461.01,1744.32" fill="none" stroke="#1a1a1a" stroke-width="0.9" stroke-linejoin="round"/>
<circle cx="322.18" cy="1643.33" r="1.95" fill="#0e780e"/>
<circle cx="324.18" cy="1709.49" r="1.95" fill="#0e780e"/>
<circle cx="326.19" cy="1751.84" r="1.95" fill="#0e780e"/>
<circle cx="328.19" cy="1723.52" r="1.95" fill="#0e780e"/>
<circle cx="330.2" cy="1739.81" r="1.95" fill="#0e780e"/>
<circle cx="332.2" cy="1745.32" r="1.95" fill="#0e780e"/>
<circle cx="334.21" cy="1734.05" r="1.95" fill="#0e780e"/>
<circle cx="336.21" cy="1714.75" r="1.95" fill="#0e780e"/>
<circle cx="338.22" cy="1711.74" r="1.95" fill="#0e780e"/>
<circle cx="340.22" cy="1732.29" r="1.95" fill="#0e780e"/>
<circle cx="342.22" cy="1731.04" r="1.95" fill="#0e780e"/>
<circle cx="344.23" cy="1723.27" r="1.95" fill="#0e780e"/>
<circle cx="346.23" cy="1731.04" r="1.95" fill="#0e780e"/>
<circle cx="347.99" cy="1734.8" r="1.95" fill="#0e780e"/>
<circle cx="349.99" cy="1718.01" r="1.95" fill="#0e780e"/>
<circle cx="352" cy="1741.56" r="1.95" fill="#0e780e"/>
<circle cx="357.76" cy="1728.28" r="1.95" fill="#0e780e"/>
<circle cx="369.54" cy="1753.09" r="1.95" fill="#0e780e"/>
<circle cx="375.55" cy="1706.23" r="1.95" fill="#0e780e"/>
<circle cx="381.57" cy="1719.76" r="1.95" fill="#0e780e"/>
<circle cx="385.58" cy="1737.05" r="1.95" fill="#0e780e"/>
<circle cx="387.58" cy="1738.31" r="1.95" fill="#0e780e"/>
<circle cx="389.59" cy="1733.29" r="1.95" fill="#0e780e"/>
<circle cx="391.59" cy="1714.75" r="1.95" fill="#0e780e"/>
<circle cx="393.35" cy="1719.26" r="1.95" fill="#0e780e"/>
<circle cx="395.35" cy="1735.55" r="1.95" fill="#0e780e"/>
<circle cx="397.36" cy="1730.29" r="1.95" fill="#0e780e"/>
<circle cx="399.36" cy="1753.34" r="1.95" fill="#0e780e"/>
<circle cx="401.37" cy="1751.09" r="1.95" fill="#0e780e"/>
<circle cx="403.37" cy="1726.78" r="1.95" fill="#0e780e"/>
<circle cx="405.38" cy="1731.54" r="1.95" fill="#0e780e"/>
<circle cx="407.38" cy="1715.25" r="1.95" fill="#0e780e"/>
<circle cx="409.38" cy="1709.49" r="1.95" fill="#0e780e"/>
<circle cx="411.39" cy="1704.48" r="1.95" fill="#0e780e"/>
<circle cx="413.39" cy="1718.26" r="1.95" fill="#0e780e"/>
<circle cx="415.15" cy="1717.76" r="1.95" fill="#0e780e"/>
<circle cx="417.15" cy="1728.78" r="1.95" fill="#0e780e"/>
<circle cx="419.16" cy="1730.29" r="1.95" fill="#0e780e"/>
<circle cx="421.16" cy="1736.55" r="1.95" fill="#0e780e"/>
<circle cx="423.17" cy="1722.77" r="1.95" fill="#0e780e"/>
<circle cx="425.17" cy="1734.55" r="1.95" fill="#0e780e"/>
<circle cx="427.18" cy="1730.79" r="1.95" fill="#0e780e"/>
<circle cx="429.18" cy="1708.99" r="1.95" fill="#0e780e"/>
<circle cx="431.19" cy="1740.56" r="1.95" fill="#0e780e"/>
<circle cx="432.94" cy="1736.55" r="1.95" fill="#0e780e"/>
<circle cx="434.95" cy="1746.58" r="1.95" fill="#0e780e"/>
<circle cx="436.95" cy="1751.59" r="1.95" fill="#0e780e"/>
<circle cx="438.96" cy="1743.32" r="1.95" fill="#0e780e"/>
<circle cx="440.96" cy="1723.02" r="1.95" fill="#0e780e"/>
<circle cx="442.96" cy="1752.84" r="1.95" fill="#0e780e"/>
<circle cx="444.97" cy="1751.84" r="1.95" fill="#0e780e"/>
<circle cx="446.97" cy="1709.49" r="1.95" fill="#0e780e"/>
<circle cx="448.98" cy="1711.74" r="1.95" fill="#0e780e"/>
<circle cx="450.98" cy="1720.26" r="1.95" fill="#0e780e"/>
<circle cx="452.99" cy="1728.28" r="1.95" fill="#0e780e"/>
<circle cx="454.99" cy="1734.55" r="1.95" fill="#0e780e"/>
<circle cx="457" cy="1738.56" r="1.95" fill="#0e780e"/>
<circle cx="461.01" cy="1744.32" r="1.95" fill="#0e780e"/>
<rect x="315.9" y="1638.1" width="152.4" height="119.8" fill="none" stroke="#777777" stroke-width="1"/>
<rect x="315.9" y="1597" width="152.4" height="20.5" fill="#fff" stroke="#777777" stroke-width="1"/>
<text x="392.1" y="1612.51" font-size="14.6" text-anchor="middle" fill="#1a1a1a" font-style="italic">pelagic</text>
<rect x="315.9" y="1617.5" width="152.4" height="20.6" fill="#fff" stroke="#777777" stroke-width="1"/>
<text x="392.1" y="1633.06" font-size="14.6" text-anchor="middle" fill="#1a1a1a" font-style="italic">Trachurus symmetricus</text>
<line x1="313.2" y1="1660.1" x2="315.9" y2="1660.1" stroke="#333" stroke-width="1"/>
<text x="311.8" y="1666.71" font-size="17.2" text-anchor="end" fill="#3a3a3a">2</text>
<line x1="313.2" y1="1694" x2="315.9" y2="1694" stroke="#333" stroke-width="1"/>
<text x="311.8" y="1700.61" font-size="17.2" text-anchor="end" fill="#3a3a3a">1</text>
<line x1="313.2" y1="1728" x2="315.9" y2="1728" stroke="#333" stroke-width="1"/>
<text x="311.8" y="1734.61" font-size="17.2" text-anchor="end" fill="#3a3a3a">0</text>
<line x1="322.7" y1="1757.9" x2="322.7" y2="1760.6" stroke="#333" stroke-width="1"/>
<text transform="translate(331.89,1763.1) rotate(-90)" font-size="12" text-anchor="end" fill="#2e2e2e">1951</text>
<line x1="332.6" y1="1757.9" x2="332.6" y2="1760.6" stroke="#333" stroke-width="1"/>
<text transform="translate(341.79,1763.1) rotate(-90)" font-size="12" text-anchor="end" fill="#2e2e2e">1956</text>
<line x1="342.5" y1="1757.9" x2="342.5" y2="1760.6" stroke="#333" stroke-width="1"/>
<text transform="translate(351.69,1763.1) rotate(-90)" font-size="12" text-anchor="end" fill="#2e2e2e">1961</text>
<line x1="352.4" y1="1757.9" x2="352.4" y2="1760.6" stroke="#333" stroke-width="1"/>
<text transform="translate(361.59,1763.1) rotate(-90)" font-size="12" text-anchor="end" fill="#2e2e2e">1966</text>
<line x1="362.3" y1="1757.9" x2="362.3" y2="1760.6" stroke="#333" stroke-width="1"/>
<text transform="translate(371.49,1763.1) rotate(-90)" font-size="12" text-anchor="end" fill="#2e2e2e">1971</text>
<line x1="372.2" y1="1757.9" x2="372.2" y2="1760.6" stroke="#333" stroke-width="1"/>
<text transform="translate(381.39,1763.1) rotate(-90)" font-size="12" text-anchor="end" fill="#2e2e2e">1976</text>
<line x1="382.1" y1="1757.9" x2="382.1" y2="1760.6" stroke="#333" stroke-width="1"/>
<text transform="translate(391.29,1763.1) rotate(-90)" font-size="12" text-anchor="end" fill="#2e2e2e">1981</text>
<line x1="392" y1="1757.9" x2="392" y2="1760.6" stroke="#333" stroke-width="1"/>
<text transform="translate(401.19,1763.1) rotate(-90)" font-size="12" text-anchor="end" fill="#2e2e2e">1986</text>
<line x1="401.9" y1="1757.9" x2="401.9" y2="1760.6" stroke="#333" stroke-width="1"/>
<text transform="translate(411.09,1763.1) rotate(-90)" font-size="12" text-anchor="end" fill="#2e2e2e">1991</text>
<line x1="411.8" y1="1757.9" x2="411.8" y2="1760.6" stroke="#333" stroke-width="1"/>
<text transform="translate(420.99,1763.1) rotate(-90)" font-size="12" text-anchor="end" fill="#2e2e2e">1996</text>
<line x1="421.7" y1="1757.9" x2="421.7" y2="1760.6" stroke="#333" stroke-width="1"/>
<text transform="translate(430.89,1763.1) rotate(-90)" font-size="12" text-anchor="end" fill="#2e2e2e">2001</text>
<line x1="431.6" y1="1757.9" x2="431.6" y2="1760.6" stroke="#333" stroke-width="1"/>
<text transform="translate(440.79,1763.1) rotate(-90)" font-size="12" text-anchor="end" fill="#2e2e2e">2006</text>
<line x1="441.5" y1="1757.9" x2="441.5" y2="1760.6" stroke="#333" stroke-width="1"/>
<text transform="translate(450.69,1763.1) rotate(-90)" font-size="12" text-anchor="end" fill="#2e2e2e">2011</text>
<line x1="451.4" y1="1757.9" x2="451.4" y2="1760.6" stroke="#333" stroke-width="1"/>
<text transform="translate(460.59,1763.1) rotate(-90)" font-size="12" text-anchor="end" fill="#2e2e2e">2016</text>
<line x1="461.3" y1="1757.9" x2="461.3" y2="1760.6" stroke="#333" stroke-width="1"/>
<text transform="translate(470.49,1763.1) rotate(-90)" font-size="12" text-anchor="end" fill="#2e2e2e">2021</text>
</g>
<text x="0.3" y="1858" font-size="29" text-anchor="start" fill="#000" font-weight="bold">D</text>
<rect x="45.6" y="1886.1" width="151.9" height="120.5" fill="#fff"/>
<line x1="45.6" y1="1970.5" x2="197.5" y2="1970.5" stroke="#ababab" stroke-width="1"/>
<line x1="191.5" y1="1886.1" x2="191.5" y2="2006.6" stroke="#999999" stroke-width="1"/>
<polyline points="52.37,1986.12 54.63,1993.39 56.63,1973.34 58.64,1979.86 60.64,1964.82 62.65,1987.63 64.65,1978.1 66.66,1981.86 68.66,1989.88 70.67,1999.15 72.67,1997.4 74.68,1989.38 76.68,1994.14 78.44,1974.59 80.44,1977.35 82.7,1976.6 88.21,1956.55 100.24,1996.15 106.25,1946.78 112.02,1954.8 115.78,1999.4 117.78,2001.16 119.79,1985.87 121.79,1992.39 123.54,1970.58 125.55,1970.33 127.55,1959.31 129.56,1950.54 131.56,1926.23 133.57,1976.6 135.57,1964.07 137.58,1956.8 139.58,1983.87 141.34,1942.02 143.34,1951.54 145.35,1991.13 147.35,1985.37 149.36,1958.81 151.36,1961.31 153.37,1953.29 155.37,1988.38 157.37,1971.59 159.38,1980.86 161.38,1974.34 163.39,1985.12 165.39,1991.63 167.4,1980.61 169.4,1947.78 171.16,1911.95 173.16,1891.65 175.17,1943.52 177.17,1896.91 178.93,1966.83 180.93,1990.88 182.94,1962.06 184.94,1979.36 186.95,1982.36 190.95,1984.62" fill="none" stroke="#1a1a1a" stroke-width="0.9" stroke-linejoin="round"/>
<circle cx="52.37" cy="1986.12" r="1.95" fill="#0e780e"/>
<circle cx="54.63" cy="1993.39" r="1.95" fill="#0e780e"/>
<circle cx="56.63" cy="1973.34" r="1.95" fill="#0e780e"/>
<circle cx="58.64" cy="1979.86" r="1.95" fill="#0e780e"/>
<circle cx="60.64" cy="1964.82" r="1.95" fill="#0e780e"/>
<circle cx="62.65" cy="1987.63" r="1.95" fill="#0e780e"/>
<circle cx="64.65" cy="1978.1" r="1.95" fill="#0e780e"/>
<circle cx="66.66" cy="1981.86" r="1.95" fill="#0e780e"/>
<circle cx="68.66" cy="1989.88" r="1.95" fill="#0e780e"/>
<circle cx="70.67" cy="1999.15" r="1.95" fill="#0e780e"/>
<circle cx="72.67" cy="1997.4" r="1.95" fill="#0e780e"/>
<circle cx="74.68" cy="1989.38" r="1.95" fill="#0e780e"/>
<circle cx="76.68" cy="1994.14" r="1.95" fill="#0e780e"/>
<circle cx="78.44" cy="1974.59" r="1.95" fill="#0e780e"/>
<circle cx="80.44" cy="1977.35" r="1.95" fill="#0e780e"/>
<circle cx="82.7" cy="1976.6" r="1.95" fill="#0e780e"/>
<circle cx="88.21" cy="1956.55" r="1.95" fill="#0e780e"/>
<circle cx="100.24" cy="1996.15" r="1.95" fill="#0e780e"/>
<circle cx="106.25" cy="1946.78" r="1.95" fill="#0e780e"/>
<circle cx="112.02" cy="1954.8" r="1.95" fill="#0e780e"/>
<circle cx="115.78" cy="1999.4" r="1.95" fill="#0e780e"/>
<circle cx="117.78" cy="2001.16" r="1.95" fill="#0e780e"/>
<circle cx="119.79" cy="1985.87" r="1.95" fill="#0e780e"/>
<circle cx="121.79" cy="1992.39" r="1.95" fill="#0e780e"/>
<circle cx="123.54" cy="1970.58" r="1.95" fill="#0e780e"/>
<circle cx="125.55" cy="1970.33" r="1.95" fill="#0e780e"/>
<circle cx="127.55" cy="1959.31" r="1.95" fill="#0e780e"/>
<circle cx="129.56" cy="1950.54" r="1.95" fill="#0e780e"/>
<circle cx="131.56" cy="1926.23" r="1.95" fill="#0e780e"/>
<circle cx="133.57" cy="1976.6" r="1.95" fill="#0e780e"/>
<circle cx="135.57" cy="1964.07" r="1.95" fill="#0e780e"/>
<circle cx="137.58" cy="1956.8" r="1.95" fill="#0e780e"/>
<circle cx="139.58" cy="1983.87" r="1.95" fill="#0e780e"/>
<circle cx="141.34" cy="1942.02" r="1.95" fill="#0e780e"/>
<circle cx="143.34" cy="1951.54" r="1.95" fill="#0e780e"/>
<circle cx="145.35" cy="1991.13" r="1.95" fill="#0e780e"/>
<circle cx="147.35" cy="1985.37" r="1.95" fill="#0e780e"/>
<circle cx="149.36" cy="1958.81" r="1.95" fill="#0e780e"/>
<circle cx="151.36" cy="1961.31" r="1.95" fill="#0e780e"/>
<circle cx="153.37" cy="1953.29" r="1.95" fill="#0e780e"/>
<circle cx="155.37" cy="1988.38" r="1.95" fill="#0e780e"/>
<circle cx="157.37" cy="1971.59" r="1.95" fill="#0e780e"/>
<circle cx="159.38" cy="1980.86" r="1.95" fill="#0e780e"/>
<circle cx="161.38" cy="1974.34" r="1.95" fill="#0e780e"/>
<circle cx="163.39" cy="1985.12" r="1.95" fill="#0e780e"/>
<circle cx="165.39" cy="1991.63" r="1.95" fill="#0e780e"/>
<circle cx="167.4" cy="1980.61" r="1.95" fill="#0e780e"/>
<circle cx="169.4" cy="1947.78" r="1.95" fill="#0e780e"/>
<circle cx="171.16" cy="1911.95" r="1.95" fill="#0e780e"/>
<circle cx="173.16" cy="1891.65" r="1.95" fill="#0e780e"/>
<circle cx="175.17" cy="1943.52" r="1.95" fill="#0e780e"/>
<circle cx="177.17" cy="1896.91" r="1.95" fill="#0e780e"/>
<circle cx="178.93" cy="1966.83" r="1.95" fill="#0e780e"/>
<circle cx="180.93" cy="1990.88" r="1.95" fill="#0e780e"/>
<circle cx="182.94" cy="1962.06" r="1.95" fill="#0e780e"/>
<circle cx="184.94" cy="1979.36" r="1.95" fill="#0e780e"/>
<circle cx="186.95" cy="1982.36" r="1.95" fill="#0e780e"/>
<circle cx="190.95" cy="1984.62" r="1.95" fill="#0e780e"/>
<rect x="45.6" y="1886.1" width="151.9" height="120.5" fill="none" stroke="#777777" stroke-width="1"/>
<rect x="45.6" y="1844.5" width="151.9" height="21.1" fill="#fff" stroke="#777777" stroke-width="1"/>
<text x="121.55" y="1860.31" font-size="14.6" text-anchor="middle" fill="#1a1a1a" font-style="italic">benthic</text>
<rect x="45.6" y="1865.6" width="151.9" height="20.5" fill="#fff" stroke="#777777" stroke-width="1"/>
<text x="121.55" y="1881.11" font-size="14.6" text-anchor="middle" fill="#1a1a1a" font-style="italic">Citharichthys</text>
<line x1="42.9" y1="1912.7" x2="45.6" y2="1912.7" stroke="#333" stroke-width="1"/>
<text x="41.5" y="1919.31" font-size="17.2" text-anchor="end" fill="#3a3a3a">1.0</text>
<line x1="42.9" y1="1942" x2="45.6" y2="1942" stroke="#333" stroke-width="1"/>
<text x="41.5" y="1948.61" font-size="17.2" text-anchor="end" fill="#3a3a3a">0.5</text>
<line x1="42.9" y1="1970.8" x2="45.6" y2="1970.8" stroke="#333" stroke-width="1"/>
<text x="41.5" y="1977.41" font-size="17.2" text-anchor="end" fill="#3a3a3a">0.0</text>
<line x1="42.9" y1="2000.2" x2="45.6" y2="2000.2" stroke="#333" stroke-width="1"/>
<text x="41.5" y="2006.81" font-size="17.2" text-anchor="end" fill="#3a3a3a">-0.5</text>
<rect x="237.1" y="1886.1" width="152.4" height="120.5" fill="#fff"/>
<line x1="237.1" y1="1948.5" x2="389.5" y2="1948.5" stroke="#ababab" stroke-width="1"/>
<line x1="382.5" y1="1886.1" x2="382.5" y2="2006.6" stroke="#999999" stroke-width="1"/>
<polyline points="243.38,1909.19 245.38,1933.75 247.39,1961.31 249.39,1917.71 251.4,1904.93 253.4,1945.78 255.41,1891.65 257.41,1970.84 259.42,1972.09 261.42,1972.09 263.42,1956.55 265.43,1950.54 267.43,1952.29 269.19,1937.76 271.19,1956.55 273.2,1923.47 278.96,1937.26 290.74,1966.58 296.75,1950.04 302.77,1917.71 306.78,1989.38 308.78,1958.81 310.79,2001.16 312.79,1946.03 314.55,1961.31 316.55,1939.76 318.56,1954.8 320.56,1903.93 322.57,1919.46 324.57,1970.33 326.58,1956.8 328.58,1964.07 330.58,1957.05 332.59,1953.29 334.59,1962.32 336.35,1970.58 338.35,1950.04 340.36,1954.8 342.36,1947.28 344.37,1939.26 346.37,1960.81 348.38,1947.28 350.38,1951.29 352.39,1959.06 354.14,1967.33 356.15,1957.55 358.15,1954.55 360.16,1953.54 362.16,1957.3 364.16,1903.17 366.17,1936.75 368.17,1953.54 370.18,1937.76 372.18,1944.77 374.19,1936.5 376.19,1973.84 378.2,1957.05 382.21,1928.23" fill="none" stroke="#1a1a1a" stroke-width="0.9" stroke-linejoin="round"/>
<circle cx="243.38" cy="1909.19" r="1.95" fill="#0e780e"/>
<circle cx="245.38" cy="1933.75" r="1.95" fill="#0e780e"/>
<circle cx="247.39" cy="1961.31" r="1.95" fill="#0e780e"/>
<circle cx="249.39" cy="1917.71" r="1.95" fill="#0e780e"/>
<circle cx="251.4" cy="1904.93" r="1.95" fill="#0e780e"/>
<circle cx="253.4" cy="1945.78" r="1.95" fill="#0e780e"/>
<circle cx="255.41" cy="1891.65" r="1.95" fill="#0e780e"/>
<circle cx="257.41" cy="1970.84" r="1.95" fill="#0e780e"/>
<circle cx="259.42" cy="1972.09" r="1.95" fill="#0e780e"/>
<circle cx="261.42" cy="1972.09" r="1.95" fill="#0e780e"/>
<circle cx="263.42" cy="1956.55" r="1.95" fill="#0e780e"/>
<circle cx="265.43" cy="1950.54" r="1.95" fill="#0e780e"/>
<circle cx="267.43" cy="1952.29" r="1.95" fill="#0e780e"/>
<circle cx="269.19" cy="1937.76" r="1.95" fill="#0e780e"/>
<circle cx="271.19" cy="1956.55" r="1.95" fill="#0e780e"/>
<circle cx="273.2" cy="1923.47" r="1.95" fill="#0e780e"/>
<circle cx="278.96" cy="1937.26" r="1.95" fill="#0e780e"/>
<circle cx="290.74" cy="1966.58" r="1.95" fill="#0e780e"/>
<circle cx="296.75" cy="1950.04" r="1.95" fill="#0e780e"/>
<circle cx="302.77" cy="1917.71" r="1.95" fill="#0e780e"/>
<circle cx="306.78" cy="1989.38" r="1.95" fill="#0e780e"/>
<circle cx="308.78" cy="1958.81" r="1.95" fill="#0e780e"/>
<circle cx="310.79" cy="2001.16" r="1.95" fill="#0e780e"/>
<circle cx="312.79" cy="1946.03" r="1.95" fill="#0e780e"/>
<circle cx="314.55" cy="1961.31" r="1.95" fill="#0e780e"/>
<circle cx="316.55" cy="1939.76" r="1.95" fill="#0e780e"/>
<circle cx="318.56" cy="1954.8" r="1.95" fill="#0e780e"/>
<circle cx="320.56" cy="1903.93" r="1.95" fill="#0e780e"/>
<circle cx="322.57" cy="1919.46" r="1.95" fill="#0e780e"/>
<circle cx="324.57" cy="1970.33" r="1.95" fill="#0e780e"/>
<circle cx="326.58" cy="1956.8" r="1.95" fill="#0e780e"/>
<circle cx="328.58" cy="1964.07" r="1.95" fill="#0e780e"/>
<circle cx="330.58" cy="1957.05" r="1.95" fill="#0e780e"/>
<circle cx="332.59" cy="1953.29" r="1.95" fill="#0e780e"/>
<circle cx="334.59" cy="1962.32" r="1.95" fill="#0e780e"/>
<circle cx="336.35" cy="1970.58" r="1.95" fill="#0e780e"/>
<circle cx="338.35" cy="1950.04" r="1.95" fill="#0e780e"/>
<circle cx="340.36" cy="1954.8" r="1.95" fill="#0e780e"/>
<circle cx="342.36" cy="1947.28" r="1.95" fill="#0e780e"/>
<circle cx="344.37" cy="1939.26" r="1.95" fill="#0e780e"/>
<circle cx="346.37" cy="1960.81" r="1.95" fill="#0e780e"/>
<circle cx="348.38" cy="1947.28" r="1.95" fill="#0e780e"/>
<circle cx="350.38" cy="1951.29" r="1.95" fill="#0e780e"/>
<circle cx="352.39" cy="1959.06" r="1.95" fill="#0e780e"/>
<circle cx="354.14" cy="1967.33" r="1.95" fill="#0e780e"/>
<circle cx="356.15" cy="1957.55" r="1.95" fill="#0e780e"/>
<circle cx="358.15" cy="1954.55" r="1.95" fill="#0e780e"/>
<circle cx="360.16" cy="1953.54" r="1.95" fill="#0e780e"/>
<circle cx="362.16" cy="1957.3" r="1.95" fill="#0e780e"/>
<circle cx="364.16" cy="1903.17" r="1.95" fill="#0e780e"/>
<circle cx="366.17" cy="1936.75" r="1.95" fill="#0e780e"/>
<circle cx="368.17" cy="1953.54" r="1.95" fill="#0e780e"/>
<circle cx="370.18" cy="1937.76" r="1.95" fill="#0e780e"/>
<circle cx="372.18" cy="1944.77" r="1.95" fill="#0e780e"/>
<circle cx="374.19" cy="1936.5" r="1.95" fill="#0e780e"/>
<circle cx="376.19" cy="1973.84" r="1.95" fill="#0e780e"/>
<circle cx="378.2" cy="1957.05" r="1.95" fill="#0e780e"/>
<circle cx="382.21" cy="1928.23" r="1.95" fill="#0e780e"/>
<rect x="237.1" y="1886.1" width="152.4" height="120.5" fill="none" stroke="#777777" stroke-width="1"/>
<rect x="237.1" y="1844.5" width="152.4" height="21.1" fill="#fff" stroke="#777777" stroke-width="1"/>
<text x="313.3" y="1860.31" font-size="14.6" text-anchor="middle" fill="#1a1a1a" font-style="italic">benthic</text>
<rect x="237.1" y="1865.6" width="152.4" height="20.5" fill="#fff" stroke="#777777" stroke-width="1"/>
<text x="313.3" y="1881.11" font-size="14.6" text-anchor="middle" fill="#1a1a1a" font-style="italic">Sebastes</text>
<line x1="234.4" y1="1896.7" x2="237.1" y2="1896.7" stroke="#333" stroke-width="1"/>
<text x="233" y="1903.31" font-size="17.2" text-anchor="end" fill="#3a3a3a">1.0</text>
<line x1="234.4" y1="1922.5" x2="237.1" y2="1922.5" stroke="#333" stroke-width="1"/>
<text x="233" y="1929.11" font-size="17.2" text-anchor="end" fill="#3a3a3a">0.5</text>
<line x1="234.4" y1="1948.3" x2="237.1" y2="1948.3" stroke="#333" stroke-width="1"/>
<text x="233" y="1954.91" font-size="17.2" text-anchor="end" fill="#3a3a3a">0.0</text>
<line x1="234.4" y1="1974.1" x2="237.1" y2="1974.1" stroke="#333" stroke-width="1"/>
<text x="233" y="1980.71" font-size="17.2" text-anchor="end" fill="#3a3a3a">-0.5</text>
<line x1="234.4" y1="2000.4" x2="237.1" y2="2000.4" stroke="#333" stroke-width="1"/>
<text x="233" y="2007.01" font-size="17.2" text-anchor="end" fill="#3a3a3a">-1.0</text>
<rect x="413.8" y="1886.1" width="151.6" height="120.5" fill="#fff"/>
<line x1="413.8" y1="1956.5" x2="565.4" y2="1956.5" stroke="#ababab" stroke-width="1"/>
<line x1="559.5" y1="1886.1" x2="559.5" y2="2006.6" stroke="#999999" stroke-width="1"/>
<polyline points="420.35,1909.19 422.35,1897.91 424.36,1924.73 426.36,1952.29 428.37,1947.28 430.37,1930.24 432.37,1891.65 434.38,1975.35 436.38,1987.37 438.39,1952.29 440.39,1960.81 442.15,1938.76 444.15,1964.07 446.16,1943.27 448.16,1953.54 450.17,1912.45 456.18,1968.58 467.71,1967.08 473.72,1954.55 479.74,1952.29 483.75,1981.11 485.75,1966.07 487.76,1971.09 489.76,1968.58 491.52,1943.77 493.52,1963.82 495.53,1959.81 497.53,1949.79 499.53,1952.29 501.54,1975.35 503.54,1963.32 505.55,1931.24 507.55,1971.84 509.56,1962.06 511.31,1981.36 513.32,1962.06 515.32,1916.46 517.33,1937.26 519.33,1980.11 521.34,1926.23 523.34,1974.59 525.35,1969.83 527.35,1989.88 529.36,2001.16 531.36,1999.65 533.37,1941.77 535.37,1960.06 537.37,1965.82 539.38,1987.37 541.38,1931.99 543.39,1924.22 545.14,1927.73 547.15,1968.58 549.15,1954.55 551.16,1959.06 553.16,1988.63 555.17,1989.63 558.93,1977.35" fill="none" stroke="#1a1a1a" stroke-width="0.9" stroke-linejoin="round"/>
<circle cx="420.35" cy="1909.19" r="1.95" fill="#0e780e"/>
<circle cx="422.35" cy="1897.91" r="1.95" fill="#0e780e"/>
<circle cx="424.36" cy="1924.73" r="1.95" fill="#0e780e"/>
<circle cx="426.36" cy="1952.29" r="1.95" fill="#0e780e"/>
<circle cx="428.37" cy="1947.28" r="1.95" fill="#0e780e"/>
<circle cx="430.37" cy="1930.24" r="1.95" fill="#0e780e"/>
<circle cx="432.37" cy="1891.65" r="1.95" fill="#0e780e"/>
<circle cx="434.38" cy="1975.35" r="1.95" fill="#0e780e"/>
<circle cx="436.38" cy="1987.37" r="1.95" fill="#0e780e"/>
<circle cx="438.39" cy="1952.29" r="1.95" fill="#0e780e"/>
<circle cx="440.39" cy="1960.81" r="1.95" fill="#0e780e"/>
<circle cx="442.15" cy="1938.76" r="1.95" fill="#0e780e"/>
<circle cx="444.15" cy="1964.07" r="1.95" fill="#0e780e"/>
<circle cx="446.16" cy="1943.27" r="1.95" fill="#0e780e"/>
<circle cx="448.16" cy="1953.54" r="1.95" fill="#0e780e"/>
<circle cx="450.17" cy="1912.45" r="1.95" fill="#0e780e"/>
<circle cx="456.18" cy="1968.58" r="1.95" fill="#0e780e"/>
<circle cx="467.71" cy="1967.08" r="1.95" fill="#0e780e"/>
<circle cx="473.72" cy="1954.55" r="1.95" fill="#0e780e"/>
<circle cx="479.74" cy="1952.29" r="1.95" fill="#0e780e"/>
<circle cx="483.75" cy="1981.11" r="1.95" fill="#0e780e"/>
<circle cx="485.75" cy="1966.07" r="1.95" fill="#0e780e"/>
<circle cx="487.76" cy="1971.09" r="1.95" fill="#0e780e"/>
<circle cx="489.76" cy="1968.58" r="1.95" fill="#0e780e"/>
<circle cx="491.52" cy="1943.77" r="1.95" fill="#0e780e"/>
<circle cx="493.52" cy="1963.82" r="1.95" fill="#0e780e"/>
<circle cx="495.53" cy="1959.81" r="1.95" fill="#0e780e"/>
<circle cx="497.53" cy="1949.79" r="1.95" fill="#0e780e"/>
<circle cx="499.53" cy="1952.29" r="1.95" fill="#0e780e"/>
<circle cx="501.54" cy="1975.35" r="1.95" fill="#0e780e"/>
<circle cx="503.54" cy="1963.32" r="1.95" fill="#0e780e"/>
<circle cx="505.55" cy="1931.24" r="1.95" fill="#0e780e"/>
<circle cx="507.55" cy="1971.84" r="1.95" fill="#0e780e"/>
<circle cx="509.56" cy="1962.06" r="1.95" fill="#0e780e"/>
<circle cx="511.31" cy="1981.36" r="1.95" fill="#0e780e"/>
<circle cx="513.32" cy="1962.06" r="1.95" fill="#0e780e"/>
<circle cx="515.32" cy="1916.46" r="1.95" fill="#0e780e"/>
<circle cx="517.33" cy="1937.26" r="1.95" fill="#0e780e"/>
<circle cx="519.33" cy="1980.11" r="1.95" fill="#0e780e"/>
<circle cx="521.34" cy="1926.23" r="1.95" fill="#0e780e"/>
<circle cx="523.34" cy="1974.59" r="1.95" fill="#0e780e"/>
<circle cx="525.35" cy="1969.83" r="1.95" fill="#0e780e"/>
<circle cx="527.35" cy="1989.88" r="1.95" fill="#0e780e"/>
<circle cx="529.36" cy="2001.16" r="1.95" fill="#0e780e"/>
<circle cx="531.36" cy="1999.65" r="1.95" fill="#0e780e"/>
<circle cx="533.37" cy="1941.77" r="1.95" fill="#0e780e"/>
<circle cx="535.37" cy="1960.06" r="1.95" fill="#0e780e"/>
<circle cx="537.37" cy="1965.82" r="1.95" fill="#0e780e"/>
<circle cx="539.38" cy="1987.37" r="1.95" fill="#0e780e"/>
<circle cx="541.38" cy="1931.99" r="1.95" fill="#0e780e"/>
<circle cx="543.39" cy="1924.22" r="1.95" fill="#0e780e"/>
<circle cx="545.14" cy="1927.73" r="1.95" fill="#0e780e"/>
<circle cx="547.15" cy="1968.58" r="1.95" fill="#0e780e"/>
<circle cx="549.15" cy="1954.55" r="1.95" fill="#0e780e"/>
<circle cx="551.16" cy="1959.06" r="1.95" fill="#0e780e"/>
<circle cx="553.16" cy="1988.63" r="1.95" fill="#0e780e"/>
<circle cx="555.17" cy="1989.63" r="1.95" fill="#0e780e"/>
<circle cx="558.93" cy="1977.35" r="1.95" fill="#0e780e"/>
<rect x="413.8" y="1886.1" width="151.6" height="120.5" fill="none" stroke="#777777" stroke-width="1"/>
<rect x="413.8" y="1844.5" width="151.6" height="21.1" fill="#fff" stroke="#777777" stroke-width="1"/>
<text x="489.6" y="1860.31" font-size="14.6" text-anchor="middle" fill="#1a1a1a" font-style="italic">mesopelagic</text>
<rect x="413.8" y="1865.6" width="151.6" height="20.5" fill="#fff" stroke="#777777" stroke-width="1"/>
<text x="489.6" y="1881.11" font-size="14.6" text-anchor="middle" fill="#1a1a1a" font-style="italic">northern mesopelagics</text>
<line x1="411.1" y1="1913.9" x2="413.8" y2="1913.9" stroke="#333" stroke-width="1"/>
<text x="409.7" y="1920.51" font-size="17.2" text-anchor="end" fill="#3a3a3a">1</text>
<line x1="411.1" y1="1956" x2="413.8" y2="1956" stroke="#333" stroke-width="1"/>
<text x="409.7" y="1962.61" font-size="17.2" text-anchor="end" fill="#3a3a3a">0</text>
<line x1="411.1" y1="1997.9" x2="413.8" y2="1997.9" stroke="#333" stroke-width="1"/>
<text x="409.7" y="2004.51" font-size="17.2" text-anchor="end" fill="#3a3a3a">-1</text>
<rect x="605.1" y="1886.1" width="151.1" height="120.5" fill="#fff"/>
<line x1="605.1" y1="1945.5" x2="756.2" y2="1945.5" stroke="#ababab" stroke-width="1"/>
<line x1="750.5" y1="1886.1" x2="750.5" y2="2006.6" stroke="#999999" stroke-width="1"/>
<polyline points="611.12,1936 613.13,1931.74 615.13,1986.62 617.14,1996.15 619.14,1989.13 621.15,2001.16 623.15,1974.84 625.16,1953.54 627.16,1946.78 629.16,1971.59 631.17,1980.86 633.17,1961.06 635.18,1992.89 636.93,1965.32 638.94,1959.56 640.94,1943.27 646.96,1948.03 658.99,1972.09 664.75,1921.47 670.76,1936.25 674.77,1931.99 676.78,1943.27 678.78,1951.04 680.79,1933 682.79,1923.22 684.8,1952.29 686.55,1931.99 688.56,1951.54 690.56,1928.23 692.57,1916.46 694.57,1932.74 696.58,1924.73 698.58,1935.25 700.58,1917.21 702.59,1916.96 704.59,1893.15 706.6,1945.02 708.35,1954.55 710.36,1951.54 712.36,1945.02 714.37,1971.09 716.37,1948.03 718.38,1949.28 720.38,1956.05 722.39,1949.79 724.39,1967.08 726.4,1945.53 728.4,1952.04 730.16,1956.05 732.16,1962.32 734.16,1939.01 736.17,1937.76 738.17,1891.4 740.18,1904.68 742.18,1914.45 744.19,1910.19 745.94,1899.67 749.95,1926.48" fill="none" stroke="#1a1a1a" stroke-width="0.9" stroke-linejoin="round"/>
<circle cx="611.12" cy="1936" r="1.95" fill="#0e780e"/>
<circle cx="613.13" cy="1931.74" r="1.95" fill="#0e780e"/>
<circle cx="615.13" cy="1986.62" r="1.95" fill="#0e780e"/>
<circle cx="617.14" cy="1996.15" r="1.95" fill="#0e780e"/>
<circle cx="619.14" cy="1989.13" r="1.95" fill="#0e780e"/>
<circle cx="621.15" cy="2001.16" r="1.95" fill="#0e780e"/>
<circle cx="623.15" cy="1974.84" r="1.95" fill="#0e780e"/>
<circle cx="625.16" cy="1953.54" r="1.95" fill="#0e780e"/>
<circle cx="627.16" cy="1946.78" r="1.95" fill="#0e780e"/>
<circle cx="629.16" cy="1971.59" r="1.95" fill="#0e780e"/>
<circle cx="631.17" cy="1980.86" r="1.95" fill="#0e780e"/>
<circle cx="633.17" cy="1961.06" r="1.95" fill="#0e780e"/>
<circle cx="635.18" cy="1992.89" r="1.95" fill="#0e780e"/>
<circle cx="636.93" cy="1965.32" r="1.95" fill="#0e780e"/>
<circle cx="638.94" cy="1959.56" r="1.95" fill="#0e780e"/>
<circle cx="640.94" cy="1943.27" r="1.95" fill="#0e780e"/>
<circle cx="646.96" cy="1948.03" r="1.95" fill="#0e780e"/>
<circle cx="658.99" cy="1972.09" r="1.95" fill="#0e780e"/>
<circle cx="664.75" cy="1921.47" r="1.95" fill="#0e780e"/>
<circle cx="670.76" cy="1936.25" r="1.95" fill="#0e780e"/>
<circle cx="674.77" cy="1931.99" r="1.95" fill="#0e780e"/>
<circle cx="676.78" cy="1943.27" r="1.95" fill="#0e780e"/>
<circle cx="678.78" cy="1951.04" r="1.95" fill="#0e780e"/>
<circle cx="680.79" cy="1933" r="1.95" fill="#0e780e"/>
<circle cx="682.79" cy="1923.22" r="1.95" fill="#0e780e"/>
<circle cx="684.8" cy="1952.29" r="1.95" fill="#0e780e"/>
<circle cx="686.55" cy="1931.99" r="1.95" fill="#0e780e"/>
<circle cx="688.56" cy="1951.54" r="1.95" fill="#0e780e"/>
<circle cx="690.56" cy="1928.23" r="1.95" fill="#0e780e"/>
<circle cx="692.57" cy="1916.46" r="1.95" fill="#0e780e"/>
<circle cx="694.57" cy="1932.74" r="1.95" fill="#0e780e"/>
<circle cx="696.58" cy="1924.73" r="1.95" fill="#0e780e"/>
<circle cx="698.58" cy="1935.25" r="1.95" fill="#0e780e"/>
<circle cx="700.58" cy="1917.21" r="1.95" fill="#0e780e"/>
<circle cx="702.59" cy="1916.96" r="1.95" fill="#0e780e"/>
<circle cx="704.59" cy="1893.15" r="1.95" fill="#0e780e"/>
<circle cx="706.6" cy="1945.02" r="1.95" fill="#0e780e"/>
<circle cx="708.35" cy="1954.55" r="1.95" fill="#0e780e"/>
<circle cx="710.36" cy="1951.54" r="1.95" fill="#0e780e"/>
<circle cx="712.36" cy="1945.02" r="1.95" fill="#0e780e"/>
<circle cx="714.37" cy="1971.09" r="1.95" fill="#0e780e"/>
<circle cx="716.37" cy="1948.03" r="1.95" fill="#0e780e"/>
<circle cx="718.38" cy="1949.28" r="1.95" fill="#0e780e"/>
<circle cx="720.38" cy="1956.05" r="1.95" fill="#0e780e"/>
<circle cx="722.39" cy="1949.79" r="1.95" fill="#0e780e"/>
<circle cx="724.39" cy="1967.08" r="1.95" fill="#0e780e"/>
<circle cx="726.4" cy="1945.53" r="1.95" fill="#0e780e"/>
<circle cx="728.4" cy="1952.04" r="1.95" fill="#0e780e"/>
<circle cx="730.16" cy="1956.05" r="1.95" fill="#0e780e"/>
<circle cx="732.16" cy="1962.32" r="1.95" fill="#0e780e"/>
<circle cx="734.16" cy="1939.01" r="1.95" fill="#0e780e"/>
<circle cx="736.17" cy="1937.76" r="1.95" fill="#0e780e"/>
<circle cx="738.17" cy="1891.4" r="1.95" fill="#0e780e"/>
<circle cx="740.18" cy="1904.68" r="1.95" fill="#0e780e"/>
<circle cx="742.18" cy="1914.45" r="1.95" fill="#0e780e"/>
<circle cx="744.19" cy="1910.19" r="1.95" fill="#0e780e"/>
<circle cx="745.94" cy="1899.67" r="1.95" fill="#0e780e"/>
<circle cx="749.95" cy="1926.48" r="1.95" fill="#0e780e"/>
<rect x="605.1" y="1886.1" width="151.1" height="120.5" fill="none" stroke="#777777" stroke-width="1"/>
<rect x="605.1" y="1844.5" width="151.1" height="21.1" fill="#fff" stroke="#777777" stroke-width="1"/>
<text x="680.65" y="1860.31" font-size="14.6" text-anchor="middle" fill="#1a1a1a" font-style="italic">mesopelagic</text>
<rect x="605.1" y="1865.6" width="151.1" height="20.5" fill="#fff" stroke="#777777" stroke-width="1"/>
<text x="680.65" y="1881.11" font-size="14.6" text-anchor="middle" fill="#1a1a1a" font-style="italic">southern mesopelagics</text>
<line x1="602.4" y1="1887.4" x2="605.1" y2="1887.4" stroke="#333" stroke-width="1"/>
<text x="601" y="1894.01" font-size="17.2" text-anchor="end" fill="#3a3a3a">1.5</text>
<line x1="602.4" y1="1906.7" x2="605.1" y2="1906.7" stroke="#333" stroke-width="1"/>
<text x="601" y="1913.31" font-size="17.2" text-anchor="end" fill="#3a3a3a">1.0</text>
<line x1="602.4" y1="1926" x2="605.1" y2="1926" stroke="#333" stroke-width="1"/>
<text x="601" y="1932.61" font-size="17.2" text-anchor="end" fill="#3a3a3a">0.5</text>
<line x1="602.4" y1="1945.3" x2="605.1" y2="1945.3" stroke="#333" stroke-width="1"/>
<text x="601" y="1951.91" font-size="17.2" text-anchor="end" fill="#3a3a3a">0.0</text>
<line x1="602.4" y1="1964.6" x2="605.1" y2="1964.6" stroke="#333" stroke-width="1"/>
<text x="601" y="1971.21" font-size="17.2" text-anchor="end" fill="#3a3a3a">-0.5</text>
<line x1="602.4" y1="1983.9" x2="605.1" y2="1983.9" stroke="#333" stroke-width="1"/>
<text x="601" y="1990.51" font-size="17.2" text-anchor="end" fill="#3a3a3a">-1.0</text>
<line x1="602.4" y1="2003.2" x2="605.1" y2="2003.2" stroke="#333" stroke-width="1"/>
<text x="601" y="2009.81" font-size="17.2" text-anchor="end" fill="#3a3a3a">-1.5</text>
<rect x="45.6" y="2052.6" width="151.9" height="120.6" fill="#fff"/>
<line x1="45.6" y1="2122.5" x2="197.5" y2="2122.5" stroke="#ababab" stroke-width="1"/>
<line x1="191.5" y1="2052.6" x2="191.5" y2="2173.2" stroke="#999999" stroke-width="1"/>
<polyline points="149.36,2083.7 151.36,2135.32 153.37,2117.03 155.37,2157.37 157.12,2127.8 159.13,2099.74 161.13,2057.89 163.14,2148.6 165.14,2127.05 167.15,2155.12 169.15,2114.02 171.16,2075.43 173.16,2081.69 175.17,2107.26 177.17,2107.76 178.93,2167.9 180.93,2165.89 182.94,2162.39 184.94,2137.33 186.95,2123.29 190.95,2124.3" fill="none" stroke="#1a1a1a" stroke-width="0.9" stroke-linejoin="round"/>
<circle cx="149.36" cy="2083.7" r="1.95" fill="#0e780e"/>
<circle cx="151.36" cy="2135.32" r="1.95" fill="#0e780e"/>
<circle cx="153.37" cy="2117.03" r="1.95" fill="#0e780e"/>
<circle cx="155.37" cy="2157.37" r="1.95" fill="#0e780e"/>
<circle cx="157.12" cy="2127.8" r="1.95" fill="#0e780e"/>
<circle cx="159.13" cy="2099.74" r="1.95" fill="#0e780e"/>
<circle cx="161.13" cy="2057.89" r="1.95" fill="#0e780e"/>
<circle cx="163.14" cy="2148.6" r="1.95" fill="#0e780e"/>
<circle cx="165.14" cy="2127.05" r="1.95" fill="#0e780e"/>
<circle cx="167.15" cy="2155.12" r="1.95" fill="#0e780e"/>
<circle cx="169.15" cy="2114.02" r="1.95" fill="#0e780e"/>
<circle cx="171.16" cy="2075.43" r="1.95" fill="#0e780e"/>
<circle cx="173.16" cy="2081.69" r="1.95" fill="#0e780e"/>
<circle cx="175.17" cy="2107.26" r="1.95" fill="#0e780e"/>
<circle cx="177.17" cy="2107.76" r="1.95" fill="#0e780e"/>
<circle cx="178.93" cy="2167.9" r="1.95" fill="#0e780e"/>
<circle cx="180.93" cy="2165.89" r="1.95" fill="#0e780e"/>
<circle cx="182.94" cy="2162.39" r="1.95" fill="#0e780e"/>
<circle cx="184.94" cy="2137.33" r="1.95" fill="#0e780e"/>
<circle cx="186.95" cy="2123.29" r="1.95" fill="#0e780e"/>
<circle cx="190.95" cy="2124.3" r="1.95" fill="#0e780e"/>
<rect x="45.6" y="2052.6" width="151.9" height="120.6" fill="none" stroke="#777777" stroke-width="1"/>
<rect x="45.6" y="2011.2" width="151.9" height="20.7" fill="#fff" stroke="#777777" stroke-width="1"/>
<text x="121.55" y="2026.81" font-size="14.6" text-anchor="middle" fill="#1a1a1a" font-style="italic">pelagic</text>
<rect x="45.6" y="2031.9" width="151.9" height="20.7" fill="#fff" stroke="#777777" stroke-width="1"/>
<text x="121.55" y="2047.51" font-size="14.6" text-anchor="middle" fill="#1a1a1a" font-style="italic">Doryteuthis opalescens</text>
<line x1="42.9" y1="2083.2" x2="45.6" y2="2083.2" stroke="#333" stroke-width="1"/>
<text x="41.5" y="2089.81" font-size="17.2" text-anchor="end" fill="#3a3a3a">0.2</text>
<line x1="42.9" y1="2122.3" x2="45.6" y2="2122.3" stroke="#333" stroke-width="1"/>
<text x="41.5" y="2128.91" font-size="17.2" text-anchor="end" fill="#3a3a3a">0.0</text>
<line x1="42.9" y1="2161.4" x2="45.6" y2="2161.4" stroke="#333" stroke-width="1"/>
<text x="41.5" y="2168.01" font-size="17.2" text-anchor="end" fill="#3a3a3a">-0.2</text>
<rect x="237.1" y="2052.6" width="152.4" height="120.6" fill="#fff"/>
<line x1="237.1" y1="2122.5" x2="389.5" y2="2122.5" stroke="#ababab" stroke-width="1"/>
<line x1="382.5" y1="2052.6" x2="382.5" y2="2173.2" stroke="#999999" stroke-width="1"/>
<polyline points="243.38,2152.86 245.38,2157.37 247.39,2156.12 249.39,2155.12 251.4,2137.33 253.4,2141.59 255.41,2113.77 257.41,2103 259.42,2082.2 261.42,2086.46 263.42,2082.2 265.43,2071.42 267.43,2057.89 269.19,2065.16 271.19,2075.68 273.2,2070.67 278.96,2106.5 290.74,2153.62 296.75,2104.25 302.77,2087.96 306.78,2121.79 308.78,2107.26 310.79,2133.57 312.79,2106.5 314.55,2109.51 316.55,2121.29 318.56,2140.84 320.56,2090.97 322.57,2108.01 324.57,2128.05 326.58,2131.81 328.58,2123.79 330.58,2130.31 332.59,2128.56 334.59,2143.59 336.35,2126.3 338.35,2136.32 340.36,2131.56 342.36,2138.33 344.37,2128.56 346.37,2155.37 348.38,2141.34 350.38,2094.73 352.39,2131.81 354.14,2148.85 356.15,2152.36 358.15,2159.88 360.16,2167.65 362.16,2166.65 364.16,2166.4 366.17,2166.65 368.17,2126.8 370.18,2156.12 372.18,2135.32 374.19,2111.01 376.19,2105.5 378.2,2081.69 382.21,2070.42" fill="none" stroke="#1a1a1a" stroke-width="0.9" stroke-linejoin="round"/>
<circle cx="243.38" cy="2152.86" r="1.95" fill="#0e780e"/>
<circle cx="245.38" cy="2157.37" r="1.95" fill="#0e780e"/>
<circle cx="247.39" cy="2156.12" r="1.95" fill="#0e780e"/>
<circle cx="249.39" cy="2155.12" r="1.95" fill="#0e780e"/>
<circle cx="251.4" cy="2137.33" r="1.95" fill="#0e780e"/>
<circle cx="253.4" cy="2141.59" r="1.95" fill="#0e780e"/>
<circle cx="255.41" cy="2113.77" r="1.95" fill="#0e780e"/>
<circle cx="257.41" cy="2103" r="1.95" fill="#0e780e"/>
<circle cx="259.42" cy="2082.2" r="1.95" fill="#0e780e"/>
<circle cx="261.42" cy="2086.46" r="1.95" fill="#0e780e"/>
<circle cx="263.42" cy="2082.2" r="1.95" fill="#0e780e"/>
<circle cx="265.43" cy="2071.42" r="1.95" fill="#0e780e"/>
<circle cx="267.43" cy="2057.89" r="1.95" fill="#0e780e"/>
<circle cx="269.19" cy="2065.16" r="1.95" fill="#0e780e"/>
<circle cx="271.19" cy="2075.68" r="1.95" fill="#0e780e"/>
<circle cx="273.2" cy="2070.67" r="1.95" fill="#0e780e"/>
<circle cx="278.96" cy="2106.5" r="1.95" fill="#0e780e"/>
<circle cx="290.74" cy="2153.62" r="1.95" fill="#0e780e"/>
<circle cx="296.75" cy="2104.25" r="1.95" fill="#0e780e"/>
<circle cx="302.77" cy="2087.96" r="1.95" fill="#0e780e"/>
<circle cx="306.78" cy="2121.79" r="1.95" fill="#0e780e"/>
<circle cx="308.78" cy="2107.26" r="1.95" fill="#0e780e"/>
<circle cx="310.79" cy="2133.57" r="1.95" fill="#0e780e"/>
<circle cx="312.79" cy="2106.5" r="1.95" fill="#0e780e"/>
<circle cx="314.55" cy="2109.51" r="1.95" fill="#0e780e"/>
<circle cx="316.55" cy="2121.29" r="1.95" fill="#0e780e"/>
<circle cx="318.56" cy="2140.84" r="1.95" fill="#0e780e"/>
<circle cx="320.56" cy="2090.97" r="1.95" fill="#0e780e"/>
<circle cx="322.57" cy="2108.01" r="1.95" fill="#0e780e"/>
<circle cx="324.57" cy="2128.05" r="1.95" fill="#0e780e"/>
<circle cx="326.58" cy="2131.81" r="1.95" fill="#0e780e"/>
<circle cx="328.58" cy="2123.79" r="1.95" fill="#0e780e"/>
<circle cx="330.58" cy="2130.31" r="1.95" fill="#0e780e"/>
<circle cx="332.59" cy="2128.56" r="1.95" fill="#0e780e"/>
<circle cx="334.59" cy="2143.59" r="1.95" fill="#0e780e"/>
<circle cx="336.35" cy="2126.3" r="1.95" fill="#0e780e"/>
<circle cx="338.35" cy="2136.32" r="1.95" fill="#0e780e"/>
<circle cx="340.36" cy="2131.56" r="1.95" fill="#0e780e"/>
<circle cx="342.36" cy="2138.33" r="1.95" fill="#0e780e"/>
<circle cx="344.37" cy="2128.56" r="1.95" fill="#0e780e"/>
<circle cx="346.37" cy="2155.37" r="1.95" fill="#0e780e"/>
<circle cx="348.38" cy="2141.34" r="1.95" fill="#0e780e"/>
<circle cx="350.38" cy="2094.73" r="1.95" fill="#0e780e"/>
<circle cx="352.39" cy="2131.81" r="1.95" fill="#0e780e"/>
<circle cx="354.14" cy="2148.85" r="1.95" fill="#0e780e"/>
<circle cx="356.15" cy="2152.36" r="1.95" fill="#0e780e"/>
<circle cx="358.15" cy="2159.88" r="1.95" fill="#0e780e"/>
<circle cx="360.16" cy="2167.65" r="1.95" fill="#0e780e"/>
<circle cx="362.16" cy="2166.65" r="1.95" fill="#0e780e"/>
<circle cx="364.16" cy="2166.4" r="1.95" fill="#0e780e"/>
<circle cx="366.17" cy="2166.65" r="1.95" fill="#0e780e"/>
<circle cx="368.17" cy="2126.8" r="1.95" fill="#0e780e"/>
<circle cx="370.18" cy="2156.12" r="1.95" fill="#0e780e"/>
<circle cx="372.18" cy="2135.32" r="1.95" fill="#0e780e"/>
<circle cx="374.19" cy="2111.01" r="1.95" fill="#0e780e"/>
<circle cx="376.19" cy="2105.5" r="1.95" fill="#0e780e"/>
<circle cx="378.2" cy="2081.69" r="1.95" fill="#0e780e"/>
<circle cx="382.21" cy="2070.42" r="1.95" fill="#0e780e"/>
<rect x="237.1" y="2052.6" width="152.4" height="120.6" fill="none" stroke="#777777" stroke-width="1"/>
<rect x="237.1" y="2011.2" width="152.4" height="20.7" fill="#fff" stroke="#777777" stroke-width="1"/>
<text x="313.3" y="2026.81" font-size="14.6" text-anchor="middle" fill="#1a1a1a" font-style="italic">pelagic</text>
<rect x="237.1" y="2031.9" width="152.4" height="20.7" fill="#fff" stroke="#777777" stroke-width="1"/>
<text x="313.3" y="2047.51" font-size="14.6" text-anchor="middle" fill="#1a1a1a" font-style="italic">Engraulis mordax</text>
<line x1="234.4" y1="2084.2" x2="237.1" y2="2084.2" stroke="#333" stroke-width="1"/>
<text x="233" y="2090.81" font-size="17.2" text-anchor="end" fill="#3a3a3a">2</text>
<line x1="234.4" y1="2122.3" x2="237.1" y2="2122.3" stroke="#333" stroke-width="1"/>
<text x="233" y="2128.91" font-size="17.2" text-anchor="end" fill="#3a3a3a">0</text>
<line x1="234.4" y1="2160.4" x2="237.1" y2="2160.4" stroke="#333" stroke-width="1"/>
<text x="233" y="2167.01" font-size="17.2" text-anchor="end" fill="#3a3a3a">-2</text>
<rect x="413.8" y="2052.6" width="151.6" height="120.6" fill="#fff"/>
<line x1="413.8" y1="2128.5" x2="565.4" y2="2128.5" stroke="#ababab" stroke-width="1"/>
<line x1="559.5" y1="2052.6" x2="559.5" y2="2173.2" stroke="#999999" stroke-width="1"/>
<polyline points="420.35,2065.16 422.35,2090.72 424.36,2149.61 426.36,2126.55 428.37,2147.1 430.37,2147.85 432.37,2081.95 434.38,2072.17 436.38,2102.74 438.39,2085.7 440.39,2107.76 442.15,2099.24 444.15,2096.48 446.16,2102.74 448.16,2104 450.17,2057.89 456.18,2076.93 467.71,2167.9 473.72,2077.94 479.74,2090.97 483.75,2147.35 485.75,2141.09 487.76,2162.89 489.76,2159.63 491.52,2155.87 493.52,2165.89 495.53,2159.88 497.53,2080.19 499.53,2103.5 501.54,2152.11 503.54,2147.1 505.55,2115.78 507.55,2136.58 509.56,2134.32 511.31,2131.31 513.32,2146.85 515.32,2128.56 517.33,2112.27 519.33,2132.82 521.34,2109.51 523.34,2143.34 525.35,2125.55 527.35,2113.02 529.36,2136.83 531.36,2158.63 533.37,2147.1 535.37,2159.38 537.37,2163.89 539.38,2142.09 541.38,2145.6 543.39,2157.88 545.14,2167.15 547.15,2137.08 549.15,2163.14 551.16,2147.6 553.16,2151.36 555.17,2148.1 558.93,2155.62" fill="none" stroke="#1a1a1a" stroke-width="0.9" stroke-linejoin="round"/>
<circle cx="420.35" cy="2065.16" r="1.95" fill="#0e780e"/>
<circle cx="422.35" cy="2090.72" r="1.95" fill="#0e780e"/>
<circle cx="424.36" cy="2149.61" r="1.95" fill="#0e780e"/>
<circle cx="426.36" cy="2126.55" r="1.95" fill="#0e780e"/>
<circle cx="428.37" cy="2147.1" r="1.95" fill="#0e780e"/>
<circle cx="430.37" cy="2147.85" r="1.95" fill="#0e780e"/>
<circle cx="432.37" cy="2081.95" r="1.95" fill="#0e780e"/>
<circle cx="434.38" cy="2072.17" r="1.95" fill="#0e780e"/>
<circle cx="436.38" cy="2102.74" r="1.95" fill="#0e780e"/>
<circle cx="438.39" cy="2085.7" r="1.95" fill="#0e780e"/>
<circle cx="440.39" cy="2107.76" r="1.95" fill="#0e780e"/>
<circle cx="442.15" cy="2099.24" r="1.95" fill="#0e780e"/>
<circle cx="444.15" cy="2096.48" r="1.95" fill="#0e780e"/>
<circle cx="446.16" cy="2102.74" r="1.95" fill="#0e780e"/>
<circle cx="448.16" cy="2104" r="1.95" fill="#0e780e"/>
<circle cx="450.17" cy="2057.89" r="1.95" fill="#0e780e"/>
<circle cx="456.18" cy="2076.93" r="1.95" fill="#0e780e"/>
<circle cx="467.71" cy="2167.9" r="1.95" fill="#0e780e"/>
<circle cx="473.72" cy="2077.94" r="1.95" fill="#0e780e"/>
<circle cx="479.74" cy="2090.97" r="1.95" fill="#0e780e"/>
<circle cx="483.75" cy="2147.35" r="1.95" fill="#0e780e"/>
<circle cx="485.75" cy="2141.09" r="1.95" fill="#0e780e"/>
<circle cx="487.76" cy="2162.89" r="1.95" fill="#0e780e"/>
<circle cx="489.76" cy="2159.63" r="1.95" fill="#0e780e"/>
<circle cx="491.52" cy="2155.87" r="1.95" fill="#0e780e"/>
<circle cx="493.52" cy="2165.89" r="1.95" fill="#0e780e"/>
<circle cx="495.53" cy="2159.88" r="1.95" fill="#0e780e"/>
<circle cx="497.53" cy="2080.19" r="1.95" fill="#0e780e"/>
<circle cx="499.53" cy="2103.5" r="1.95" fill="#0e780e"/>
<circle cx="501.54" cy="2152.11" r="1.95" fill="#0e780e"/>
<circle cx="503.54" cy="2147.1" r="1.95" fill="#0e780e"/>
<circle cx="505.55" cy="2115.78" r="1.95" fill="#0e780e"/>
<circle cx="507.55" cy="2136.58" r="1.95" fill="#0e780e"/>
<circle cx="509.56" cy="2134.32" r="1.95" fill="#0e780e"/>
<circle cx="511.31" cy="2131.31" r="1.95" fill="#0e780e"/>
<circle cx="513.32" cy="2146.85" r="1.95" fill="#0e780e"/>
<circle cx="515.32" cy="2128.56" r="1.95" fill="#0e780e"/>
<circle cx="517.33" cy="2112.27" r="1.95" fill="#0e780e"/>
<circle cx="519.33" cy="2132.82" r="1.95" fill="#0e780e"/>
<circle cx="521.34" cy="2109.51" r="1.95" fill="#0e780e"/>
<circle cx="523.34" cy="2143.34" r="1.95" fill="#0e780e"/>
<circle cx="525.35" cy="2125.55" r="1.95" fill="#0e780e"/>
<circle cx="527.35" cy="2113.02" r="1.95" fill="#0e780e"/>
<circle cx="529.36" cy="2136.83" r="1.95" fill="#0e780e"/>
<circle cx="531.36" cy="2158.63" r="1.95" fill="#0e780e"/>
<circle cx="533.37" cy="2147.1" r="1.95" fill="#0e780e"/>
<circle cx="535.37" cy="2159.38" r="1.95" fill="#0e780e"/>
<circle cx="537.37" cy="2163.89" r="1.95" fill="#0e780e"/>
<circle cx="539.38" cy="2142.09" r="1.95" fill="#0e780e"/>
<circle cx="541.38" cy="2145.6" r="1.95" fill="#0e780e"/>
<circle cx="543.39" cy="2157.88" r="1.95" fill="#0e780e"/>
<circle cx="545.14" cy="2167.15" r="1.95" fill="#0e780e"/>
<circle cx="547.15" cy="2137.08" r="1.95" fill="#0e780e"/>
<circle cx="549.15" cy="2163.14" r="1.95" fill="#0e780e"/>
<circle cx="551.16" cy="2147.6" r="1.95" fill="#0e780e"/>
<circle cx="553.16" cy="2151.36" r="1.95" fill="#0e780e"/>
<circle cx="555.17" cy="2148.1" r="1.95" fill="#0e780e"/>
<circle cx="558.93" cy="2155.62" r="1.95" fill="#0e780e"/>
<rect x="413.8" y="2052.6" width="151.6" height="120.6" fill="none" stroke="#777777" stroke-width="1"/>
<rect x="413.8" y="2011.2" width="151.6" height="20.7" fill="#fff" stroke="#777777" stroke-width="1"/>
<text x="489.6" y="2026.81" font-size="14.6" text-anchor="middle" fill="#1a1a1a" font-style="italic">pelagic</text>
<rect x="413.8" y="2031.9" width="151.6" height="20.7" fill="#fff" stroke="#777777" stroke-width="1"/>
<text x="489.6" y="2047.51" font-size="14.6" text-anchor="middle" fill="#1a1a1a" font-style="italic">Merluccius productus</text>
<line x1="411.1" y1="2072.2" x2="413.8" y2="2072.2" stroke="#333" stroke-width="1"/>
<text x="409.7" y="2078.81" font-size="17.2" text-anchor="end" fill="#3a3a3a">2</text>
<line x1="411.1" y1="2100.2" x2="413.8" y2="2100.2" stroke="#333" stroke-width="1"/>
<text x="409.7" y="2106.81" font-size="17.2" text-anchor="end" fill="#3a3a3a">1</text>
<line x1="411.1" y1="2128.3" x2="413.8" y2="2128.3" stroke="#333" stroke-width="1"/>
<text x="409.7" y="2134.91" font-size="17.2" text-anchor="end" fill="#3a3a3a">0</text>
<line x1="411.1" y1="2156.4" x2="413.8" y2="2156.4" stroke="#333" stroke-width="1"/>
<text x="409.7" y="2163.01" font-size="17.2" text-anchor="end" fill="#3a3a3a">-1</text>
<line x1="420.6" y1="2173.2" x2="420.6" y2="2175.9" stroke="#333" stroke-width="1"/>
<text transform="translate(429.79,2178.4) rotate(-90)" font-size="12" text-anchor="end" fill="#2e2e2e">1951</text>
<line x1="430.5" y1="2173.2" x2="430.5" y2="2175.9" stroke="#333" stroke-width="1"/>
<text transform="translate(439.69,2178.4) rotate(-90)" font-size="12" text-anchor="end" fill="#2e2e2e">1956</text>
<line x1="440.4" y1="2173.2" x2="440.4" y2="2175.9" stroke="#333" stroke-width="1"/>
<text transform="translate(449.59,2178.4) rotate(-90)" font-size="12" text-anchor="end" fill="#2e2e2e">1961</text>
<line x1="450.3" y1="2173.2" x2="450.3" y2="2175.9" stroke="#333" stroke-width="1"/>
<text transform="translate(459.49,2178.4) rotate(-90)" font-size="12" text-anchor="end" fill="#2e2e2e">1966</text>
<line x1="460.2" y1="2173.2" x2="460.2" y2="2175.9" stroke="#333" stroke-width="1"/>
<text transform="translate(469.39,2178.4) rotate(-90)" font-size="12" text-anchor="end" fill="#2e2e2e">1971</text>
<line x1="470.1" y1="2173.2" x2="470.1" y2="2175.9" stroke="#333" stroke-width="1"/>
<text transform="translate(479.29,2178.4) rotate(-90)" font-size="12" text-anchor="end" fill="#2e2e2e">1976</text>
<line x1="480" y1="2173.2" x2="480" y2="2175.9" stroke="#333" stroke-width="1"/>
<text transform="translate(489.19,2178.4) rotate(-90)" font-size="12" text-anchor="end" fill="#2e2e2e">1981</text>
<line x1="489.9" y1="2173.2" x2="489.9" y2="2175.9" stroke="#333" stroke-width="1"/>
<text transform="translate(499.09,2178.4) rotate(-90)" font-size="12" text-anchor="end" fill="#2e2e2e">1986</text>
<line x1="499.8" y1="2173.2" x2="499.8" y2="2175.9" stroke="#333" stroke-width="1"/>
<text transform="translate(508.99,2178.4) rotate(-90)" font-size="12" text-anchor="end" fill="#2e2e2e">1991</text>
<line x1="509.7" y1="2173.2" x2="509.7" y2="2175.9" stroke="#333" stroke-width="1"/>
<text transform="translate(518.89,2178.4) rotate(-90)" font-size="12" text-anchor="end" fill="#2e2e2e">1996</text>
<line x1="519.6" y1="2173.2" x2="519.6" y2="2175.9" stroke="#333" stroke-width="1"/>
<text transform="translate(528.79,2178.4) rotate(-90)" font-size="12" text-anchor="end" fill="#2e2e2e">2001</text>
<line x1="529.5" y1="2173.2" x2="529.5" y2="2175.9" stroke="#333" stroke-width="1"/>
<text transform="translate(538.69,2178.4) rotate(-90)" font-size="12" text-anchor="end" fill="#2e2e2e">2006</text>
<line x1="539.4" y1="2173.2" x2="539.4" y2="2175.9" stroke="#333" stroke-width="1"/>
<text transform="translate(548.59,2178.4) rotate(-90)" font-size="12" text-anchor="end" fill="#2e2e2e">2011</text>
<line x1="549.3" y1="2173.2" x2="549.3" y2="2175.9" stroke="#333" stroke-width="1"/>
<text transform="translate(558.49,2178.4) rotate(-90)" font-size="12" text-anchor="end" fill="#2e2e2e">2016</text>
<line x1="559.2" y1="2173.2" x2="559.2" y2="2175.9" stroke="#333" stroke-width="1"/>
<text transform="translate(568.39,2178.4) rotate(-90)" font-size="12" text-anchor="end" fill="#2e2e2e">2021</text>
<rect x="605.1" y="2052.6" width="151.1" height="120.6" fill="#fff"/>
<line x1="605.1" y1="2140.5" x2="756.2" y2="2140.5" stroke="#ababab" stroke-width="1"/>
<line x1="750.5" y1="2052.6" x2="750.5" y2="2173.2" stroke="#999999" stroke-width="1"/>
<polyline points="611.37,2154.62 613.13,2166.15 615.13,2167.9 617.14,2162.89 619.14,2162.14 621.15,2167.9 623.15,2153.87 625.16,2159.63 627.16,2155.37 629.16,2164.64 631.17,2161.89 633.17,2162.89 635.18,2166.65 636.93,2167.9 638.94,2167.4 640.94,2167.65 646.96,2167.65 658.99,2167.65 664.75,2165.39 670.76,2165.39 674.77,2167.9 676.78,2167.9 678.78,2162.14 680.79,2153.62 682.79,2159.63 684.55,2149.11 686.55,2146.1 688.56,2162.14 690.56,2105.25 692.57,2152.11 694.57,2138.33 696.58,2112.77 698.58,2107.76 700.58,2100.49 702.59,2057.89 704.59,2074.43 706.6,2079.19 708.35,2099.24 710.36,2096.73 712.36,2088.21 714.37,2086.21 716.37,2147.35 718.38,2074.93 720.38,2114.77 722.39,2092.97 724.39,2096.48 726.4,2095.23 728.4,2148.1 730.16,2106.25 732.16,2166.4 734.16,2151.86 736.17,2148.6 738.17,2164.89 740.18,2167.9 742.18,2153.62 744.19,2151.61 745.94,2158.88 749.95,2157.63" fill="none" stroke="#1a1a1a" stroke-width="0.9" stroke-linejoin="round"/>
<circle cx="611.37" cy="2154.62" r="1.95" fill="#0e780e"/>
<circle cx="613.13" cy="2166.15" r="1.95" fill="#0e780e"/>
<circle cx="615.13" cy="2167.9" r="1.95" fill="#0e780e"/>
<circle cx="617.14" cy="2162.89" r="1.95" fill="#0e780e"/>
<circle cx="619.14" cy="2162.14" r="1.95" fill="#0e780e"/>
<circle cx="621.15" cy="2167.9" r="1.95" fill="#0e780e"/>
<circle cx="623.15" cy="2153.87" r="1.95" fill="#0e780e"/>
<circle cx="625.16" cy="2159.63" r="1.95" fill="#0e780e"/>
<circle cx="627.16" cy="2155.37" r="1.95" fill="#0e780e"/>
<circle cx="629.16" cy="2164.64" r="1.95" fill="#0e780e"/>
<circle cx="631.17" cy="2161.89" r="1.95" fill="#0e780e"/>
<circle cx="633.17" cy="2162.89" r="1.95" fill="#0e780e"/>
<circle cx="635.18" cy="2166.65" r="1.95" fill="#0e780e"/>
<circle cx="636.93" cy="2167.9" r="1.95" fill="#0e780e"/>
<circle cx="638.94" cy="2167.4" r="1.95" fill="#0e780e"/>
<circle cx="640.94" cy="2167.65" r="1.95" fill="#0e780e"/>
<circle cx="646.96" cy="2167.65" r="1.95" fill="#0e780e"/>
<circle cx="658.99" cy="2167.65" r="1.95" fill="#0e780e"/>
<circle cx="664.75" cy="2165.39" r="1.95" fill="#0e780e"/>
<circle cx="670.76" cy="2165.39" r="1.95" fill="#0e780e"/>
<circle cx="674.77" cy="2167.9" r="1.95" fill="#0e780e"/>
<circle cx="676.78" cy="2167.9" r="1.95" fill="#0e780e"/>
<circle cx="678.78" cy="2162.14" r="1.95" fill="#0e780e"/>
<circle cx="680.79" cy="2153.62" r="1.95" fill="#0e780e"/>
<circle cx="682.79" cy="2159.63" r="1.95" fill="#0e780e"/>
<circle cx="684.55" cy="2149.11" r="1.95" fill="#0e780e"/>
<circle cx="686.55" cy="2146.1" r="1.95" fill="#0e780e"/>
<circle cx="688.56" cy="2162.14" r="1.95" fill="#0e780e"/>
<circle cx="690.56" cy="2105.25" r="1.95" fill="#0e780e"/>
<circle cx="692.57" cy="2152.11" r="1.95" fill="#0e780e"/>
<circle cx="694.57" cy="2138.33" r="1.95" fill="#0e780e"/>
<circle cx="696.58" cy="2112.77" r="1.95" fill="#0e780e"/>
<circle cx="698.58" cy="2107.76" r="1.95" fill="#0e780e"/>
<circle cx="700.58" cy="2100.49" r="1.95" fill="#0e780e"/>
<circle cx="702.59" cy="2057.89" r="1.95" fill="#0e780e"/>
<circle cx="704.59" cy="2074.43" r="1.95" fill="#0e780e"/>
<circle cx="706.6" cy="2079.19" r="1.95" fill="#0e780e"/>
<circle cx="708.35" cy="2099.24" r="1.95" fill="#0e780e"/>
<circle cx="710.36" cy="2096.73" r="1.95" fill="#0e780e"/>
<circle cx="712.36" cy="2088.21" r="1.95" fill="#0e780e"/>
<circle cx="714.37" cy="2086.21" r="1.95" fill="#0e780e"/>
<circle cx="716.37" cy="2147.35" r="1.95" fill="#0e780e"/>
<circle cx="718.38" cy="2074.93" r="1.95" fill="#0e780e"/>
<circle cx="720.38" cy="2114.77" r="1.95" fill="#0e780e"/>
<circle cx="722.39" cy="2092.97" r="1.95" fill="#0e780e"/>
<circle cx="724.39" cy="2096.48" r="1.95" fill="#0e780e"/>
<circle cx="726.4" cy="2095.23" r="1.95" fill="#0e780e"/>
<circle cx="728.4" cy="2148.1" r="1.95" fill="#0e780e"/>
<circle cx="730.16" cy="2106.25" r="1.95" fill="#0e780e"/>
<circle cx="732.16" cy="2166.4" r="1.95" fill="#0e780e"/>
<circle cx="734.16" cy="2151.86" r="1.95" fill="#0e780e"/>
<circle cx="736.17" cy="2148.6" r="1.95" fill="#0e780e"/>
<circle cx="738.17" cy="2164.89" r="1.95" fill="#0e780e"/>
<circle cx="740.18" cy="2167.9" r="1.95" fill="#0e780e"/>
<circle cx="742.18" cy="2153.62" r="1.95" fill="#0e780e"/>
<circle cx="744.19" cy="2151.61" r="1.95" fill="#0e780e"/>
<circle cx="745.94" cy="2158.88" r="1.95" fill="#0e780e"/>
<circle cx="749.95" cy="2157.63" r="1.95" fill="#0e780e"/>
<rect x="605.1" y="2052.6" width="151.1" height="120.6" fill="none" stroke="#777777" stroke-width="1"/>
<rect x="605.1" y="2011.2" width="151.1" height="20.7" fill="#fff" stroke="#777777" stroke-width="1"/>
<text x="680.65" y="2026.81" font-size="14.6" text-anchor="middle" fill="#1a1a1a" font-style="italic">pelagic</text>
<rect x="605.1" y="2031.9" width="151.1" height="20.7" fill="#fff" stroke="#777777" stroke-width="1"/>
<text x="680.65" y="2047.51" font-size="14.6" text-anchor="middle" fill="#1a1a1a" font-style="italic">Sardinops sagax</text>
<line x1="602.4" y1="2073.2" x2="605.1" y2="2073.2" stroke="#333" stroke-width="1"/>
<text x="601" y="2079.81" font-size="17.2" text-anchor="end" fill="#3a3a3a">2</text>
<line x1="602.4" y1="2106.8" x2="605.1" y2="2106.8" stroke="#333" stroke-width="1"/>
<text x="601" y="2113.41" font-size="17.2" text-anchor="end" fill="#3a3a3a">1</text>
<line x1="602.4" y1="2140.3" x2="605.1" y2="2140.3" stroke="#333" stroke-width="1"/>
<text x="601" y="2146.91" font-size="17.2" text-anchor="end" fill="#3a3a3a">0</text>
<line x1="611.9" y1="2173.2" x2="611.9" y2="2175.9" stroke="#333" stroke-width="1"/>
<text transform="translate(621.09,2178.4) rotate(-90)" font-size="12" text-anchor="end" fill="#2e2e2e">1951</text>
<line x1="621.8" y1="2173.2" x2="621.8" y2="2175.9" stroke="#333" stroke-width="1"/>
<text transform="translate(630.99,2178.4) rotate(-90)" font-size="12" text-anchor="end" fill="#2e2e2e">1956</text>
<line x1="631.7" y1="2173.2" x2="631.7" y2="2175.9" stroke="#333" stroke-width="1"/>
<text transform="translate(640.89,2178.4) rotate(-90)" font-size="12" text-anchor="end" fill="#2e2e2e">1961</text>
<line x1="641.6" y1="2173.2" x2="641.6" y2="2175.9" stroke="#333" stroke-width="1"/>
<text transform="translate(650.79,2178.4) rotate(-90)" font-size="12" text-anchor="end" fill="#2e2e2e">1966</text>
<line x1="651.5" y1="2173.2" x2="651.5" y2="2175.9" stroke="#333" stroke-width="1"/>
<text transform="translate(660.69,2178.4) rotate(-90)" font-size="12" text-anchor="end" fill="#2e2e2e">1971</text>
<line x1="661.4" y1="2173.2" x2="661.4" y2="2175.9" stroke="#333" stroke-width="1"/>
<text transform="translate(670.59,2178.4) rotate(-90)" font-size="12" text-anchor="end" fill="#2e2e2e">1976</text>
<line x1="671.3" y1="2173.2" x2="671.3" y2="2175.9" stroke="#333" stroke-width="1"/>
<text transform="translate(680.49,2178.4) rotate(-90)" font-size="12" text-anchor="end" fill="#2e2e2e">1981</text>
<line x1="681.2" y1="2173.2" x2="681.2" y2="2175.9" stroke="#333" stroke-width="1"/>
<text transform="translate(690.39,2178.4) rotate(-90)" font-size="12" text-anchor="end" fill="#2e2e2e">1986</text>
<line x1="691.1" y1="2173.2" x2="691.1" y2="2175.9" stroke="#333" stroke-width="1"/>
<text transform="translate(700.29,2178.4) rotate(-90)" font-size="12" text-anchor="end" fill="#2e2e2e">1991</text>
<line x1="701" y1="2173.2" x2="701" y2="2175.9" stroke="#333" stroke-width="1"/>
<text transform="translate(710.19,2178.4) rotate(-90)" font-size="12" text-anchor="end" fill="#2e2e2e">1996</text>
<line x1="710.9" y1="2173.2" x2="710.9" y2="2175.9" stroke="#333" stroke-width="1"/>
<text transform="translate(720.09,2178.4) rotate(-90)" font-size="12" text-anchor="end" fill="#2e2e2e">2001</text>
<line x1="720.8" y1="2173.2" x2="720.8" y2="2175.9" stroke="#333" stroke-width="1"/>
<text transform="translate(729.99,2178.4) rotate(-90)" font-size="12" text-anchor="end" fill="#2e2e2e">2006</text>
<line x1="730.7" y1="2173.2" x2="730.7" y2="2175.9" stroke="#333" stroke-width="1"/>
<text transform="translate(739.89,2178.4) rotate(-90)" font-size="12" text-anchor="end" fill="#2e2e2e">2011</text>
<line x1="740.6" y1="2173.2" x2="740.6" y2="2175.9" stroke="#333" stroke-width="1"/>
<text transform="translate(749.79,2178.4) rotate(-90)" font-size="12" text-anchor="end" fill="#2e2e2e">2016</text>
<line x1="750.5" y1="2173.2" x2="750.5" y2="2175.9" stroke="#333" stroke-width="1"/>
<text transform="translate(759.69,2178.4) rotate(-90)" font-size="12" text-anchor="end" fill="#2e2e2e">2021</text>
<rect x="45.6" y="2219.4" width="151.9" height="119.8" fill="#fff"/>
<line x1="45.6" y1="2317.5" x2="197.5" y2="2317.5" stroke="#ababab" stroke-width="1"/>
<line x1="191.5" y1="2219.4" x2="191.5" y2="2339.2" stroke="#999999" stroke-width="1"/>
<polyline points="52.37,2322.36 54.38,2329.38 56.38,2334.14 58.39,2334.14 60.39,2334.14 62.4,2334.14 64.4,2334.14 66.41,2329.38 68.41,2311.09 70.42,2334.14 72.42,2329.38 74.43,2326.62 76.43,2334.14 78.44,2334.14 80.44,2334.14 82.45,2334.14 88.21,2334.14 100.24,2334.14 106.25,2334.14 111.77,2271.99 115.78,2334.14 117.78,2334.14 119.79,2299.31 121.79,2224.63 123.79,2235.66 125.8,2236.66 127.8,2297.8 129.81,2334.14 131.81,2301.56 133.82,2280.26 135.57,2313.59 137.58,2330.88 139.58,2296.3 141.59,2287.28 143.59,2290.54 145.6,2308.33 147.6,2334.14 149.61,2334.14 151.36,2324.37 153.37,2334.14 155.37,2328.38 157.37,2324.87 158.88,2296.55 161.38,2329.38 163.39,2334.14 165.39,2334.14 167.4,2334.14 169.4,2315.35 171.41,2330.88 173.41,2334.14 175.42,2334.14 177.42,2334.14 178.93,2243.93 180.93,2304.57 182.94,2334.14 184.94,2321.61 186.95,2329.13 190.95,2325.62" fill="none" stroke="#1a1a1a" stroke-width="0.9" stroke-linejoin="round"/>
<circle cx="52.37" cy="2322.36" r="1.95" fill="#0e780e"/>
<circle cx="54.38" cy="2329.38" r="1.95" fill="#0e780e"/>
<circle cx="56.38" cy="2334.14" r="1.95" fill="#0e780e"/>
<circle cx="58.39" cy="2334.14" r="1.95" fill="#0e780e"/>
<circle cx="60.39" cy="2334.14" r="1.95" fill="#0e780e"/>
<circle cx="62.4" cy="2334.14" r="1.95" fill="#0e780e"/>
<circle cx="64.4" cy="2334.14" r="1.95" fill="#0e780e"/>
<circle cx="66.41" cy="2329.38" r="1.95" fill="#0e780e"/>
<circle cx="68.41" cy="2311.09" r="1.95" fill="#0e780e"/>
<circle cx="70.42" cy="2334.14" r="1.95" fill="#0e780e"/>
<circle cx="72.42" cy="2329.38" r="1.95" fill="#0e780e"/>
<circle cx="74.43" cy="2326.62" r="1.95" fill="#0e780e"/>
<circle cx="76.43" cy="2334.14" r="1.95" fill="#0e780e"/>
<circle cx="78.44" cy="2334.14" r="1.95" fill="#0e780e"/>
<circle cx="80.44" cy="2334.14" r="1.95" fill="#0e780e"/>
<circle cx="82.45" cy="2334.14" r="1.95" fill="#0e780e"/>
<circle cx="88.21" cy="2334.14" r="1.95" fill="#0e780e"/>
<circle cx="100.24" cy="2334.14" r="1.95" fill="#0e780e"/>
<circle cx="106.25" cy="2334.14" r="1.95" fill="#0e780e"/>
<circle cx="111.77" cy="2271.99" r="1.95" fill="#0e780e"/>
<circle cx="115.78" cy="2334.14" r="1.95" fill="#0e780e"/>
<circle cx="117.78" cy="2334.14" r="1.95" fill="#0e780e"/>
<circle cx="119.79" cy="2299.31" r="1.95" fill="#0e780e"/>
<circle cx="121.79" cy="2224.63" r="1.95" fill="#0e780e"/>
<circle cx="123.79" cy="2235.66" r="1.95" fill="#0e780e"/>
<circle cx="125.8" cy="2236.66" r="1.95" fill="#0e780e"/>
<circle cx="127.8" cy="2297.8" r="1.95" fill="#0e780e"/>
<circle cx="129.81" cy="2334.14" r="1.95" fill="#0e780e"/>
<circle cx="131.81" cy="2301.56" r="1.95" fill="#0e780e"/>
<circle cx="133.82" cy="2280.26" r="1.95" fill="#0e780e"/>
<circle cx="135.57" cy="2313.59" r="1.95" fill="#0e780e"/>
<circle cx="137.58" cy="2330.88" r="1.95" fill="#0e780e"/>
<circle cx="139.58" cy="2296.3" r="1.95" fill="#0e780e"/>
<circle cx="141.59" cy="2287.28" r="1.95" fill="#0e780e"/>
<circle cx="143.59" cy="2290.54" r="1.95" fill="#0e780e"/>
<circle cx="145.6" cy="2308.33" r="1.95" fill="#0e780e"/>
<circle cx="147.6" cy="2334.14" r="1.95" fill="#0e780e"/>
<circle cx="149.61" cy="2334.14" r="1.95" fill="#0e780e"/>
<circle cx="151.36" cy="2324.37" r="1.95" fill="#0e780e"/>
<circle cx="153.37" cy="2334.14" r="1.95" fill="#0e780e"/>
<circle cx="155.37" cy="2328.38" r="1.95" fill="#0e780e"/>
<circle cx="157.37" cy="2324.87" r="1.95" fill="#0e780e"/>
<circle cx="158.88" cy="2296.55" r="1.95" fill="#0e780e"/>
<circle cx="161.38" cy="2329.38" r="1.95" fill="#0e780e"/>
<circle cx="163.39" cy="2334.14" r="1.95" fill="#0e780e"/>
<circle cx="165.39" cy="2334.14" r="1.95" fill="#0e780e"/>
<circle cx="167.4" cy="2334.14" r="1.95" fill="#0e780e"/>
<circle cx="169.4" cy="2315.35" r="1.95" fill="#0e780e"/>
<circle cx="171.41" cy="2330.88" r="1.95" fill="#0e780e"/>
<circle cx="173.41" cy="2334.14" r="1.95" fill="#0e780e"/>
<circle cx="175.42" cy="2334.14" r="1.95" fill="#0e780e"/>
<circle cx="177.42" cy="2334.14" r="1.95" fill="#0e780e"/>
<circle cx="178.93" cy="2243.93" r="1.95" fill="#0e780e"/>
<circle cx="180.93" cy="2304.57" r="1.95" fill="#0e780e"/>
<circle cx="182.94" cy="2334.14" r="1.95" fill="#0e780e"/>
<circle cx="184.94" cy="2321.61" r="1.95" fill="#0e780e"/>
<circle cx="186.95" cy="2329.13" r="1.95" fill="#0e780e"/>
<circle cx="190.95" cy="2325.62" r="1.95" fill="#0e780e"/>
<rect x="45.6" y="2219.4" width="151.9" height="119.8" fill="none" stroke="#777777" stroke-width="1"/>
<rect x="45.6" y="2178.3" width="151.9" height="20.5" fill="#fff" stroke="#777777" stroke-width="1"/>
<text x="121.55" y="2193.81" font-size="14.6" text-anchor="middle" fill="#1a1a1a" font-style="italic">pelagic</text>
<rect x="45.6" y="2198.8" width="151.9" height="20.6" fill="#fff" stroke="#777777" stroke-width="1"/>
<text x="121.55" y="2214.36" font-size="14.6" text-anchor="middle" fill="#1a1a1a" font-style="italic">Scomber japonicus</text>
<line x1="42.9" y1="2220.9" x2="45.6" y2="2220.9" stroke="#333" stroke-width="1"/>
<text x="41.5" y="2227.51" font-size="17.2" text-anchor="end" fill="#3a3a3a">0.8</text>
<line x1="42.9" y1="2244.9" x2="45.6" y2="2244.9" stroke="#333" stroke-width="1"/>
<text x="41.5" y="2251.51" font-size="17.2" text-anchor="end" fill="#3a3a3a">0.6</text>
<line x1="42.9" y1="2269" x2="45.6" y2="2269" stroke="#333" stroke-width="1"/>
<text x="41.5" y="2275.61" font-size="17.2" text-anchor="end" fill="#3a3a3a">0.4</text>
<line x1="42.9" y1="2293" x2="45.6" y2="2293" stroke="#333" stroke-width="1"/>
<text x="41.5" y="2299.61" font-size="17.2" text-anchor="end" fill="#3a3a3a">0.2</text>
<line x1="42.9" y1="2317.1" x2="45.6" y2="2317.1" stroke="#333" stroke-width="1"/>
<text x="41.5" y="2323.71" font-size="17.2" text-anchor="end" fill="#3a3a3a">0.0</text>
<line x1="52.4" y1="2339.2" x2="52.4" y2="2341.9" stroke="#333" stroke-width="1"/>
<text transform="translate(61.59,2344.4) rotate(-90)" font-size="12" text-anchor="end" fill="#2e2e2e">1951</text>
<line x1="62.3" y1="2339.2" x2="62.3" y2="2341.9" stroke="#333" stroke-width="1"/>
<text transform="translate(71.49,2344.4) rotate(-90)" font-size="12" text-anchor="end" fill="#2e2e2e">1956</text>
<line x1="72.2" y1="2339.2" x2="72.2" y2="2341.9" stroke="#333" stroke-width="1"/>
<text transform="translate(81.39,2344.4) rotate(-90)" font-size="12" text-anchor="end" fill="#2e2e2e">1961</text>
<line x1="82.1" y1="2339.2" x2="82.1" y2="2341.9" stroke="#333" stroke-width="1"/>
<text transform="translate(91.29,2344.4) rotate(-90)" font-size="12" text-anchor="end" fill="#2e2e2e">1966</text>
<line x1="92" y1="2339.2" x2="92" y2="2341.9" stroke="#333" stroke-width="1"/>
<text transform="translate(101.19,2344.4) rotate(-90)" font-size="12" text-anchor="end" fill="#2e2e2e">1971</text>
<line x1="101.9" y1="2339.2" x2="101.9" y2="2341.9" stroke="#333" stroke-width="1"/>
<text transform="translate(111.09,2344.4) rotate(-90)" font-size="12" text-anchor="end" fill="#2e2e2e">1976</text>
<line x1="111.8" y1="2339.2" x2="111.8" y2="2341.9" stroke="#333" stroke-width="1"/>
<text transform="translate(120.99,2344.4) rotate(-90)" font-size="12" text-anchor="end" fill="#2e2e2e">1981</text>
<line x1="121.7" y1="2339.2" x2="121.7" y2="2341.9" stroke="#333" stroke-width="1"/>
<text transform="translate(130.89,2344.4) rotate(-90)" font-size="12" text-anchor="end" fill="#2e2e2e">1986</text>
<line x1="131.6" y1="2339.2" x2="131.6" y2="2341.9" stroke="#333" stroke-width="1"/>
<text transform="translate(140.79,2344.4) rotate(-90)" font-size="12" text-anchor="end" fill="#2e2e2e">1991</text>
<line x1="141.5" y1="2339.2" x2="141.5" y2="2341.9" stroke="#333" stroke-width="1"/>
<text transform="translate(150.69,2344.4) rotate(-90)" font-size="12" text-anchor="end" fill="#2e2e2e">1996</text>
<line x1="151.4" y1="2339.2" x2="151.4" y2="2341.9" stroke="#333" stroke-width="1"/>
<text transform="translate(160.59,2344.4) rotate(-90)" font-size="12" text-anchor="end" fill="#2e2e2e">2001</text>
<line x1="161.3" y1="2339.2" x2="161.3" y2="2341.9" stroke="#333" stroke-width="1"/>
<text transform="translate(170.49,2344.4) rotate(-90)" font-size="12" text-anchor="end" fill="#2e2e2e">2006</text>
<line x1="171.2" y1="2339.2" x2="171.2" y2="2341.9" stroke="#333" stroke-width="1"/>
<text transform="translate(180.39,2344.4) rotate(-90)" font-size="12" text-anchor="end" fill="#2e2e2e">2011</text>
<line x1="181.1" y1="2339.2" x2="181.1" y2="2341.9" stroke="#333" stroke-width="1"/>
<text transform="translate(190.29,2344.4) rotate(-90)" font-size="12" text-anchor="end" fill="#2e2e2e">2016</text>
<line x1="191" y1="2339.2" x2="191" y2="2341.9" stroke="#333" stroke-width="1"/>
<text transform="translate(200.19,2344.4) rotate(-90)" font-size="12" text-anchor="end" fill="#2e2e2e">2021</text>
<rect x="237.1" y="2219.4" width="152.4" height="119.8" fill="#fff"/>
<line x1="237.1" y1="2309.5" x2="389.5" y2="2309.5" stroke="#ababab" stroke-width="1"/>
<line x1="382.5" y1="2219.4" x2="382.5" y2="2339.2" stroke="#999999" stroke-width="1"/>
<polyline points="243.38,2224.63 245.38,2290.79 247.39,2333.14 249.39,2304.82 251.4,2321.11 253.4,2326.62 255.41,2315.35 257.41,2296.05 259.42,2293.04 261.42,2313.59 263.42,2312.34 265.43,2304.57 267.43,2312.34 269.19,2316.1 271.19,2299.31 273.2,2322.86 278.96,2309.58 290.74,2334.39 296.75,2287.53 302.77,2301.06 306.78,2318.35 308.78,2319.61 310.79,2314.59 312.79,2296.05 314.55,2300.56 316.55,2316.85 318.56,2311.59 320.56,2334.64 322.57,2332.39 324.57,2308.08 326.58,2312.84 328.58,2296.55 330.58,2290.79 332.59,2285.78 334.59,2299.56 336.35,2299.06 338.35,2310.08 340.36,2311.59 342.36,2317.85 344.37,2304.07 346.37,2315.85 348.38,2312.09 350.38,2290.29 352.39,2321.86 354.14,2317.85 356.15,2327.88 358.15,2332.89 360.16,2324.62 362.16,2304.32 364.16,2334.14 366.17,2333.14 368.17,2290.79 370.18,2293.04 372.18,2301.56 374.19,2309.58 376.19,2315.85 378.2,2319.86 382.21,2325.62" fill="none" stroke="#1a1a1a" stroke-width="0.9" stroke-linejoin="round"/>
<circle cx="243.38" cy="2224.63" r="1.95" fill="#0e780e"/>
<circle cx="245.38" cy="2290.79" r="1.95" fill="#0e780e"/>
<circle cx="247.39" cy="2333.14" r="1.95" fill="#0e780e"/>
<circle cx="249.39" cy="2304.82" r="1.95" fill="#0e780e"/>
<circle cx="251.4" cy="2321.11" r="1.95" fill="#0e780e"/>
<circle cx="253.4" cy="2326.62" r="1.95" fill="#0e780e"/>
<circle cx="255.41" cy="2315.35" r="1.95" fill="#0e780e"/>
<circle cx="257.41" cy="2296.05" r="1.95" fill="#0e780e"/>
<circle cx="259.42" cy="2293.04" r="1.95" fill="#0e780e"/>
<circle cx="261.42" cy="2313.59" r="1.95" fill="#0e780e"/>
<circle cx="263.42" cy="2312.34" r="1.95" fill="#0e780e"/>
<circle cx="265.43" cy="2304.57" r="1.95" fill="#0e780e"/>
<circle cx="267.43" cy="2312.34" r="1.95" fill="#0e780e"/>
<circle cx="269.19" cy="2316.1" r="1.95" fill="#0e780e"/>
<circle cx="271.19" cy="2299.31" r="1.95" fill="#0e780e"/>
<circle cx="273.2" cy="2322.86" r="1.95" fill="#0e780e"/>
<circle cx="278.96" cy="2309.58" r="1.95" fill="#0e780e"/>
<circle cx="290.74" cy="2334.39" r="1.95" fill="#0e780e"/>
<circle cx="296.75" cy="2287.53" r="1.95" fill="#0e780e"/>
<circle cx="302.77" cy="2301.06" r="1.95" fill="#0e780e"/>
<circle cx="306.78" cy="2318.35" r="1.95" fill="#0e780e"/>
<circle cx="308.78" cy="2319.61" r="1.95" fill="#0e780e"/>
<circle cx="310.79" cy="2314.59" r="1.95" fill="#0e780e"/>
<circle cx="312.79" cy="2296.05" r="1.95" fill="#0e780e"/>
<circle cx="314.55" cy="2300.56" r="1.95" fill="#0e780e"/>
<circle cx="316.55" cy="2316.85" r="1.95" fill="#0e780e"/>
<circle cx="318.56" cy="2311.59" r="1.95" fill="#0e780e"/>
<circle cx="320.56" cy="2334.64" r="1.95" fill="#0e780e"/>
<circle cx="322.57" cy="2332.39" r="1.95" fill="#0e780e"/>
<circle cx="324.57" cy="2308.08" r="1.95" fill="#0e780e"/>
<circle cx="326.58" cy="2312.84" r="1.95" fill="#0e780e"/>
<circle cx="328.58" cy="2296.55" r="1.95" fill="#0e780e"/>
<circle cx="330.58" cy="2290.79" r="1.95" fill="#0e780e"/>
<circle cx="332.59" cy="2285.78" r="1.95" fill="#0e780e"/>
<circle cx="334.59" cy="2299.56" r="1.95" fill="#0e780e"/>
<circle cx="336.35" cy="2299.06" r="1.95" fill="#0e780e"/>
<circle cx="338.35" cy="2310.08" r="1.95" fill="#0e780e"/>
<circle cx="340.36" cy="2311.59" r="1.95" fill="#0e780e"/>
<circle cx="342.36" cy="2317.85" r="1.95" fill="#0e780e"/>
<circle cx="344.37" cy="2304.07" r="1.95" fill="#0e780e"/>
<circle cx="346.37" cy="2315.85" r="1.95" fill="#0e780e"/>
<circle cx="348.38" cy="2312.09" r="1.95" fill="#0e780e"/>
<circle cx="350.38" cy="2290.29" r="1.95" fill="#0e780e"/>
<circle cx="352.39" cy="2321.86" r="1.95" fill="#0e780e"/>
<circle cx="354.14" cy="2317.85" r="1.95" fill="#0e780e"/>
<circle cx="356.15" cy="2327.88" r="1.95" fill="#0e780e"/>
<circle cx="358.15" cy="2332.89" r="1.95" fill="#0e780e"/>
<circle cx="360.16" cy="2324.62" r="1.95" fill="#0e780e"/>
<circle cx="362.16" cy="2304.32" r="1.95" fill="#0e780e"/>
<circle cx="364.16" cy="2334.14" r="1.95" fill="#0e780e"/>
<circle cx="366.17" cy="2333.14" r="1.95" fill="#0e780e"/>
<circle cx="368.17" cy="2290.79" r="1.95" fill="#0e780e"/>
<circle cx="370.18" cy="2293.04" r="1.95" fill="#0e780e"/>
<circle cx="372.18" cy="2301.56" r="1.95" fill="#0e780e"/>
<circle cx="374.19" cy="2309.58" r="1.95" fill="#0e780e"/>
<circle cx="376.19" cy="2315.85" r="1.95" fill="#0e780e"/>
<circle cx="378.2" cy="2319.86" r="1.95" fill="#0e780e"/>
<circle cx="382.21" cy="2325.62" r="1.95" fill="#0e780e"/>
<rect x="237.1" y="2219.4" width="152.4" height="119.8" fill="none" stroke="#777777" stroke-width="1"/>
<rect x="237.1" y="2178.3" width="152.4" height="20.5" fill="#fff" stroke="#777777" stroke-width="1"/>
<text x="313.3" y="2193.81" font-size="14.6" text-anchor="middle" fill="#1a1a1a" font-style="italic">pelagic</text>
<rect x="237.1" y="2198.8" width="152.4" height="20.6" fill="#fff" stroke="#777777" stroke-width="1"/>
<text x="313.3" y="2214.36" font-size="14.6" text-anchor="middle" fill="#1a1a1a" font-style="italic">Trachurus symmetricus</text>
<line x1="234.4" y1="2241.4" x2="237.1" y2="2241.4" stroke="#333" stroke-width="1"/>
<text x="233" y="2248.01" font-size="17.2" text-anchor="end" fill="#3a3a3a">2</text>
<line x1="234.4" y1="2275.3" x2="237.1" y2="2275.3" stroke="#333" stroke-width="1"/>
<text x="233" y="2281.91" font-size="17.2" text-anchor="end" fill="#3a3a3a">1</text>
<line x1="234.4" y1="2309.3" x2="237.1" y2="2309.3" stroke="#333" stroke-width="1"/>
<text x="233" y="2315.91" font-size="17.2" text-anchor="end" fill="#3a3a3a">0</text>
<line x1="243.9" y1="2339.2" x2="243.9" y2="2341.9" stroke="#333" stroke-width="1"/>
<text transform="translate(253.09,2344.4) rotate(-90)" font-size="12" text-anchor="end" fill="#2e2e2e">1951</text>
<line x1="253.8" y1="2339.2" x2="253.8" y2="2341.9" stroke="#333" stroke-width="1"/>
<text transform="translate(262.99,2344.4) rotate(-90)" font-size="12" text-anchor="end" fill="#2e2e2e">1956</text>
<line x1="263.7" y1="2339.2" x2="263.7" y2="2341.9" stroke="#333" stroke-width="1"/>
<text transform="translate(272.89,2344.4) rotate(-90)" font-size="12" text-anchor="end" fill="#2e2e2e">1961</text>
<line x1="273.6" y1="2339.2" x2="273.6" y2="2341.9" stroke="#333" stroke-width="1"/>
<text transform="translate(282.79,2344.4) rotate(-90)" font-size="12" text-anchor="end" fill="#2e2e2e">1966</text>
<line x1="283.5" y1="2339.2" x2="283.5" y2="2341.9" stroke="#333" stroke-width="1"/>
<text transform="translate(292.69,2344.4) rotate(-90)" font-size="12" text-anchor="end" fill="#2e2e2e">1971</text>
<line x1="293.4" y1="2339.2" x2="293.4" y2="2341.9" stroke="#333" stroke-width="1"/>
<text transform="translate(302.59,2344.4) rotate(-90)" font-size="12" text-anchor="end" fill="#2e2e2e">1976</text>
<line x1="303.3" y1="2339.2" x2="303.3" y2="2341.9" stroke="#333" stroke-width="1"/>
<text transform="translate(312.49,2344.4) rotate(-90)" font-size="12" text-anchor="end" fill="#2e2e2e">1981</text>
<line x1="313.2" y1="2339.2" x2="313.2" y2="2341.9" stroke="#333" stroke-width="1"/>
<text transform="translate(322.39,2344.4) rotate(-90)" font-size="12" text-anchor="end" fill="#2e2e2e">1986</text>
<line x1="323.1" y1="2339.2" x2="323.1" y2="2341.9" stroke="#333" stroke-width="1"/>
<text transform="translate(332.29,2344.4) rotate(-90)" font-size="12" text-anchor="end" fill="#2e2e2e">1991</text>
<line x1="333" y1="2339.2" x2="333" y2="2341.9" stroke="#333" stroke-width="1"/>
<text transform="translate(342.19,2344.4) rotate(-90)" font-size="12" text-anchor="end" fill="#2e2e2e">1996</text>
<line x1="342.9" y1="2339.2" x2="342.9" y2="2341.9" stroke="#333" stroke-width="1"/>
<text transform="translate(352.09,2344.4) rotate(-90)" font-size="12" text-anchor="end" fill="#2e2e2e">2001</text>
<line x1="352.8" y1="2339.2" x2="352.8" y2="2341.9" stroke="#333" stroke-width="1"/>
<text transform="translate(361.99,2344.4) rotate(-90)" font-size="12" text-anchor="end" fill="#2e2e2e">2006</text>
<line x1="362.7" y1="2339.2" x2="362.7" y2="2341.9" stroke="#333" stroke-width="1"/>
<text transform="translate(371.89,2344.4) rotate(-90)" font-size="12" text-anchor="end" fill="#2e2e2e">2011</text>
<line x1="372.6" y1="2339.2" x2="372.6" y2="2341.9" stroke="#333" stroke-width="1"/>
<text transform="translate(381.79,2344.4) rotate(-90)" font-size="12" text-anchor="end" fill="#2e2e2e">2016</text>
<line x1="382.5" y1="2339.2" x2="382.5" y2="2341.9" stroke="#333" stroke-width="1"/>
<text transform="translate(391.69,2344.4) rotate(-90)" font-size="12" text-anchor="end" fill="#2e2e2e">2021</text></svg></body></html>
